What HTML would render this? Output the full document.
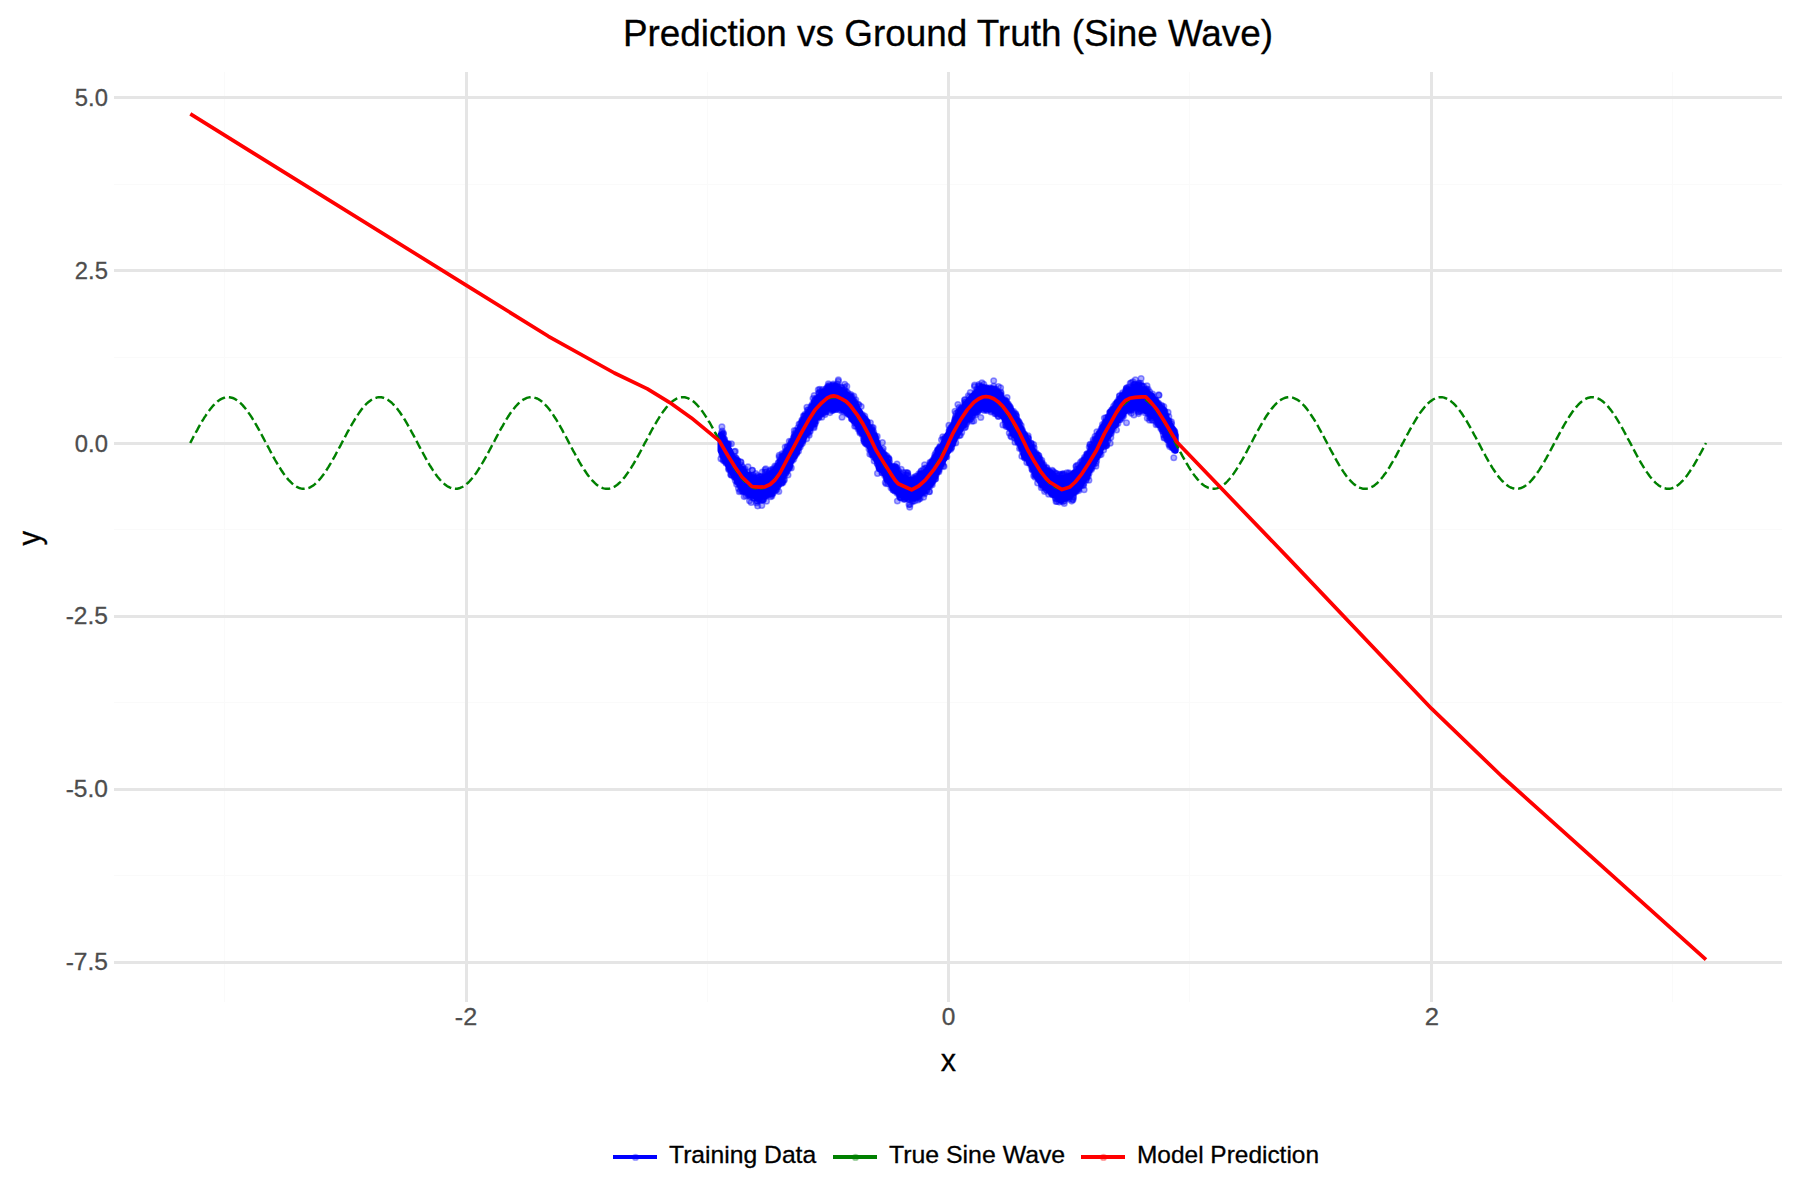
<!DOCTYPE html>
<html lang="en"><head><meta charset="utf-8"><title>Prediction vs Ground Truth (Sine Wave)</title>
<style>html,body{margin:0;padding:0;background:#fff}body{width:1800px;height:1200px;overflow:hidden}svg{display:block}</style>
</head><body>
<svg width="1800" height="1200" viewBox="0 0 1800 1200">
<rect width="1800" height="1200" fill="#fff"/>
<g stroke="#fafafa" stroke-width="1" fill="none">
<path d="M224.5 72V1002"/>
<path d="M707.5 72V1002"/>
<path d="M1189.5 72V1002"/>
<path d="M1672.5 72V1002"/>
<path d="M114 184.5H1782"/>
<path d="M114 357.5H1782"/>
<path d="M114 529.5H1782"/>
<path d="M114 702.5H1782"/>
<path d="M114 875.5H1782"/>
</g>
<g stroke="#e5e5e5" stroke-width="3" fill="none">
<path d="M466.5 72V1002"/>
<path d="M948.5 72V1002"/>
<path d="M1431.5 72V1002"/>
<path d="M114 97.5H1782"/>
<path d="M114 270.5H1782"/>
<path d="M114 443.5H1782"/>
<path d="M114 616.5H1782"/>
<path d="M114 789.5H1782"/>
<path d="M114 962.5H1782"/>
</g>
<polygon points="720.7,435.4 721.9,437.6 723,439.7 724.1,441.9 725.3,444 726.4,446.1 727.6,448.2 728.7,450.3 729.8,452.3 731,454.3 732.1,456.2 733.3,458.1 734.4,460 735.5,461.8 736.7,463.5 737.8,465.2 739,466.8 740.1,468.4 741.2,469.8 742.4,471.2 743.5,472.5 744.7,473.7 745.8,474.9 746.9,475.9 748.1,476.9 749.2,477.8 750.4,478.5 751.5,479.2 752.6,479.8 753.8,480.3 754.9,480.7 756.1,480.9 757.2,481.1 758.3,481.2 759.5,481.2 760.6,481 761.8,480.8 762.9,480.5 764,480.1 765.2,479.5 766.3,478.9 767.5,478.2 768.6,477.3 769.7,476.4 770.9,475.4 772,474.3 773.2,473.1 774.3,471.9 775.4,470.5 776.6,469.1 777.7,467.6 778.9,466 780,464.4 781.1,462.7 782.3,460.9 783.4,459.1 784.6,457.2 785.7,455.3 786.8,453.3 788,451.3 789.1,449.2 790.2,447.2 791.4,445.1 792.5,442.9 793.7,440.8 794.8,438.6 795.9,436.5 797.1,434.3 798.2,432.2 799.4,430 800.5,427.9 801.6,425.7 802.8,423.6 803.9,421.6 805.1,419.5 806.2,417.5 807.3,415.5 808.5,413.6 809.6,411.7 810.8,409.9 811.9,408.1 813,406.4 814.2,404.8 815.3,403.2 816.5,401.7 817.6,400.3 818.7,398.9 819.9,397.7 821,396.5 822.2,395.4 823.3,394.4 824.4,393.5 825.6,392.6 826.7,391.9 827.9,391.3 829,390.7 830.1,390.3 831.3,390 832.4,389.8 833.6,389.6 834.7,389.6 835.8,389.7 837,389.9 838.1,390.1 839.3,390.5 840.4,391 841.5,391.6 842.7,392.3 843.8,393 845,393.9 846.1,394.9 847.2,395.9 848.4,397.1 849.5,398.3 850.7,399.6 851.8,401 852.9,402.4 854.1,404 855.2,405.6 856.4,407.3 857.5,409 858.6,410.8 859.8,412.7 860.9,414.6 862.1,416.5 863.2,418.5 864.3,420.5 865.5,422.6 866.6,424.7 867.8,426.8 868.9,428.9 870,431.1 871.2,433.2 872.3,435.4 873.4,437.6 874.6,439.7 875.7,441.9 876.9,444 878,446.1 879.1,448.2 880.3,450.3 881.4,452.3 882.6,454.3 883.7,456.2 884.8,458.1 886,460 887.1,461.8 888.3,463.5 889.4,465.2 890.5,466.8 891.7,468.4 892.8,469.8 894,471.2 895.1,472.5 896.2,473.7 897.4,474.9 898.5,475.9 899.7,476.9 900.8,477.8 901.9,478.5 903.1,479.2 904.2,479.8 905.4,480.3 906.5,480.7 907.6,480.9 908.8,481.1 909.9,481.2 911.1,481.2 912.2,481 913.3,480.8 914.5,480.5 915.6,480.1 916.8,479.5 917.9,478.9 919,478.2 920.2,477.3 921.3,476.4 922.5,475.4 923.6,474.3 924.7,473.1 925.9,471.9 927,470.5 928.2,469.1 929.3,467.6 930.4,466 931.6,464.4 932.7,462.7 933.9,460.9 935,459.1 936.1,457.2 937.3,455.3 938.4,453.3 939.6,451.3 940.7,449.2 941.8,447.2 943,445.1 944.1,442.9 945.3,440.8 946.4,438.6 947.5,436.5 948.7,434.3 949.8,432.2 950.9,430 952.1,427.9 953.2,425.7 954.4,423.6 955.5,421.6 956.6,419.5 957.8,417.5 958.9,415.5 960.1,413.6 961.2,411.7 962.3,409.9 963.5,408.1 964.6,406.4 965.8,404.8 966.9,403.2 968,401.7 969.2,400.3 970.3,398.9 971.5,397.7 972.6,396.5 973.7,395.4 974.9,394.4 976,393.5 977.2,392.6 978.3,391.9 979.4,391.3 980.6,390.7 981.7,390.3 982.9,390 984,389.8 985.1,389.6 986.3,389.6 987.4,389.7 988.6,389.9 989.7,390.1 990.8,390.5 992,391 993.1,391.6 994.3,392.3 995.4,393 996.5,393.9 997.7,394.9 998.8,395.9 1000,397.1 1001.1,398.3 1002.2,399.6 1003.4,401 1004.5,402.4 1005.7,404 1006.8,405.6 1007.9,407.3 1009.1,409 1010.2,410.8 1011.4,412.7 1012.5,414.6 1013.6,416.5 1014.8,418.5 1015.9,420.5 1017.1,422.6 1018.2,424.7 1019.3,426.8 1020.5,428.9 1021.6,431.1 1022.8,433.2 1023.9,435.4 1025,437.6 1026.2,439.7 1027.3,441.9 1028.4,444 1029.6,446.1 1030.7,448.2 1031.9,450.3 1033,452.3 1034.1,454.3 1035.3,456.2 1036.4,458.1 1037.6,460 1038.7,461.8 1039.8,463.5 1041,465.2 1042.1,466.8 1043.3,468.4 1044.4,469.8 1045.5,471.2 1046.7,472.5 1047.8,473.7 1049,474.9 1050.1,475.9 1051.2,476.9 1052.4,477.8 1053.5,478.5 1054.7,479.2 1055.8,479.8 1056.9,480.3 1058.1,480.7 1059.2,480.9 1060.4,481.1 1061.5,481.2 1062.6,481.2 1063.8,481 1064.9,480.8 1066.1,480.5 1067.2,480.1 1068.3,479.5 1069.5,478.9 1070.6,478.2 1071.8,477.3 1072.9,476.4 1074,475.4 1075.2,474.3 1076.3,473.1 1077.5,471.9 1078.6,470.5 1079.7,469.1 1080.9,467.6 1082,466 1083.2,464.4 1084.3,462.7 1085.4,460.9 1086.6,459.1 1087.7,457.2 1088.9,455.3 1090,453.3 1091.1,451.3 1092.3,449.2 1093.4,447.2 1094.6,445.1 1095.7,442.9 1096.8,440.8 1098,438.6 1099.1,436.5 1100.3,434.3 1101.4,432.2 1102.5,430 1103.7,427.9 1104.8,425.7 1106,423.6 1107.1,421.6 1108.2,419.5 1109.4,417.5 1110.5,415.5 1111.6,413.6 1112.8,411.7 1113.9,409.9 1115.1,408.1 1116.2,406.4 1117.3,404.8 1118.5,403.2 1119.6,401.7 1120.8,400.3 1121.9,398.9 1123,397.7 1124.2,396.5 1125.3,395.4 1126.5,394.4 1127.6,393.5 1128.7,392.6 1129.9,391.9 1131,391.3 1132.2,390.7 1133.3,390.3 1134.4,390 1135.6,389.8 1136.7,389.6 1137.9,389.6 1139,389.7 1140.1,389.9 1141.3,390.1 1142.4,390.5 1143.6,391 1144.7,391.6 1145.8,392.3 1147,393 1148.1,393.9 1149.3,394.9 1150.4,395.9 1151.5,397.1 1152.7,398.3 1153.8,399.6 1155,401 1156.1,402.4 1157.2,404 1158.4,405.6 1159.5,407.3 1160.7,409 1161.8,410.8 1162.9,412.7 1164.1,414.6 1165.2,416.5 1166.4,418.5 1167.5,420.5 1168.6,422.6 1169.8,424.7 1170.9,426.8 1172.1,428.9 1173.2,431.1 1174.3,433.2 1175.5,435.4 1175.5,450.6 1174.3,448.4 1173.2,446.3 1172.1,444.1 1170.9,442 1169.8,439.9 1168.6,437.8 1167.5,435.7 1166.4,433.7 1165.2,431.7 1164.1,429.8 1162.9,427.9 1161.8,426 1160.7,424.2 1159.5,422.5 1158.4,420.8 1157.2,419.2 1156.1,417.6 1155,416.2 1153.8,414.8 1152.7,413.5 1151.5,412.3 1150.4,411.1 1149.3,410.1 1148.1,409.1 1147,408.2 1145.8,407.5 1144.7,406.8 1143.6,406.2 1142.4,405.7 1141.3,405.3 1140.1,405.1 1139,404.9 1137.9,404.8 1136.7,404.8 1135.6,405 1134.4,405.2 1133.3,405.5 1132.2,405.9 1131,406.5 1129.9,407.1 1128.7,407.8 1127.6,408.7 1126.5,409.6 1125.3,410.6 1124.2,411.7 1123,412.9 1121.9,414.1 1120.8,415.5 1119.6,416.9 1118.5,418.4 1117.3,420 1116.2,421.6 1115.1,423.3 1113.9,425.1 1112.8,426.9 1111.6,428.8 1110.5,430.7 1109.4,432.7 1108.2,434.7 1107.1,436.8 1106,438.8 1104.8,440.9 1103.7,443.1 1102.5,445.2 1101.4,447.4 1100.3,449.5 1099.1,451.7 1098,453.8 1096.8,456 1095.7,458.1 1094.6,460.3 1093.4,462.4 1092.3,464.4 1091.1,466.5 1090,468.5 1088.9,470.5 1087.7,472.4 1086.6,474.3 1085.4,476.1 1084.3,477.9 1083.2,479.6 1082,481.2 1080.9,482.8 1079.7,484.3 1078.6,485.7 1077.5,487.1 1076.3,488.3 1075.2,489.5 1074,490.6 1072.9,491.6 1071.8,492.5 1070.6,493.4 1069.5,494.1 1068.3,494.7 1067.2,495.3 1066.1,495.7 1064.9,496 1063.8,496.2 1062.6,496.4 1061.5,496.4 1060.4,496.3 1059.2,496.1 1058.1,495.9 1056.9,495.5 1055.8,495 1054.7,494.4 1053.5,493.7 1052.4,493 1051.2,492.1 1050.1,491.1 1049,490.1 1047.8,488.9 1046.7,487.7 1045.5,486.4 1044.4,485 1043.3,483.6 1042.1,482 1041,480.4 1039.8,478.7 1038.7,477 1037.6,475.2 1036.4,473.3 1035.3,471.4 1034.1,469.5 1033,467.5 1031.9,465.5 1030.7,463.4 1029.6,461.3 1028.4,459.2 1027.3,457.1 1026.2,454.9 1025,452.8 1023.9,450.6 1022.8,448.4 1021.6,446.3 1020.5,444.1 1019.3,442 1018.2,439.9 1017.1,437.8 1015.9,435.7 1014.8,433.7 1013.6,431.7 1012.5,429.8 1011.4,427.9 1010.2,426 1009.1,424.2 1007.9,422.5 1006.8,420.8 1005.7,419.2 1004.5,417.6 1003.4,416.2 1002.2,414.8 1001.1,413.5 1000,412.3 998.8,411.1 997.7,410.1 996.5,409.1 995.4,408.2 994.3,407.5 993.1,406.8 992,406.2 990.8,405.7 989.7,405.3 988.6,405.1 987.4,404.9 986.3,404.8 985.1,404.8 984,405 982.9,405.2 981.7,405.5 980.6,405.9 979.4,406.5 978.3,407.1 977.2,407.8 976,408.7 974.9,409.6 973.7,410.6 972.6,411.7 971.5,412.9 970.3,414.1 969.2,415.5 968,416.9 966.9,418.4 965.8,420 964.6,421.6 963.5,423.3 962.3,425.1 961.2,426.9 960.1,428.8 958.9,430.7 957.8,432.7 956.6,434.7 955.5,436.8 954.4,438.8 953.2,440.9 952.1,443.1 950.9,445.2 949.8,447.4 948.7,449.5 947.5,451.7 946.4,453.8 945.3,456 944.1,458.1 943,460.3 941.8,462.4 940.7,464.4 939.6,466.5 938.4,468.5 937.3,470.5 936.1,472.4 935,474.3 933.9,476.1 932.7,477.9 931.6,479.6 930.4,481.2 929.3,482.8 928.2,484.3 927,485.7 925.9,487.1 924.7,488.3 923.6,489.5 922.5,490.6 921.3,491.6 920.2,492.5 919,493.4 917.9,494.1 916.8,494.7 915.6,495.3 914.5,495.7 913.3,496 912.2,496.2 911.1,496.4 909.9,496.4 908.8,496.3 907.6,496.1 906.5,495.9 905.4,495.5 904.2,495 903.1,494.4 901.9,493.7 900.8,493 899.7,492.1 898.5,491.1 897.4,490.1 896.2,488.9 895.1,487.7 894,486.4 892.8,485 891.7,483.6 890.5,482 889.4,480.4 888.3,478.7 887.1,477 886,475.2 884.8,473.3 883.7,471.4 882.6,469.5 881.4,467.5 880.3,465.5 879.1,463.4 878,461.3 876.9,459.2 875.7,457.1 874.6,454.9 873.4,452.8 872.3,450.6 871.2,448.4 870,446.3 868.9,444.1 867.8,442 866.6,439.9 865.5,437.8 864.3,435.7 863.2,433.7 862.1,431.7 860.9,429.8 859.8,427.9 858.6,426 857.5,424.2 856.4,422.5 855.2,420.8 854.1,419.2 852.9,417.6 851.8,416.2 850.7,414.8 849.5,413.5 848.4,412.3 847.2,411.1 846.1,410.1 845,409.1 843.8,408.2 842.7,407.5 841.5,406.8 840.4,406.2 839.3,405.7 838.1,405.3 837,405.1 835.8,404.9 834.7,404.8 833.6,404.8 832.4,405 831.3,405.2 830.1,405.5 829,405.9 827.9,406.5 826.7,407.1 825.6,407.8 824.4,408.7 823.3,409.6 822.2,410.6 821,411.7 819.9,412.9 818.7,414.1 817.6,415.5 816.5,416.9 815.3,418.4 814.2,420 813,421.6 811.9,423.3 810.8,425.1 809.6,426.9 808.5,428.8 807.3,430.7 806.2,432.7 805.1,434.7 803.9,436.8 802.8,438.8 801.6,440.9 800.5,443.1 799.4,445.2 798.2,447.4 797.1,449.5 795.9,451.7 794.8,453.8 793.7,456 792.5,458.1 791.4,460.3 790.2,462.4 789.1,464.4 788,466.5 786.8,468.5 785.7,470.5 784.6,472.4 783.4,474.3 782.3,476.1 781.1,477.9 780,479.6 778.9,481.2 777.7,482.8 776.6,484.3 775.4,485.7 774.3,487.1 773.2,488.3 772,489.5 770.9,490.6 769.7,491.6 768.6,492.5 767.5,493.4 766.3,494.1 765.2,494.7 764,495.3 762.9,495.7 761.8,496 760.6,496.2 759.5,496.4 758.3,496.4 757.2,496.3 756.1,496.1 754.9,495.9 753.8,495.5 752.6,495 751.5,494.4 750.4,493.7 749.2,493 748.1,492.1 746.9,491.1 745.8,490.1 744.7,488.9 743.5,487.7 742.4,486.4 741.2,485 740.1,483.6 739,482 737.8,480.4 736.7,478.7 735.5,477 734.4,475.2 733.3,473.3 732.1,471.4 731,469.5 729.8,467.5 728.7,465.5 727.6,463.4 726.4,461.3 725.3,459.2 724.1,457.1 723,454.9 721.9,452.8 720.7,450.6" fill="#0000ff" stroke="#0000ff" stroke-width="6.4" stroke-linejoin="round"/>
<g fill="#0000ff" fill-opacity=".33" stroke="#0000ff" stroke-opacity=".4" stroke-width="1.5">
<circle cx="1073.5" cy="497.4" r="2.8"/><circle cx="836.6" cy="404.1" r="2.8"/><circle cx="972.4" cy="396.2" r="2.8"/><circle cx="1170.5" cy="440.7" r="2.8"/><circle cx="737" cy="482" r="2.8"/><circle cx="954.9" cy="419.3" r="2.8"/><circle cx="946.7" cy="438.7" r="2.8"/><circle cx="833.3" cy="384.1" r="2.8"/><circle cx="1035.4" cy="474.7" r="2.8"/><circle cx="888.8" cy="464.9" r="2.8"/><circle cx="722.4" cy="434.5" r="2.8"/><circle cx="1121.1" cy="398.9" r="2.8"/><circle cx="1106" cy="417.8" r="2.8"/><circle cx="1058" cy="478.9" r="2.8"/><circle cx="762.3" cy="472.1" r="2.8"/><circle cx="867.6" cy="445" r="2.8"/><circle cx="1092" cy="446.5" r="2.8"/><circle cx="1165.8" cy="436.3" r="2.8"/><circle cx="789.3" cy="441.3" r="2.8"/><circle cx="921" cy="491.3" r="2.8"/><circle cx="764.7" cy="480.5" r="2.8"/><circle cx="1118.2" cy="403.6" r="2.8"/><circle cx="1131.8" cy="391.2" r="2.8"/><circle cx="979.8" cy="406.6" r="2.8"/><circle cx="1142.7" cy="407.8" r="2.8"/><circle cx="802.8" cy="421.9" r="2.8"/><circle cx="979.8" cy="408.9" r="2.8"/><circle cx="738" cy="480.5" r="2.8"/><circle cx="933.4" cy="477.3" r="2.8"/><circle cx="1062.4" cy="474.8" r="2.8"/><circle cx="890" cy="481.6" r="2.8"/><circle cx="776.6" cy="489.9" r="2.8"/><circle cx="989.2" cy="405" r="2.8"/><circle cx="956.8" cy="419.4" r="2.8"/><circle cx="1006.5" cy="403.4" r="2.8"/><circle cx="1050.8" cy="473.4" r="2.8"/><circle cx="823.7" cy="411.2" r="2.8"/><circle cx="811" cy="406.2" r="2.8"/><circle cx="1151.9" cy="420" r="2.8"/><circle cx="844.2" cy="411.1" r="2.8"/><circle cx="922.9" cy="474.1" r="2.8"/><circle cx="1058.5" cy="479.3" r="2.8"/><circle cx="914.7" cy="501" r="2.8"/><circle cx="752" cy="494" r="2.8"/><circle cx="1028.3" cy="438.6" r="2.8"/><circle cx="1046.8" cy="467.6" r="2.8"/><circle cx="1007" cy="406.1" r="2.8"/><circle cx="1162.5" cy="410.7" r="2.8"/><circle cx="813" cy="425.5" r="2.8"/><circle cx="1137" cy="404" r="2.8"/><circle cx="771.8" cy="473.7" r="2.8"/><circle cx="991.2" cy="388.6" r="2.8"/><circle cx="1052.7" cy="473.9" r="2.8"/><circle cx="772.2" cy="470.6" r="2.8"/><circle cx="1137.1" cy="389.2" r="2.8"/><circle cx="833.8" cy="390.1" r="2.8"/><circle cx="978.6" cy="386.1" r="2.8"/><circle cx="738.5" cy="488.4" r="2.8"/><circle cx="989.2" cy="389.5" r="2.8"/><circle cx="965.6" cy="402.1" r="2.8"/><circle cx="1020" cy="442.2" r="2.8"/><circle cx="807.7" cy="412.4" r="2.8"/><circle cx="874.7" cy="435.6" r="2.8"/><circle cx="865.3" cy="443" r="2.8"/><circle cx="1083.2" cy="481.1" r="2.8"/><circle cx="779.5" cy="481.6" r="2.8"/><circle cx="1122.1" cy="417.9" r="2.8"/><circle cx="997.8" cy="410.1" r="2.8"/><circle cx="1008.1" cy="425.2" r="2.8"/><circle cx="1095.4" cy="438.8" r="2.8"/><circle cx="1086.1" cy="480.2" r="2.8"/><circle cx="1115.1" cy="404.2" r="2.8"/><circle cx="794.2" cy="433.7" r="2.8"/><circle cx="818.4" cy="417.7" r="2.8"/><circle cx="893.2" cy="484.7" r="2.8"/><circle cx="835.7" cy="409.4" r="2.8"/><circle cx="766.7" cy="477.2" r="2.8"/><circle cx="893.8" cy="472" r="2.8"/><circle cx="1098.4" cy="438.1" r="2.8"/><circle cx="870.7" cy="448.1" r="2.8"/><circle cx="928.7" cy="486.5" r="2.8"/><circle cx="984" cy="407.2" r="2.8"/><circle cx="1067.8" cy="479.3" r="2.8"/><circle cx="781.3" cy="483" r="2.8"/><circle cx="757.7" cy="505.9" r="2.8"/><circle cx="860.1" cy="428.6" r="2.8"/><circle cx="918.5" cy="478.7" r="2.8"/><circle cx="764.8" cy="475.6" r="2.8"/><circle cx="889.3" cy="459.3" r="2.8"/><circle cx="749.9" cy="495.3" r="2.8"/><circle cx="807.5" cy="431.1" r="2.8"/><circle cx="841.8" cy="406" r="2.8"/><circle cx="1104.1" cy="442.8" r="2.8"/><circle cx="923" cy="490" r="2.8"/><circle cx="1104.7" cy="441.3" r="2.8"/><circle cx="1048.9" cy="474.5" r="2.8"/><circle cx="896.9" cy="475.1" r="2.8"/><circle cx="1066.5" cy="497.9" r="2.8"/><circle cx="1172.3" cy="429" r="2.8"/><circle cx="1096" cy="463.3" r="2.8"/><circle cx="1170" cy="444.6" r="2.8"/><circle cx="982.2" cy="408.3" r="2.8"/><circle cx="923.7" cy="469.1" r="2.8"/><circle cx="1062" cy="475.9" r="2.8"/><circle cx="819.5" cy="397.4" r="2.8"/><circle cx="746.5" cy="493.2" r="2.8"/><circle cx="1124.9" cy="394.1" r="2.8"/><circle cx="832.9" cy="405.8" r="2.8"/><circle cx="800.9" cy="426.5" r="2.8"/><circle cx="1112" cy="428.3" r="2.8"/><circle cx="940.9" cy="447.4" r="2.8"/><circle cx="804.3" cy="416" r="2.8"/><circle cx="1117.9" cy="423.4" r="2.8"/><circle cx="1148.9" cy="395" r="2.8"/><circle cx="828.3" cy="407.4" r="2.8"/><circle cx="932.2" cy="461.4" r="2.8"/><circle cx="1066.8" cy="497.4" r="2.8"/><circle cx="1097.7" cy="454.9" r="2.8"/><circle cx="796.1" cy="437" r="2.8"/><circle cx="1138.8" cy="390" r="2.8"/><circle cx="992" cy="390.6" r="2.8"/><circle cx="791.3" cy="467.9" r="2.8"/><circle cx="1159.8" cy="423.7" r="2.8"/><circle cx="1153" cy="398.8" r="2.8"/><circle cx="1025.3" cy="436" r="2.8"/><circle cx="1070.5" cy="476.6" r="2.8"/><circle cx="750.4" cy="478" r="2.8"/><circle cx="727.7" cy="462.8" r="2.8"/><circle cx="933.9" cy="461.5" r="2.8"/><circle cx="958.7" cy="414.2" r="2.8"/><circle cx="759.3" cy="476.7" r="2.8"/><circle cx="974.5" cy="386.5" r="2.8"/><circle cx="971.2" cy="412.4" r="2.8"/><circle cx="1093.1" cy="465.9" r="2.8"/><circle cx="974.6" cy="385.1" r="2.8"/><circle cx="900.8" cy="493.6" r="2.8"/><circle cx="932.9" cy="460" r="2.8"/><circle cx="1064.3" cy="503.5" r="2.8"/><circle cx="1096.7" cy="455.3" r="2.8"/><circle cx="898" cy="489.7" r="2.8"/><circle cx="1112" cy="413.5" r="2.8"/><circle cx="984.3" cy="404.7" r="2.8"/><circle cx="1023" cy="453" r="2.8"/><circle cx="986.1" cy="408.2" r="2.8"/><circle cx="881" cy="452.4" r="2.8"/><circle cx="889.7" cy="481.9" r="2.8"/><circle cx="945.3" cy="455.6" r="2.8"/><circle cx="1114.8" cy="407.9" r="2.8"/><circle cx="1069.9" cy="493" r="2.8"/><circle cx="812.3" cy="408.5" r="2.8"/><circle cx="864.7" cy="416.1" r="2.8"/><circle cx="1042" cy="462.8" r="2.8"/><circle cx="1054" cy="478.5" r="2.8"/><circle cx="832.7" cy="410.4" r="2.8"/><circle cx="859.9" cy="431.8" r="2.8"/><circle cx="837.3" cy="390.6" r="2.8"/><circle cx="913" cy="501.3" r="2.8"/><circle cx="1043.4" cy="484" r="2.8"/><circle cx="809.7" cy="427.7" r="2.8"/><circle cx="866.9" cy="421.8" r="2.8"/><circle cx="1070.1" cy="494.5" r="2.8"/><circle cx="1019.2" cy="441.7" r="2.8"/><circle cx="783.5" cy="474.1" r="2.8"/><circle cx="849.6" cy="394.9" r="2.8"/><circle cx="794.8" cy="437.7" r="2.8"/><circle cx="843.3" cy="408" r="2.8"/><circle cx="793.9" cy="440.1" r="2.8"/><circle cx="1024.6" cy="456.4" r="2.8"/><circle cx="735.5" cy="462.3" r="2.8"/><circle cx="1098.6" cy="438.2" r="2.8"/><circle cx="873.4" cy="434" r="2.8"/><circle cx="1036.3" cy="473.5" r="2.8"/><circle cx="912.2" cy="497.1" r="2.8"/><circle cx="873.8" cy="437.5" r="2.8"/><circle cx="1142.7" cy="409.9" r="2.8"/><circle cx="1078.6" cy="468.4" r="2.8"/><circle cx="832.4" cy="406.2" r="2.8"/><circle cx="1084.3" cy="460.4" r="2.8"/><circle cx="817.3" cy="398.7" r="2.8"/><circle cx="842.4" cy="411.5" r="2.8"/><circle cx="842.8" cy="408.3" r="2.8"/><circle cx="1040.1" cy="480.2" r="2.8"/><circle cx="759.1" cy="496.3" r="2.8"/><circle cx="997.3" cy="392.2" r="2.8"/><circle cx="1112.9" cy="411.7" r="2.8"/><circle cx="1009.8" cy="406.4" r="2.8"/><circle cx="892.7" cy="466.6" r="2.8"/><circle cx="1038.3" cy="479.1" r="2.8"/><circle cx="813.8" cy="426.8" r="2.8"/><circle cx="1053.1" cy="493.7" r="2.8"/><circle cx="924.5" cy="494" r="2.8"/><circle cx="820.5" cy="397" r="2.8"/><circle cx="844" cy="408.6" r="2.8"/><circle cx="1140.2" cy="388.4" r="2.8"/><circle cx="844.9" cy="408.5" r="2.8"/><circle cx="936.3" cy="471.4" r="2.8"/><circle cx="1114.2" cy="409.9" r="2.8"/><circle cx="888.5" cy="464.2" r="2.8"/><circle cx="1066.4" cy="497.8" r="2.8"/><circle cx="841.2" cy="387.1" r="2.8"/><circle cx="934.3" cy="460" r="2.8"/><circle cx="790.5" cy="461.1" r="2.8"/><circle cx="758" cy="496.8" r="2.8"/><circle cx="867.9" cy="427.8" r="2.8"/><circle cx="944" cy="457.5" r="2.8"/><circle cx="1002.3" cy="415.5" r="2.8"/><circle cx="1092.2" cy="450.1" r="2.8"/><circle cx="782.2" cy="460.7" r="2.8"/><circle cx="769.4" cy="474.6" r="2.8"/><circle cx="766.8" cy="494.5" r="2.8"/><circle cx="834.2" cy="389.7" r="2.8"/><circle cx="740.9" cy="462.1" r="2.8"/><circle cx="808.3" cy="433.7" r="2.8"/><circle cx="1139.8" cy="389.6" r="2.8"/><circle cx="773.6" cy="488.7" r="2.8"/><circle cx="1021.7" cy="446.4" r="2.8"/><circle cx="951.7" cy="447.1" r="2.8"/><circle cx="795.9" cy="452.5" r="2.8"/><circle cx="850.1" cy="415.1" r="2.8"/><circle cx="819.2" cy="416.5" r="2.8"/><circle cx="779.9" cy="464.8" r="2.8"/><circle cx="932.1" cy="479.9" r="2.8"/><circle cx="987.6" cy="404.1" r="2.8"/><circle cx="1064.1" cy="477.6" r="2.8"/><circle cx="905.7" cy="474.9" r="2.8"/><circle cx="1124.1" cy="397.1" r="2.8"/><circle cx="784.2" cy="456.6" r="2.8"/><circle cx="1147.3" cy="418.3" r="2.8"/><circle cx="751.2" cy="493.3" r="2.8"/><circle cx="1056" cy="501.5" r="2.8"/><circle cx="1029.3" cy="461.3" r="2.8"/><circle cx="1174.2" cy="430.7" r="2.8"/><circle cx="907.7" cy="475.7" r="2.8"/><circle cx="926.7" cy="468.1" r="2.8"/><circle cx="1064.8" cy="495.1" r="2.8"/><circle cx="924.5" cy="492.6" r="2.8"/><circle cx="917.5" cy="495.2" r="2.8"/><circle cx="825.4" cy="409.1" r="2.8"/><circle cx="855.5" cy="420.8" r="2.8"/><circle cx="836" cy="407.4" r="2.8"/><circle cx="757.1" cy="480.8" r="2.8"/><circle cx="836" cy="388.3" r="2.8"/><circle cx="811.8" cy="422.5" r="2.8"/><circle cx="1171.6" cy="424" r="2.8"/><circle cx="996" cy="392.5" r="2.8"/><circle cx="1040.1" cy="459.8" r="2.8"/><circle cx="869.8" cy="427.6" r="2.8"/><circle cx="872.3" cy="453.1" r="2.8"/><circle cx="734.8" cy="475.1" r="2.8"/><circle cx="1042.9" cy="486.9" r="2.8"/><circle cx="1008.7" cy="405.5" r="2.8"/><circle cx="1131.3" cy="413.3" r="2.8"/><circle cx="1082.7" cy="485" r="2.8"/><circle cx="1153.8" cy="415.5" r="2.8"/><circle cx="1090" cy="451.4" r="2.8"/><circle cx="926.5" cy="486.8" r="2.8"/><circle cx="724.4" cy="460.9" r="2.8"/><circle cx="848.2" cy="414.5" r="2.8"/><circle cx="949.9" cy="448.2" r="2.8"/><circle cx="918.7" cy="495.9" r="2.8"/><circle cx="1153.3" cy="413.3" r="2.8"/><circle cx="1152.2" cy="396.4" r="2.8"/><circle cx="1004.4" cy="402" r="2.8"/><circle cx="816.2" cy="416.7" r="2.8"/><circle cx="746.6" cy="476.1" r="2.8"/><circle cx="799.4" cy="430.7" r="2.8"/><circle cx="1085.9" cy="479.4" r="2.8"/><circle cx="872.6" cy="429.9" r="2.8"/><circle cx="1087.8" cy="454.9" r="2.8"/><circle cx="967.1" cy="417.4" r="2.8"/><circle cx="893.1" cy="486.4" r="2.8"/><circle cx="880" cy="468.5" r="2.8"/><circle cx="752.3" cy="470.3" r="2.8"/><circle cx="765.1" cy="469.8" r="2.8"/><circle cx="1166.7" cy="435.2" r="2.8"/><circle cx="1003.5" cy="401.1" r="2.8"/><circle cx="957.8" cy="431.8" r="2.8"/><circle cx="852.9" cy="416.7" r="2.8"/><circle cx="814.2" cy="404.7" r="2.8"/><circle cx="950.4" cy="449.4" r="2.8"/><circle cx="1026.7" cy="458.5" r="2.8"/><circle cx="783" cy="482.5" r="2.8"/><circle cx="857.5" cy="424.6" r="2.8"/><circle cx="760" cy="481" r="2.8"/><circle cx="1086.6" cy="473.4" r="2.8"/><circle cx="1113.6" cy="425.9" r="2.8"/><circle cx="772.6" cy="493.4" r="2.8"/><circle cx="1069.3" cy="496.9" r="2.8"/><circle cx="1171.8" cy="428.5" r="2.8"/><circle cx="1075.1" cy="472.6" r="2.8"/><circle cx="800.6" cy="442.7" r="2.8"/><circle cx="1138.8" cy="383" r="2.8"/><circle cx="1146.1" cy="409.8" r="2.8"/><circle cx="1151.8" cy="397.5" r="2.8"/><circle cx="734.4" cy="451.5" r="2.8"/><circle cx="1173" cy="447.5" r="2.8"/><circle cx="754.3" cy="479.2" r="2.8"/><circle cx="888" cy="483.6" r="2.8"/><circle cx="859.3" cy="428.1" r="2.8"/><circle cx="890" cy="466.5" r="2.8"/><circle cx="1157.6" cy="423.8" r="2.8"/><circle cx="854.4" cy="421.2" r="2.8"/><circle cx="1074.6" cy="492.4" r="2.8"/><circle cx="855.8" cy="407.1" r="2.8"/><circle cx="990.1" cy="409.4" r="2.8"/><circle cx="1070.7" cy="478.5" r="2.8"/><circle cx="985.4" cy="388.1" r="2.8"/><circle cx="1078.7" cy="489" r="2.8"/><circle cx="810.3" cy="409.6" r="2.8"/><circle cx="868.4" cy="428.6" r="2.8"/><circle cx="885.3" cy="482.6" r="2.8"/><circle cx="1121" cy="415.2" r="2.8"/><circle cx="745" cy="469" r="2.8"/><circle cx="874.5" cy="454.2" r="2.8"/><circle cx="1041.8" cy="460.2" r="2.8"/><circle cx="934.9" cy="454.9" r="2.8"/><circle cx="778.7" cy="465.1" r="2.8"/><circle cx="1098.3" cy="436.5" r="2.8"/><circle cx="855.9" cy="404.7" r="2.8"/><circle cx="997.9" cy="391.6" r="2.8"/><circle cx="1119.5" cy="416.5" r="2.8"/><circle cx="1084.9" cy="458.8" r="2.8"/><circle cx="1136.5" cy="386.2" r="2.8"/><circle cx="902.1" cy="478.5" r="2.8"/><circle cx="866.3" cy="439.3" r="2.8"/><circle cx="1142.3" cy="406" r="2.8"/><circle cx="1127.1" cy="394" r="2.8"/><circle cx="897" cy="469.8" r="2.8"/><circle cx="1158.4" cy="403" r="2.8"/><circle cx="1160.8" cy="428.4" r="2.8"/><circle cx="1173.5" cy="448.1" r="2.8"/><circle cx="958" cy="412.2" r="2.8"/><circle cx="886.2" cy="483.8" r="2.8"/><circle cx="778.3" cy="467.3" r="2.8"/><circle cx="743.6" cy="473.4" r="2.8"/><circle cx="1001.1" cy="395.4" r="2.8"/><circle cx="828.3" cy="391.3" r="2.8"/><circle cx="1128.9" cy="408.7" r="2.8"/><circle cx="743.5" cy="469.9" r="2.8"/><circle cx="1147.8" cy="394" r="2.8"/><circle cx="907.2" cy="480.5" r="2.8"/><circle cx="728.5" cy="464.2" r="2.8"/><circle cx="1033.3" cy="450.7" r="2.8"/><circle cx="887" cy="478.1" r="2.8"/><circle cx="945.1" cy="441.6" r="2.8"/><circle cx="1101.3" cy="428.5" r="2.8"/><circle cx="877.1" cy="459.7" r="2.8"/><circle cx="1131" cy="390.7" r="2.8"/><circle cx="783.8" cy="456.3" r="2.8"/><circle cx="748.5" cy="476.8" r="2.8"/><circle cx="886.3" cy="478.4" r="2.8"/><circle cx="1071.7" cy="501.1" r="2.8"/><circle cx="1028.7" cy="443.2" r="2.8"/><circle cx="885.3" cy="474.2" r="2.8"/><circle cx="865.7" cy="437.4" r="2.8"/><circle cx="984.4" cy="389.1" r="2.8"/><circle cx="781.7" cy="482.3" r="2.8"/><circle cx="1057.5" cy="496.2" r="2.8"/><circle cx="730.8" cy="474.2" r="2.8"/><circle cx="931.9" cy="463.5" r="2.8"/><circle cx="1092.4" cy="444.3" r="2.8"/><circle cx="1051.8" cy="476.5" r="2.8"/><circle cx="1060.4" cy="474.5" r="2.8"/><circle cx="874.4" cy="454.2" r="2.8"/><circle cx="869.4" cy="430.6" r="2.8"/><circle cx="1030.1" cy="446.8" r="2.8"/><circle cx="762.8" cy="499.7" r="2.8"/><circle cx="873.1" cy="437.9" r="2.8"/><circle cx="1148.1" cy="389.3" r="2.8"/><circle cx="1108.8" cy="434.6" r="2.8"/><circle cx="879.5" cy="468.5" r="2.8"/><circle cx="905.9" cy="472.6" r="2.8"/><circle cx="964.6" cy="400.4" r="2.8"/><circle cx="787.3" cy="468.8" r="2.8"/><circle cx="806.9" cy="407.2" r="2.8"/><circle cx="1017.3" cy="421.8" r="2.8"/><circle cx="964.3" cy="425.1" r="2.8"/><circle cx="1170.9" cy="426.2" r="2.8"/><circle cx="1157.2" cy="402.7" r="2.8"/><circle cx="1071.4" cy="491.9" r="2.8"/><circle cx="755.2" cy="480" r="2.8"/><circle cx="768.6" cy="476.8" r="2.8"/><circle cx="802.9" cy="439.4" r="2.8"/><circle cx="856.1" cy="421.3" r="2.8"/><circle cx="991.3" cy="406.6" r="2.8"/><circle cx="882.2" cy="453.4" r="2.8"/><circle cx="1113.7" cy="425.5" r="2.8"/><circle cx="875.7" cy="456.1" r="2.8"/><circle cx="1004.8" cy="399.8" r="2.8"/><circle cx="903.3" cy="472.6" r="2.8"/><circle cx="1010.7" cy="436" r="2.8"/><circle cx="932.9" cy="481.3" r="2.8"/><circle cx="1046.9" cy="490.3" r="2.8"/><circle cx="757.4" cy="481.8" r="2.8"/><circle cx="811.8" cy="408.8" r="2.8"/><circle cx="767.7" cy="478.6" r="2.8"/><circle cx="873.2" cy="455.5" r="2.8"/><circle cx="721.9" cy="426.9" r="2.8"/><circle cx="756.8" cy="495.6" r="2.8"/><circle cx="974.9" cy="394.4" r="2.8"/><circle cx="1118.7" cy="402.2" r="2.8"/><circle cx="871.3" cy="428.5" r="2.8"/><circle cx="871.9" cy="449.8" r="2.8"/><circle cx="892.1" cy="486" r="2.8"/><circle cx="1062.8" cy="501.6" r="2.8"/><circle cx="1089.6" cy="470.1" r="2.8"/><circle cx="1025" cy="455.5" r="2.8"/><circle cx="1048.7" cy="475.1" r="2.8"/><circle cx="1038.7" cy="477.7" r="2.8"/><circle cx="1019.5" cy="448.5" r="2.8"/><circle cx="1073.4" cy="473.5" r="2.8"/><circle cx="1012.3" cy="429.7" r="2.8"/><circle cx="965.8" cy="404.1" r="2.8"/><circle cx="1018.6" cy="443.4" r="2.8"/><circle cx="832.7" cy="409.6" r="2.8"/><circle cx="751.9" cy="480" r="2.8"/><circle cx="956.1" cy="437.4" r="2.8"/><circle cx="919.7" cy="494.1" r="2.8"/><circle cx="1165" cy="416" r="2.8"/><circle cx="883.6" cy="470.7" r="2.8"/><circle cx="745" cy="475.1" r="2.8"/><circle cx="796.8" cy="435.2" r="2.8"/><circle cx="1076.3" cy="465.8" r="2.8"/><circle cx="1027.8" cy="457.8" r="2.8"/><circle cx="731.4" cy="443.8" r="2.8"/><circle cx="1016.1" cy="415.9" r="2.8"/><circle cx="790.5" cy="444.4" r="2.8"/><circle cx="1121.7" cy="415" r="2.8"/><circle cx="812.3" cy="404.4" r="2.8"/><circle cx="1053.3" cy="478.3" r="2.8"/><circle cx="836.7" cy="389.7" r="2.8"/><circle cx="947.7" cy="436.2" r="2.8"/><circle cx="1076" cy="488.3" r="2.8"/><circle cx="946.8" cy="456.7" r="2.8"/><circle cx="905.2" cy="497.7" r="2.8"/><circle cx="855" cy="423.3" r="2.8"/><circle cx="833.6" cy="385.4" r="2.8"/><circle cx="1076.7" cy="473.7" r="2.8"/><circle cx="1108.5" cy="434.5" r="2.8"/><circle cx="829.4" cy="388.6" r="2.8"/><circle cx="813.9" cy="403" r="2.8"/><circle cx="1021.8" cy="447.6" r="2.8"/><circle cx="988.8" cy="408.6" r="2.8"/><circle cx="906.9" cy="496.7" r="2.8"/><circle cx="767.6" cy="477.1" r="2.8"/><circle cx="735.2" cy="461.7" r="2.8"/><circle cx="926.2" cy="490.6" r="2.8"/><circle cx="749.5" cy="500.8" r="2.8"/><circle cx="868.7" cy="442.9" r="2.8"/><circle cx="947.7" cy="435.8" r="2.8"/><circle cx="1103.4" cy="427.5" r="2.8"/><circle cx="869.2" cy="443.9" r="2.8"/><circle cx="1143.4" cy="405.6" r="2.8"/><circle cx="760" cy="477.3" r="2.8"/><circle cx="854.9" cy="402.3" r="2.8"/><circle cx="853.5" cy="420.5" r="2.8"/><circle cx="884.4" cy="471.7" r="2.8"/><circle cx="1036" cy="457.1" r="2.8"/><circle cx="943.7" cy="458.6" r="2.8"/><circle cx="879.7" cy="467.9" r="2.8"/><circle cx="983.9" cy="404.4" r="2.8"/><circle cx="1150.5" cy="410.7" r="2.8"/><circle cx="1087.6" cy="457.3" r="2.8"/><circle cx="1164.1" cy="410.5" r="2.8"/><circle cx="1165.1" cy="411.6" r="2.8"/><circle cx="1074.7" cy="472.7" r="2.8"/><circle cx="1099.3" cy="450.6" r="2.8"/><circle cx="883.2" cy="448.5" r="2.8"/><circle cx="933.9" cy="479.5" r="2.8"/><circle cx="1128.4" cy="389.5" r="2.8"/><circle cx="1160.3" cy="423.1" r="2.8"/><circle cx="962.4" cy="424.3" r="2.8"/><circle cx="1096.9" cy="431.7" r="2.8"/><circle cx="1036.3" cy="475.6" r="2.8"/><circle cx="1134.6" cy="390.3" r="2.8"/><circle cx="723.3" cy="455.9" r="2.8"/><circle cx="826" cy="411.8" r="2.8"/><circle cx="1068.9" cy="499.1" r="2.8"/><circle cx="912.9" cy="498.9" r="2.8"/><circle cx="974" cy="411.6" r="2.8"/><circle cx="1132.3" cy="408.9" r="2.8"/><circle cx="931.6" cy="462.8" r="2.8"/><circle cx="855.4" cy="406.1" r="2.8"/><circle cx="1095.7" cy="459" r="2.8"/><circle cx="843.5" cy="390.1" r="2.8"/><circle cx="1120.7" cy="417.8" r="2.8"/><circle cx="1009.5" cy="427.6" r="2.8"/><circle cx="896.3" cy="488.8" r="2.8"/><circle cx="1137.3" cy="389.4" r="2.8"/><circle cx="778.8" cy="484.3" r="2.8"/><circle cx="796.3" cy="451.8" r="2.8"/><circle cx="1068.2" cy="480.3" r="2.8"/><circle cx="986.9" cy="388.3" r="2.8"/><circle cx="1057.9" cy="495.3" r="2.8"/><circle cx="825.7" cy="410.7" r="2.8"/><circle cx="893.8" cy="488.5" r="2.8"/><circle cx="1008.9" cy="407.8" r="2.8"/><circle cx="850.1" cy="396.2" r="2.8"/><circle cx="993" cy="410" r="2.8"/><circle cx="1078.8" cy="490.6" r="2.8"/><circle cx="837.8" cy="386.9" r="2.8"/><circle cx="981.9" cy="382.7" r="2.8"/><circle cx="750.3" cy="493" r="2.8"/><circle cx="1005.6" cy="425.2" r="2.8"/><circle cx="762.9" cy="497.8" r="2.8"/><circle cx="1076.7" cy="469.1" r="2.8"/><circle cx="1141.9" cy="391.3" r="2.8"/><circle cx="1005.1" cy="420" r="2.8"/><circle cx="995.6" cy="394.1" r="2.8"/><circle cx="781.3" cy="480" r="2.8"/><circle cx="938.9" cy="452.6" r="2.8"/><circle cx="840.1" cy="389.7" r="2.8"/><circle cx="776.4" cy="483.7" r="2.8"/><circle cx="727" cy="445.7" r="2.8"/><circle cx="863" cy="418.3" r="2.8"/><circle cx="952.6" cy="442.8" r="2.8"/><circle cx="867.8" cy="422.7" r="2.8"/><circle cx="1078.1" cy="485.6" r="2.8"/><circle cx="729.4" cy="450.7" r="2.8"/><circle cx="773" cy="472.2" r="2.8"/><circle cx="802.3" cy="440.3" r="2.8"/><circle cx="1021.7" cy="446.6" r="2.8"/><circle cx="773.4" cy="489.3" r="2.8"/><circle cx="957.9" cy="404.6" r="2.8"/><circle cx="1050.8" cy="476.8" r="2.8"/><circle cx="1004" cy="401" r="2.8"/><circle cx="769.4" cy="477.1" r="2.8"/><circle cx="731" cy="469.4" r="2.8"/><circle cx="1034.2" cy="447.9" r="2.8"/><circle cx="1009.8" cy="424.6" r="2.8"/><circle cx="949" cy="433.7" r="2.8"/><circle cx="750.7" cy="478.9" r="2.8"/><circle cx="1055" cy="495.5" r="2.8"/><circle cx="952.3" cy="426.8" r="2.8"/><circle cx="1037.2" cy="474.3" r="2.8"/><circle cx="968.1" cy="418.6" r="2.8"/><circle cx="777.5" cy="467.3" r="2.8"/><circle cx="1067.6" cy="496.7" r="2.8"/><circle cx="1063" cy="495.5" r="2.8"/><circle cx="760.7" cy="476.6" r="2.8"/><circle cx="1007" cy="405.3" r="2.8"/><circle cx="886.7" cy="479" r="2.8"/><circle cx="1147.1" cy="410.9" r="2.8"/><circle cx="855.7" cy="407" r="2.8"/><circle cx="1138.6" cy="413.6" r="2.8"/><circle cx="848" cy="410.9" r="2.8"/><circle cx="830.9" cy="387.5" r="2.8"/><circle cx="994.9" cy="393.1" r="2.8"/><circle cx="1068.2" cy="476.1" r="2.8"/><circle cx="939.4" cy="449.6" r="2.8"/><circle cx="1119.7" cy="396" r="2.8"/><circle cx="749.5" cy="494.1" r="2.8"/><circle cx="1130.2" cy="383.4" r="2.8"/><circle cx="833.4" cy="390" r="2.8"/><circle cx="836.7" cy="390.7" r="2.8"/><circle cx="1051.5" cy="473.6" r="2.8"/><circle cx="991.4" cy="411" r="2.8"/><circle cx="821.2" cy="413.8" r="2.8"/><circle cx="944.3" cy="442.5" r="2.8"/><circle cx="1167.5" cy="439.9" r="2.8"/><circle cx="768.7" cy="473.2" r="2.8"/><circle cx="1068.2" cy="494.3" r="2.8"/><circle cx="750.8" cy="493.9" r="2.8"/><circle cx="894.8" cy="491.1" r="2.8"/><circle cx="998.9" cy="392.7" r="2.8"/><circle cx="1061.1" cy="495.9" r="2.8"/><circle cx="875.7" cy="458.2" r="2.8"/><circle cx="1109.7" cy="431.4" r="2.8"/><circle cx="749.1" cy="477.7" r="2.8"/><circle cx="1054.8" cy="495" r="2.8"/><circle cx="853.2" cy="402.5" r="2.8"/><circle cx="870.1" cy="431.2" r="2.8"/><circle cx="828.1" cy="388.8" r="2.8"/><circle cx="1146" cy="410.7" r="2.8"/><circle cx="1016.5" cy="420.4" r="2.8"/><circle cx="1094.1" cy="445" r="2.8"/><circle cx="730" cy="452.4" r="2.8"/><circle cx="1138.9" cy="390.5" r="2.8"/><circle cx="800" cy="424.4" r="2.8"/><circle cx="1096.6" cy="460.7" r="2.8"/><circle cx="1075.4" cy="490.9" r="2.8"/><circle cx="1100.6" cy="431.1" r="2.8"/><circle cx="1105.8" cy="444.2" r="2.8"/><circle cx="1128.6" cy="410.6" r="2.8"/><circle cx="740.4" cy="490.8" r="2.8"/><circle cx="1160.7" cy="409.9" r="2.8"/><circle cx="898.1" cy="492.1" r="2.8"/><circle cx="1069.3" cy="476" r="2.8"/><circle cx="828.5" cy="386.9" r="2.8"/><circle cx="812.1" cy="406.2" r="2.8"/><circle cx="1156.1" cy="424.8" r="2.8"/><circle cx="907.4" cy="472.9" r="2.8"/><circle cx="1116.6" cy="403.3" r="2.8"/><circle cx="1138.8" cy="411.6" r="2.8"/><circle cx="894.2" cy="487.7" r="2.8"/><circle cx="922.6" cy="475.8" r="2.8"/><circle cx="906.8" cy="495" r="2.8"/><circle cx="1126.6" cy="393.7" r="2.8"/><circle cx="1099.6" cy="454.6" r="2.8"/><circle cx="970.7" cy="419.1" r="2.8"/><circle cx="1029.1" cy="461.9" r="2.8"/><circle cx="935.4" cy="458.2" r="2.8"/><circle cx="1087.2" cy="473.8" r="2.8"/><circle cx="1024.8" cy="451.9" r="2.8"/><circle cx="1138.9" cy="389.8" r="2.8"/><circle cx="799.5" cy="444.3" r="2.8"/><circle cx="793.9" cy="440.6" r="2.8"/><circle cx="996.8" cy="392.5" r="2.8"/><circle cx="1087.5" cy="454.5" r="2.8"/><circle cx="1013.4" cy="434.8" r="2.8"/><circle cx="734.9" cy="460.4" r="2.8"/><circle cx="899.7" cy="494.2" r="2.8"/><circle cx="1089.9" cy="452.8" r="2.8"/><circle cx="837.3" cy="389" r="2.8"/><circle cx="803.1" cy="419.4" r="2.8"/><circle cx="1025.7" cy="456.6" r="2.8"/><circle cx="818.8" cy="417.1" r="2.8"/><circle cx="1086.4" cy="475.2" r="2.8"/><circle cx="1171" cy="444.8" r="2.8"/><circle cx="1006.7" cy="424.7" r="2.8"/><circle cx="916" cy="479.1" r="2.8"/><circle cx="1041.3" cy="487.8" r="2.8"/><circle cx="1036.4" cy="475" r="2.8"/><circle cx="839" cy="390" r="2.8"/><circle cx="832.9" cy="405.7" r="2.8"/><circle cx="1119.6" cy="399.4" r="2.8"/><circle cx="1122.8" cy="395.3" r="2.8"/><circle cx="824.8" cy="391.7" r="2.8"/><circle cx="1003.6" cy="401.9" r="2.8"/><circle cx="1002.4" cy="414.8" r="2.8"/><circle cx="863.7" cy="420.3" r="2.8"/><circle cx="801.9" cy="420.1" r="2.8"/><circle cx="997.9" cy="393.7" r="2.8"/><circle cx="851.4" cy="401" r="2.8"/><circle cx="929.6" cy="481.8" r="2.8"/><circle cx="1072.7" cy="476.6" r="2.8"/><circle cx="944.4" cy="443.3" r="2.8"/><circle cx="844.5" cy="393.8" r="2.8"/><circle cx="1019.7" cy="443" r="2.8"/><circle cx="893.1" cy="490" r="2.8"/><circle cx="903.6" cy="496.2" r="2.8"/><circle cx="808.1" cy="414.2" r="2.8"/><circle cx="763.3" cy="496.1" r="2.8"/><circle cx="743" cy="491" r="2.8"/><circle cx="1026.5" cy="457.4" r="2.8"/><circle cx="833.2" cy="386.4" r="2.8"/><circle cx="1123.7" cy="415.7" r="2.8"/><circle cx="743.8" cy="473.7" r="2.8"/><circle cx="729.5" cy="452.3" r="2.8"/><circle cx="1174.5" cy="450.2" r="2.8"/><circle cx="721.8" cy="455" r="2.8"/><circle cx="936.3" cy="471.8" r="2.8"/><circle cx="937.4" cy="472" r="2.8"/><circle cx="870.1" cy="445.9" r="2.8"/><circle cx="759.8" cy="498.6" r="2.8"/><circle cx="905.2" cy="496.9" r="2.8"/><circle cx="929.6" cy="482.3" r="2.8"/><circle cx="1168.7" cy="421.3" r="2.8"/><circle cx="1091.8" cy="448" r="2.8"/><circle cx="836.1" cy="386.3" r="2.8"/><circle cx="807.4" cy="410.1" r="2.8"/><circle cx="987" cy="388.7" r="2.8"/><circle cx="777.1" cy="484.5" r="2.8"/><circle cx="956.7" cy="435" r="2.8"/><circle cx="771.3" cy="493.9" r="2.8"/><circle cx="1041.3" cy="462.6" r="2.8"/><circle cx="771.3" cy="473.4" r="2.8"/><circle cx="1043.8" cy="468.6" r="2.8"/><circle cx="1022.2" cy="429.9" r="2.8"/><circle cx="839.1" cy="406.7" r="2.8"/><circle cx="916.8" cy="496.9" r="2.8"/><circle cx="1100.1" cy="451.5" r="2.8"/><circle cx="1019.5" cy="422.8" r="2.8"/><circle cx="1116" cy="424.7" r="2.8"/><circle cx="1035.6" cy="457.2" r="2.8"/><circle cx="1103.8" cy="426.4" r="2.8"/><circle cx="1046.1" cy="470.9" r="2.8"/><circle cx="1146.5" cy="391.3" r="2.8"/><circle cx="1135.4" cy="379.7" r="2.8"/><circle cx="846.8" cy="386.4" r="2.8"/><circle cx="916.9" cy="495.1" r="2.8"/><circle cx="794.2" cy="456.5" r="2.8"/><circle cx="745.7" cy="475.3" r="2.8"/><circle cx="1144.6" cy="389.4" r="2.8"/><circle cx="858.9" cy="428.3" r="2.8"/><circle cx="728.9" cy="450.7" r="2.8"/><circle cx="1018.5" cy="421.2" r="2.8"/><circle cx="872.6" cy="436.6" r="2.8"/><circle cx="931.5" cy="483.2" r="2.8"/><circle cx="965.5" cy="427" r="2.8"/><circle cx="1050.9" cy="472.8" r="2.8"/><circle cx="1104.1" cy="426.8" r="2.8"/><circle cx="746.6" cy="476.3" r="2.8"/><circle cx="1091.4" cy="469.5" r="2.8"/><circle cx="765.8" cy="468.9" r="2.8"/><circle cx="921.6" cy="491.6" r="2.8"/><circle cx="1075" cy="491.1" r="2.8"/><circle cx="722.2" cy="431" r="2.8"/><circle cx="842.9" cy="393.2" r="2.8"/><circle cx="875.2" cy="440.3" r="2.8"/><circle cx="901.2" cy="469.3" r="2.8"/><circle cx="771.1" cy="469.6" r="2.8"/><circle cx="921.4" cy="470.7" r="2.8"/><circle cx="976.2" cy="408.5" r="2.8"/><circle cx="1111.7" cy="409.7" r="2.8"/><circle cx="996.6" cy="411.7" r="2.8"/><circle cx="813.3" cy="421.8" r="2.8"/><circle cx="752.6" cy="494.3" r="2.8"/><circle cx="913.7" cy="478.6" r="2.8"/><circle cx="1112.6" cy="410" r="2.8"/><circle cx="865.7" cy="443.5" r="2.8"/><circle cx="819.7" cy="389.2" r="2.8"/><circle cx="998.5" cy="416.2" r="2.8"/><circle cx="1004" cy="401.2" r="2.8"/><circle cx="1037.2" cy="457.6" r="2.8"/><circle cx="904.9" cy="498.9" r="2.8"/><circle cx="1025.8" cy="439.3" r="2.8"/><circle cx="910.3" cy="480.1" r="2.8"/><circle cx="1165.9" cy="434.5" r="2.8"/><circle cx="1097" cy="435.7" r="2.8"/><circle cx="932.2" cy="479.1" r="2.8"/><circle cx="884.7" cy="472.3" r="2.8"/><circle cx="972.1" cy="397.8" r="2.8"/><circle cx="795.3" cy="435" r="2.8"/><circle cx="1017.1" cy="419.5" r="2.8"/><circle cx="964.7" cy="402.6" r="2.8"/><circle cx="1167.8" cy="437.4" r="2.8"/><circle cx="1171.5" cy="443" r="2.8"/><circle cx="774.6" cy="487.5" r="2.8"/><circle cx="812.1" cy="407.4" r="2.8"/><circle cx="751.1" cy="493.8" r="2.8"/><circle cx="1114.1" cy="410.3" r="2.8"/><circle cx="1024.6" cy="455.3" r="2.8"/><circle cx="866.6" cy="443.9" r="2.8"/><circle cx="818.3" cy="389.9" r="2.8"/><circle cx="836.3" cy="408.9" r="2.8"/><circle cx="943.4" cy="465.8" r="2.8"/><circle cx="725.4" cy="460.8" r="2.8"/><circle cx="1090.9" cy="446.8" r="2.8"/><circle cx="985.8" cy="404.9" r="2.8"/><circle cx="1010.8" cy="410.5" r="2.8"/><circle cx="1050.4" cy="476.4" r="2.8"/><circle cx="898.1" cy="491.2" r="2.8"/><circle cx="760.9" cy="478.8" r="2.8"/><circle cx="960.2" cy="428.9" r="2.8"/><circle cx="969" cy="418" r="2.8"/><circle cx="916.4" cy="479.7" r="2.8"/><circle cx="991.2" cy="391.1" r="2.8"/><circle cx="996.8" cy="393.4" r="2.8"/><circle cx="1172.4" cy="446.5" r="2.8"/><circle cx="1044.9" cy="471.1" r="2.8"/><circle cx="1035.2" cy="456.8" r="2.8"/><circle cx="1162.8" cy="431.6" r="2.8"/><circle cx="1134.8" cy="404.4" r="2.8"/><circle cx="835.8" cy="404.8" r="2.8"/><circle cx="863.9" cy="439" r="2.8"/><circle cx="913.7" cy="497.4" r="2.8"/><circle cx="1164.9" cy="413.6" r="2.8"/><circle cx="881" cy="452" r="2.8"/><circle cx="821.8" cy="417.2" r="2.8"/><circle cx="1134.6" cy="390.9" r="2.8"/><circle cx="723.5" cy="440.7" r="2.8"/><circle cx="1035.2" cy="471.5" r="2.8"/><circle cx="918.1" cy="497" r="2.8"/><circle cx="841.5" cy="387.8" r="2.8"/><circle cx="885.3" cy="455.2" r="2.8"/><circle cx="965.6" cy="419.9" r="2.8"/><circle cx="998.7" cy="413.5" r="2.8"/><circle cx="847.9" cy="411.7" r="2.8"/><circle cx="1052.8" cy="477.1" r="2.8"/><circle cx="995.1" cy="410.4" r="2.8"/><circle cx="741.6" cy="484.9" r="2.8"/><circle cx="737.4" cy="481" r="2.8"/><circle cx="920.1" cy="474.5" r="2.8"/><circle cx="997.8" cy="412.4" r="2.8"/><circle cx="1026.3" cy="455.6" r="2.8"/><circle cx="845.9" cy="394.8" r="2.8"/><circle cx="1121.8" cy="397.1" r="2.8"/><circle cx="814.4" cy="421.1" r="2.8"/><circle cx="912.3" cy="496.3" r="2.8"/><circle cx="949.4" cy="429.9" r="2.8"/><circle cx="843.5" cy="393.6" r="2.8"/><circle cx="805.2" cy="414.1" r="2.8"/><circle cx="1146.5" cy="411.2" r="2.8"/><circle cx="892.7" cy="486.3" r="2.8"/><circle cx="858.1" cy="424.8" r="2.8"/><circle cx="1032.5" cy="470.2" r="2.8"/><circle cx="824.3" cy="412.6" r="2.8"/><circle cx="1120.7" cy="397.8" r="2.8"/><circle cx="1070.3" cy="496.1" r="2.8"/><circle cx="816.7" cy="400.8" r="2.8"/><circle cx="725.9" cy="462.5" r="2.8"/><circle cx="1028.2" cy="435.7" r="2.8"/><circle cx="929" cy="482.2" r="2.8"/><circle cx="1026.8" cy="462.6" r="2.8"/><circle cx="721.3" cy="436.9" r="2.8"/><circle cx="802.8" cy="440.4" r="2.8"/><circle cx="1006.4" cy="401.1" r="2.8"/><circle cx="937.6" cy="449.6" r="2.8"/><circle cx="726.2" cy="463.3" r="2.8"/><circle cx="869" cy="449.1" r="2.8"/><circle cx="1090" cy="444.4" r="2.8"/><circle cx="735.3" cy="451.4" r="2.8"/><circle cx="723.2" cy="434" r="2.8"/><circle cx="1133.6" cy="387.2" r="2.8"/><circle cx="833.4" cy="390.6" r="2.8"/><circle cx="860.2" cy="427.7" r="2.8"/><circle cx="1150.3" cy="416.2" r="2.8"/><circle cx="866.5" cy="439.9" r="2.8"/><circle cx="764.8" cy="480.6" r="2.8"/><circle cx="899.8" cy="492.9" r="2.8"/><circle cx="941.4" cy="463.3" r="2.8"/><circle cx="1052.1" cy="478.1" r="2.8"/><circle cx="796.3" cy="452.8" r="2.8"/><circle cx="886.7" cy="455.7" r="2.8"/><circle cx="1064.4" cy="481.7" r="2.8"/><circle cx="1133.1" cy="405.2" r="2.8"/><circle cx="1107.6" cy="438.3" r="2.8"/><circle cx="738.3" cy="483.3" r="2.8"/><circle cx="891.3" cy="467.5" r="2.8"/><circle cx="955.9" cy="417.5" r="2.8"/><circle cx="1108.4" cy="417.7" r="2.8"/><circle cx="1151.1" cy="411.9" r="2.8"/><circle cx="721.7" cy="432.9" r="2.8"/><circle cx="1120.9" cy="415.4" r="2.8"/><circle cx="812.3" cy="422.4" r="2.8"/><circle cx="1088.8" cy="470.8" r="2.8"/><circle cx="1145" cy="412.8" r="2.8"/><circle cx="1120.8" cy="400.3" r="2.8"/><circle cx="833.6" cy="408.7" r="2.8"/><circle cx="1135.7" cy="404.5" r="2.8"/><circle cx="952" cy="444.4" r="2.8"/><circle cx="1149.5" cy="417.3" r="2.8"/><circle cx="729.1" cy="444.4" r="2.8"/><circle cx="899.7" cy="491.8" r="2.8"/><circle cx="1135.8" cy="389.1" r="2.8"/><circle cx="783.1" cy="456.5" r="2.8"/><circle cx="1033.7" cy="475.8" r="2.8"/><circle cx="891.7" cy="485.2" r="2.8"/><circle cx="879.5" cy="467.3" r="2.8"/><circle cx="939.8" cy="447.8" r="2.8"/><circle cx="998.2" cy="410.5" r="2.8"/><circle cx="990.2" cy="387.7" r="2.8"/><circle cx="834.2" cy="408.8" r="2.8"/><circle cx="818.1" cy="399.7" r="2.8"/><circle cx="858.1" cy="404.2" r="2.8"/><circle cx="788.7" cy="464.9" r="2.8"/><circle cx="995" cy="410.3" r="2.8"/><circle cx="777.9" cy="483.5" r="2.8"/><circle cx="964.1" cy="422.1" r="2.8"/><circle cx="769.3" cy="493.8" r="2.8"/><circle cx="961.9" cy="410.3" r="2.8"/><circle cx="1168.9" cy="444.4" r="2.8"/><circle cx="876.9" cy="444.6" r="2.8"/><circle cx="908.1" cy="498.6" r="2.8"/><circle cx="1106.6" cy="422.7" r="2.8"/><circle cx="1161.6" cy="410.8" r="2.8"/><circle cx="818.5" cy="415.4" r="2.8"/><circle cx="783.1" cy="476.6" r="2.8"/><circle cx="779.1" cy="482.5" r="2.8"/><circle cx="796.1" cy="452" r="2.8"/><circle cx="763" cy="480.3" r="2.8"/><circle cx="952.6" cy="427.8" r="2.8"/><circle cx="905.9" cy="481.2" r="2.8"/><circle cx="732.7" cy="458" r="2.8"/><circle cx="726.8" cy="444" r="2.8"/><circle cx="895" cy="466.6" r="2.8"/><circle cx="871.7" cy="431.5" r="2.8"/><circle cx="944" cy="466.6" r="2.8"/><circle cx="845.2" cy="392.7" r="2.8"/><circle cx="912.1" cy="496.6" r="2.8"/><circle cx="838.1" cy="386.9" r="2.8"/><circle cx="820.2" cy="395.4" r="2.8"/><circle cx="1097.6" cy="439.3" r="2.8"/><circle cx="1079.4" cy="486.4" r="2.8"/><circle cx="999.8" cy="394.5" r="2.8"/><circle cx="920.2" cy="498.5" r="2.8"/><circle cx="1164.7" cy="416.1" r="2.8"/><circle cx="777.9" cy="486.5" r="2.8"/><circle cx="835.6" cy="385.6" r="2.8"/><circle cx="1144.8" cy="407.8" r="2.8"/><circle cx="923.6" cy="497.2" r="2.8"/><circle cx="1081" cy="483.7" r="2.8"/><circle cx="861.5" cy="430.4" r="2.8"/><circle cx="967.3" cy="422.1" r="2.8"/><circle cx="1103.6" cy="450" r="2.8"/><circle cx="869.3" cy="445.3" r="2.8"/><circle cx="1027.6" cy="441.8" r="2.8"/><circle cx="1089.1" cy="455.3" r="2.8"/><circle cx="972.2" cy="397.3" r="2.8"/><circle cx="783.6" cy="459.3" r="2.8"/><circle cx="1106.6" cy="444.9" r="2.8"/><circle cx="979.8" cy="406.1" r="2.8"/><circle cx="1020.7" cy="447.4" r="2.8"/><circle cx="1166.4" cy="434.5" r="2.8"/><circle cx="1078.7" cy="486.6" r="2.8"/><circle cx="1037.5" cy="460.2" r="2.8"/><circle cx="1010.1" cy="428.7" r="2.8"/><circle cx="755.5" cy="496.5" r="2.8"/><circle cx="856.7" cy="422.1" r="2.8"/><circle cx="982.8" cy="409.4" r="2.8"/><circle cx="733.8" cy="475.3" r="2.8"/><circle cx="921" cy="491.7" r="2.8"/><circle cx="1005.8" cy="401.1" r="2.8"/><circle cx="993.9" cy="392" r="2.8"/><circle cx="1043.3" cy="467.2" r="2.8"/><circle cx="1015.8" cy="414.2" r="2.8"/><circle cx="773.6" cy="488.9" r="2.8"/><circle cx="956" cy="413.2" r="2.8"/><circle cx="750.2" cy="493.1" r="2.8"/><circle cx="878.6" cy="461.4" r="2.8"/><circle cx="1151.5" cy="414.7" r="2.8"/><circle cx="921.6" cy="492.1" r="2.8"/><circle cx="809.8" cy="411.2" r="2.8"/><circle cx="862.3" cy="417.1" r="2.8"/><circle cx="1031.2" cy="443.3" r="2.8"/><circle cx="739.8" cy="484.9" r="2.8"/><circle cx="1140.5" cy="407.3" r="2.8"/><circle cx="724" cy="438.9" r="2.8"/><circle cx="1105.6" cy="439.8" r="2.8"/><circle cx="909.9" cy="497.2" r="2.8"/><circle cx="938.2" cy="450.3" r="2.8"/><circle cx="806.7" cy="438.7" r="2.8"/><circle cx="982.8" cy="387.5" r="2.8"/><circle cx="999.9" cy="411.3" r="2.8"/><circle cx="945.7" cy="438.1" r="2.8"/><circle cx="995.5" cy="408.7" r="2.8"/><circle cx="1152.9" cy="413.6" r="2.8"/><circle cx="828.8" cy="386.8" r="2.8"/><circle cx="997.9" cy="393.1" r="2.8"/><circle cx="864.1" cy="420.5" r="2.8"/><circle cx="1037.6" cy="482.9" r="2.8"/><circle cx="1133.9" cy="415" r="2.8"/><circle cx="1043.6" cy="467.8" r="2.8"/><circle cx="1133.7" cy="407.6" r="2.8"/><circle cx="812.6" cy="407.6" r="2.8"/><circle cx="882.2" cy="452.3" r="2.8"/><circle cx="885" cy="472.9" r="2.8"/><circle cx="771.6" cy="491" r="2.8"/><circle cx="764" cy="495.1" r="2.8"/><circle cx="791.7" cy="442" r="2.8"/><circle cx="1026.3" cy="454.4" r="2.8"/><circle cx="939.4" cy="469.3" r="2.8"/><circle cx="1096.4" cy="457.1" r="2.8"/><circle cx="877.3" cy="463.7" r="2.8"/><circle cx="786.6" cy="452.2" r="2.8"/><circle cx="888.1" cy="463.5" r="2.8"/><circle cx="754.2" cy="476.5" r="2.8"/><circle cx="1149.6" cy="420.3" r="2.8"/><circle cx="774.9" cy="487.2" r="2.8"/><circle cx="884.9" cy="472.8" r="2.8"/><circle cx="754.8" cy="480.9" r="2.8"/><circle cx="966.1" cy="405.2" r="2.8"/><circle cx="929.6" cy="482.4" r="2.8"/><circle cx="763.6" cy="499.2" r="2.8"/><circle cx="990.3" cy="407.6" r="2.8"/><circle cx="870.8" cy="448.4" r="2.8"/><circle cx="1086.5" cy="477" r="2.8"/><circle cx="933.3" cy="477.7" r="2.8"/><circle cx="986" cy="409.6" r="2.8"/><circle cx="1088.3" cy="476.3" r="2.8"/><circle cx="863.1" cy="416.9" r="2.8"/><circle cx="1169.7" cy="446.4" r="2.8"/><circle cx="979.9" cy="389.7" r="2.8"/><circle cx="937.7" cy="453.2" r="2.8"/><circle cx="749.5" cy="475.1" r="2.8"/><circle cx="743.9" cy="471.8" r="2.8"/><circle cx="725.2" cy="443.8" r="2.8"/><circle cx="983.1" cy="404.3" r="2.8"/><circle cx="1022.6" cy="431.3" r="2.8"/><circle cx="794.8" cy="455.4" r="2.8"/><circle cx="1168.1" cy="412.3" r="2.8"/><circle cx="766.7" cy="494.2" r="2.8"/><circle cx="727.4" cy="444.7" r="2.8"/><circle cx="1122.7" cy="413.6" r="2.8"/><circle cx="948.2" cy="434.8" r="2.8"/><circle cx="1009.6" cy="425.4" r="2.8"/><circle cx="991.2" cy="408.6" r="2.8"/><circle cx="1051.4" cy="492.6" r="2.8"/><circle cx="843.8" cy="393.1" r="2.8"/><circle cx="1068.9" cy="472.8" r="2.8"/><circle cx="981.4" cy="405.2" r="2.8"/><circle cx="1150.6" cy="394.7" r="2.8"/><circle cx="766.5" cy="501.2" r="2.8"/><circle cx="982.8" cy="388.5" r="2.8"/><circle cx="1135.4" cy="406.8" r="2.8"/><circle cx="790.1" cy="463.7" r="2.8"/><circle cx="811.7" cy="409.3" r="2.8"/><circle cx="966.3" cy="424" r="2.8"/><circle cx="790.2" cy="448.2" r="2.8"/><circle cx="897.4" cy="501" r="2.8"/><circle cx="1110.5" cy="413" r="2.8"/><circle cx="830" cy="412.6" r="2.8"/><circle cx="820.9" cy="395.9" r="2.8"/><circle cx="1100.3" cy="433.2" r="2.8"/><circle cx="1063" cy="474.7" r="2.8"/><circle cx="856.8" cy="423" r="2.8"/><circle cx="869.8" cy="454.1" r="2.8"/><circle cx="971.1" cy="412.8" r="2.8"/><circle cx="1099" cy="435.2" r="2.8"/><circle cx="837.2" cy="407.1" r="2.8"/><circle cx="948" cy="450" r="2.8"/><circle cx="817.7" cy="399.2" r="2.8"/><circle cx="793.7" cy="456.2" r="2.8"/><circle cx="924.5" cy="474.4" r="2.8"/><circle cx="783.1" cy="480.7" r="2.8"/><circle cx="842.3" cy="392.5" r="2.8"/><circle cx="987.4" cy="404.1" r="2.8"/><circle cx="1054.9" cy="477.9" r="2.8"/><circle cx="728.4" cy="465.4" r="2.8"/><circle cx="891" cy="487.7" r="2.8"/><circle cx="1014.7" cy="433.9" r="2.8"/><circle cx="1054.3" cy="472.4" r="2.8"/><circle cx="948.4" cy="449.4" r="2.8"/><circle cx="835.5" cy="404.1" r="2.8"/><circle cx="953.6" cy="439.5" r="2.8"/><circle cx="1084.1" cy="489.8" r="2.8"/><circle cx="777" cy="467" r="2.8"/><circle cx="960.7" cy="411.6" r="2.8"/><circle cx="948.3" cy="435.9" r="2.8"/><circle cx="741.7" cy="485.1" r="2.8"/><circle cx="743.8" cy="487.2" r="2.8"/><circle cx="965.3" cy="404.9" r="2.8"/><circle cx="753" cy="477.7" r="2.8"/><circle cx="842.7" cy="409.2" r="2.8"/><circle cx="1034.3" cy="453.8" r="2.8"/><circle cx="838.7" cy="407.4" r="2.8"/><circle cx="1138.5" cy="385.4" r="2.8"/><circle cx="866.5" cy="421" r="2.8"/><circle cx="981.2" cy="388.9" r="2.8"/><circle cx="802.9" cy="423.5" r="2.8"/><circle cx="848.6" cy="396.1" r="2.8"/><circle cx="858.9" cy="404.7" r="2.8"/><circle cx="1035.3" cy="470.7" r="2.8"/><circle cx="838.4" cy="389.6" r="2.8"/><circle cx="814.3" cy="402.1" r="2.8"/><circle cx="829.4" cy="388.6" r="2.8"/><circle cx="835.1" cy="387.3" r="2.8"/><circle cx="800.8" cy="441.7" r="2.8"/><circle cx="940" cy="446.4" r="2.8"/><circle cx="1103.8" cy="444.4" r="2.8"/><circle cx="1032.7" cy="447.8" r="2.8"/><circle cx="970.1" cy="419.4" r="2.8"/><circle cx="734.1" cy="456.2" r="2.8"/><circle cx="856.2" cy="426.1" r="2.8"/><circle cx="897" cy="464.1" r="2.8"/><circle cx="756.2" cy="479.7" r="2.8"/><circle cx="898" cy="492" r="2.8"/><circle cx="727.9" cy="443.6" r="2.8"/><circle cx="1005.3" cy="419.7" r="2.8"/><circle cx="1161.4" cy="408.5" r="2.8"/><circle cx="936.1" cy="456.7" r="2.8"/><circle cx="849.5" cy="413.8" r="2.8"/><circle cx="945.7" cy="440.8" r="2.8"/><circle cx="846.4" cy="409.9" r="2.8"/><circle cx="856.6" cy="406.8" r="2.8"/><circle cx="844.7" cy="409.3" r="2.8"/><circle cx="776.6" cy="468.7" r="2.8"/><circle cx="833.4" cy="409.2" r="2.8"/><circle cx="1126.7" cy="387.9" r="2.8"/><circle cx="1037.7" cy="476.9" r="2.8"/><circle cx="795" cy="437.5" r="2.8"/><circle cx="943.6" cy="439.3" r="2.8"/><circle cx="1110.8" cy="437.6" r="2.8"/><circle cx="873.7" cy="432.1" r="2.8"/><circle cx="1102.1" cy="430.1" r="2.8"/><circle cx="1115.6" cy="406.8" r="2.8"/><circle cx="1123" cy="394.4" r="2.8"/><circle cx="1136.3" cy="389.3" r="2.8"/><circle cx="824.9" cy="408.2" r="2.8"/><circle cx="901" cy="494.4" r="2.8"/><circle cx="934.3" cy="460.3" r="2.8"/><circle cx="829.1" cy="385.2" r="2.8"/><circle cx="1054.8" cy="479.7" r="2.8"/><circle cx="823.8" cy="391.9" r="2.8"/><circle cx="759.9" cy="496" r="2.8"/><circle cx="916.7" cy="493.8" r="2.8"/><circle cx="773.5" cy="470.3" r="2.8"/><circle cx="748.2" cy="495.3" r="2.8"/><circle cx="782.4" cy="456.1" r="2.8"/><circle cx="906.7" cy="495.7" r="2.8"/><circle cx="1014.7" cy="419" r="2.8"/><circle cx="846.2" cy="410.8" r="2.8"/><circle cx="775" cy="485.7" r="2.8"/><circle cx="1163.4" cy="434.8" r="2.8"/><circle cx="741.2" cy="469.6" r="2.8"/><circle cx="736.6" cy="484.2" r="2.8"/><circle cx="1031.8" cy="468.9" r="2.8"/><circle cx="992.3" cy="407" r="2.8"/><circle cx="907" cy="495.7" r="2.8"/><circle cx="1142.3" cy="408.7" r="2.8"/><circle cx="1123.6" cy="396.3" r="2.8"/><circle cx="1085.7" cy="457.5" r="2.8"/><circle cx="975.4" cy="413.2" r="2.8"/><circle cx="1015" cy="434.1" r="2.8"/><circle cx="913" cy="495.6" r="2.8"/><circle cx="1142.8" cy="391.5" r="2.8"/><circle cx="879.1" cy="466.4" r="2.8"/><circle cx="864.5" cy="441.4" r="2.8"/><circle cx="1012.3" cy="414.2" r="2.8"/><circle cx="757.6" cy="475.5" r="2.8"/><circle cx="848.7" cy="398.2" r="2.8"/><circle cx="1110.9" cy="412" r="2.8"/><circle cx="806.4" cy="433.1" r="2.8"/><circle cx="752.3" cy="480" r="2.8"/><circle cx="997.5" cy="394.7" r="2.8"/><circle cx="927.5" cy="470.2" r="2.8"/><circle cx="826.7" cy="392.4" r="2.8"/><circle cx="735.9" cy="460.2" r="2.8"/><circle cx="870" cy="445.6" r="2.8"/><circle cx="1151.8" cy="396.6" r="2.8"/><circle cx="1007.7" cy="421.3" r="2.8"/><circle cx="979.4" cy="386.3" r="2.8"/><circle cx="864.1" cy="419.2" r="2.8"/><circle cx="1014.5" cy="438.2" r="2.8"/><circle cx="1055.6" cy="494.5" r="2.8"/><circle cx="873.9" cy="454.4" r="2.8"/><circle cx="1122.6" cy="415" r="2.8"/><circle cx="851.7" cy="419" r="2.8"/><circle cx="824.1" cy="391.5" r="2.8"/><circle cx="873.6" cy="434.4" r="2.8"/><circle cx="928.1" cy="486.7" r="2.8"/><circle cx="1001" cy="393.4" r="2.8"/><circle cx="1151" cy="397.3" r="2.8"/><circle cx="853.6" cy="402.6" r="2.8"/><circle cx="894.1" cy="488.6" r="2.8"/><circle cx="1099.8" cy="451.5" r="2.8"/><circle cx="892.1" cy="485.1" r="2.8"/><circle cx="943.9" cy="458.2" r="2.8"/><circle cx="880" cy="466.6" r="2.8"/><circle cx="1045.1" cy="486.4" r="2.8"/><circle cx="984.6" cy="388.9" r="2.8"/><circle cx="1058.3" cy="498.4" r="2.8"/><circle cx="978.8" cy="384.5" r="2.8"/><circle cx="1009.3" cy="433.1" r="2.8"/><circle cx="1059" cy="478.1" r="2.8"/><circle cx="1130.3" cy="391.3" r="2.8"/><circle cx="964.2" cy="422.3" r="2.8"/><circle cx="863.8" cy="441.1" r="2.8"/><circle cx="1031.7" cy="446.2" r="2.8"/><circle cx="1152" cy="415" r="2.8"/><circle cx="1140.4" cy="389" r="2.8"/><circle cx="1166.8" cy="439.3" r="2.8"/><circle cx="994.6" cy="389.5" r="2.8"/><circle cx="1110.4" cy="430.6" r="2.8"/><circle cx="921.8" cy="473.4" r="2.8"/><circle cx="1101.7" cy="446.8" r="2.8"/><circle cx="1024.5" cy="457.4" r="2.8"/><circle cx="1078.2" cy="485.9" r="2.8"/><circle cx="882.4" cy="472.4" r="2.8"/><circle cx="985.8" cy="406.6" r="2.8"/><circle cx="775.7" cy="486.7" r="2.8"/><circle cx="1057.8" cy="499.2" r="2.8"/><circle cx="879.9" cy="468.4" r="2.8"/><circle cx="814.7" cy="421.7" r="2.8"/><circle cx="1117.1" cy="403" r="2.8"/><circle cx="843.1" cy="408.7" r="2.8"/><circle cx="980.1" cy="391.9" r="2.8"/><circle cx="759.7" cy="482.1" r="2.8"/><circle cx="931.7" cy="479.4" r="2.8"/><circle cx="809.2" cy="427.9" r="2.8"/><circle cx="1071.2" cy="476" r="2.8"/><circle cx="849.9" cy="413.9" r="2.8"/><circle cx="1135.8" cy="389.1" r="2.8"/><circle cx="751.5" cy="480.1" r="2.8"/><circle cx="898.3" cy="470.6" r="2.8"/><circle cx="996.3" cy="410.4" r="2.8"/><circle cx="873.5" cy="456.9" r="2.8"/><circle cx="959.9" cy="429.2" r="2.8"/><circle cx="829.7" cy="405.5" r="2.8"/><circle cx="879.7" cy="449.2" r="2.8"/><circle cx="733.1" cy="473.5" r="2.8"/><circle cx="782.2" cy="482" r="2.8"/><circle cx="1098.9" cy="453" r="2.8"/><circle cx="875" cy="436.3" r="2.8"/><circle cx="1050.2" cy="475.5" r="2.8"/><circle cx="1072.9" cy="491.4" r="2.8"/><circle cx="801.3" cy="422.9" r="2.8"/><circle cx="1080.3" cy="485" r="2.8"/><circle cx="789.9" cy="448.8" r="2.8"/><circle cx="1013.7" cy="416.5" r="2.8"/><circle cx="995.2" cy="409" r="2.8"/><circle cx="827.6" cy="386.6" r="2.8"/><circle cx="1015.3" cy="419.5" r="2.8"/><circle cx="1041.7" cy="466.8" r="2.8"/><circle cx="728.2" cy="450.1" r="2.8"/><circle cx="888.8" cy="479" r="2.8"/><circle cx="1010.3" cy="408.3" r="2.8"/><circle cx="928.8" cy="482.7" r="2.8"/><circle cx="1160.3" cy="407.9" r="2.8"/><circle cx="998.3" cy="410.6" r="2.8"/><circle cx="1142.9" cy="407.3" r="2.8"/><circle cx="1095.6" cy="440.4" r="2.8"/><circle cx="1073" cy="496.6" r="2.8"/><circle cx="1111.2" cy="431.5" r="2.8"/><circle cx="762.7" cy="480.4" r="2.8"/><circle cx="845.7" cy="395" r="2.8"/><circle cx="938.8" cy="450" r="2.8"/><circle cx="842.5" cy="391.1" r="2.8"/><circle cx="724.7" cy="441.3" r="2.8"/><circle cx="993.7" cy="392.2" r="2.8"/><circle cx="1135.5" cy="404.3" r="2.8"/><circle cx="1070.9" cy="478.6" r="2.8"/><circle cx="916.8" cy="476.5" r="2.8"/><circle cx="721.8" cy="436.9" r="2.8"/><circle cx="816.2" cy="420.9" r="2.8"/><circle cx="1049.2" cy="474.1" r="2.8"/><circle cx="875.7" cy="458.6" r="2.8"/><circle cx="1130.7" cy="405.9" r="2.8"/><circle cx="1053.2" cy="475.2" r="2.8"/><circle cx="797.6" cy="447.9" r="2.8"/><circle cx="1154.8" cy="415.4" r="2.8"/><circle cx="751.9" cy="495.4" r="2.8"/><circle cx="1070" cy="495" r="2.8"/><circle cx="1175" cy="434.9" r="2.8"/><circle cx="906.2" cy="478.9" r="2.8"/><circle cx="1063.3" cy="498.3" r="2.8"/><circle cx="1165.8" cy="415.8" r="2.8"/><circle cx="980.8" cy="417.5" r="2.8"/><circle cx="1136.4" cy="388.1" r="2.8"/><circle cx="831.1" cy="407.3" r="2.8"/><circle cx="748.1" cy="475.7" r="2.8"/><circle cx="753.8" cy="498.3" r="2.8"/><circle cx="1174.1" cy="430.9" r="2.8"/><circle cx="766" cy="478.9" r="2.8"/><circle cx="1164.8" cy="415.6" r="2.8"/><circle cx="1162.8" cy="431.2" r="2.8"/><circle cx="804.7" cy="419.4" r="2.8"/><circle cx="1048.3" cy="474.5" r="2.8"/><circle cx="943.6" cy="458.9" r="2.8"/><circle cx="1043.4" cy="465.9" r="2.8"/><circle cx="967.6" cy="418" r="2.8"/><circle cx="740.2" cy="483.2" r="2.8"/><circle cx="735.7" cy="476.7" r="2.8"/><circle cx="918.3" cy="496.9" r="2.8"/><circle cx="969.2" cy="417.9" r="2.8"/><circle cx="1134.3" cy="384.5" r="2.8"/><circle cx="993.6" cy="389.1" r="2.8"/><circle cx="870.4" cy="422.7" r="2.8"/><circle cx="977.2" cy="407.1" r="2.8"/><circle cx="938.4" cy="450.3" r="2.8"/><circle cx="1062.5" cy="480.5" r="2.8"/><circle cx="1004.4" cy="417.7" r="2.8"/><circle cx="902.4" cy="493.7" r="2.8"/><circle cx="1123.1" cy="413.9" r="2.8"/><circle cx="1084.8" cy="476.8" r="2.8"/><circle cx="1005.7" cy="403.7" r="2.8"/><circle cx="1165.8" cy="435.9" r="2.8"/><circle cx="750.2" cy="494.6" r="2.8"/><circle cx="1111.9" cy="412.6" r="2.8"/><circle cx="1041.2" cy="480.5" r="2.8"/><circle cx="836.4" cy="405.4" r="2.8"/><circle cx="871.8" cy="454.8" r="2.8"/><circle cx="913.8" cy="496.6" r="2.8"/><circle cx="1161.8" cy="406.2" r="2.8"/><circle cx="799.1" cy="445" r="2.8"/><circle cx="991.6" cy="390.8" r="2.8"/><circle cx="782.7" cy="458.9" r="2.8"/><circle cx="1107.3" cy="436.1" r="2.8"/><circle cx="1113.9" cy="409.6" r="2.8"/><circle cx="1096.2" cy="457.8" r="2.8"/><circle cx="1111.6" cy="413" r="2.8"/><circle cx="1095" cy="459.5" r="2.8"/><circle cx="913.4" cy="477.6" r="2.8"/><circle cx="881.6" cy="469.8" r="2.8"/><circle cx="994.9" cy="413.7" r="2.8"/><circle cx="852.1" cy="396.8" r="2.8"/><circle cx="871.2" cy="450.4" r="2.8"/><circle cx="730.5" cy="470.6" r="2.8"/><circle cx="855.1" cy="405.4" r="2.8"/><circle cx="992.3" cy="405.7" r="2.8"/><circle cx="1078" cy="487.8" r="2.8"/><circle cx="1009.4" cy="426.8" r="2.8"/><circle cx="892.9" cy="489.6" r="2.8"/><circle cx="1060.8" cy="481.4" r="2.8"/><circle cx="750.7" cy="479.6" r="2.8"/><circle cx="1012" cy="432.7" r="2.8"/><circle cx="740.3" cy="486.3" r="2.8"/><circle cx="1160.2" cy="425.2" r="2.8"/><circle cx="1099.6" cy="433.6" r="2.8"/><circle cx="1144.1" cy="405.6" r="2.8"/><circle cx="914.3" cy="497.6" r="2.8"/><circle cx="1041.7" cy="484.3" r="2.8"/><circle cx="1123.1" cy="396.6" r="2.8"/><circle cx="1003.2" cy="415.3" r="2.8"/><circle cx="1140.3" cy="407.1" r="2.8"/><circle cx="741.6" cy="465.3" r="2.8"/><circle cx="1083.8" cy="483.3" r="2.8"/><circle cx="731.9" cy="475.3" r="2.8"/><circle cx="748.7" cy="478" r="2.8"/><circle cx="1033.5" cy="467.5" r="2.8"/><circle cx="1104.4" cy="442" r="2.8"/><circle cx="1063.8" cy="497" r="2.8"/><circle cx="1008.4" cy="406.2" r="2.8"/><circle cx="812.5" cy="406.3" r="2.8"/><circle cx="1165.7" cy="433.5" r="2.8"/><circle cx="1061.2" cy="501.1" r="2.8"/><circle cx="1158.5" cy="406.4" r="2.8"/><circle cx="883.2" cy="455.4" r="2.8"/><circle cx="750.5" cy="493.4" r="2.8"/><circle cx="752.5" cy="480.6" r="2.8"/><circle cx="1169.9" cy="425.8" r="2.8"/><circle cx="1099.9" cy="450.1" r="2.8"/><circle cx="1069.1" cy="478.1" r="2.8"/><circle cx="753.9" cy="477.2" r="2.8"/><circle cx="760.6" cy="480.8" r="2.8"/><circle cx="1119.8" cy="401" r="2.8"/><circle cx="743.1" cy="472.7" r="2.8"/><circle cx="828.2" cy="406.9" r="2.8"/><circle cx="1064.6" cy="478.8" r="2.8"/><circle cx="798" cy="448.5" r="2.8"/><circle cx="767.2" cy="492.6" r="2.8"/><circle cx="826.3" cy="388.5" r="2.8"/><circle cx="1089.3" cy="447" r="2.8"/><circle cx="1045" cy="485.3" r="2.8"/><circle cx="749.3" cy="478.3" r="2.8"/><circle cx="1052.8" cy="494.8" r="2.8"/><circle cx="852.7" cy="418.1" r="2.8"/><circle cx="1153.6" cy="415.1" r="2.8"/><circle cx="1036.2" cy="453.1" r="2.8"/><circle cx="1073.1" cy="475.6" r="2.8"/><circle cx="875.3" cy="441.4" r="2.8"/><circle cx="1008.2" cy="403.8" r="2.8"/><circle cx="1124.1" cy="395.1" r="2.8"/><circle cx="1099.3" cy="432.8" r="2.8"/><circle cx="721.3" cy="434.6" r="2.8"/><circle cx="911.3" cy="496.7" r="2.8"/><circle cx="1158" cy="422.9" r="2.8"/><circle cx="984" cy="404.8" r="2.8"/><circle cx="1162.3" cy="409.1" r="2.8"/><circle cx="1040.9" cy="464.5" r="2.8"/><circle cx="818" cy="415.1" r="2.8"/><circle cx="831.4" cy="389.3" r="2.8"/><circle cx="782.2" cy="475.9" r="2.8"/><circle cx="765.2" cy="493.7" r="2.8"/><circle cx="1106.7" cy="445.6" r="2.8"/><circle cx="1131.3" cy="382.8" r="2.8"/><circle cx="1086.6" cy="459" r="2.8"/><circle cx="773" cy="473.5" r="2.8"/><circle cx="760.7" cy="495.3" r="2.8"/><circle cx="999.3" cy="397.3" r="2.8"/><circle cx="807.4" cy="430" r="2.8"/><circle cx="1078.3" cy="485.2" r="2.8"/><circle cx="1117.5" cy="405.6" r="2.8"/><circle cx="1168.1" cy="439.9" r="2.8"/><circle cx="1016" cy="435.3" r="2.8"/><circle cx="1024.4" cy="433.7" r="2.8"/><circle cx="1161.5" cy="405.4" r="2.8"/><circle cx="803.5" cy="415.8" r="2.8"/><circle cx="981.4" cy="406" r="2.8"/><circle cx="887.7" cy="480.8" r="2.8"/><circle cx="1129.3" cy="411.5" r="2.8"/><circle cx="986.9" cy="405.2" r="2.8"/><circle cx="870.5" cy="432.7" r="2.8"/><circle cx="1050.5" cy="492.7" r="2.8"/><circle cx="1092.9" cy="462.6" r="2.8"/><circle cx="779.2" cy="455.3" r="2.8"/><circle cx="1014.6" cy="433" r="2.8"/><circle cx="734.7" cy="477" r="2.8"/><circle cx="765.1" cy="495.8" r="2.8"/><circle cx="727.2" cy="445.1" r="2.8"/><circle cx="787.9" cy="467.8" r="2.8"/><circle cx="1021.5" cy="448.6" r="2.8"/><circle cx="933.5" cy="476.1" r="2.8"/><circle cx="999.6" cy="397.7" r="2.8"/><circle cx="1085.6" cy="459.5" r="2.8"/><circle cx="851.5" cy="399" r="2.8"/><circle cx="864.1" cy="439.6" r="2.8"/><circle cx="927.7" cy="484.6" r="2.8"/><circle cx="851.4" cy="418.5" r="2.8"/><circle cx="1157.3" cy="403.8" r="2.8"/><circle cx="907.3" cy="495.2" r="2.8"/><circle cx="986.2" cy="387.5" r="2.8"/><circle cx="964.6" cy="427.7" r="2.8"/><circle cx="888.4" cy="459.5" r="2.8"/><circle cx="841.3" cy="390.2" r="2.8"/><circle cx="758.9" cy="480.3" r="2.8"/><circle cx="866.5" cy="442.6" r="2.8"/><circle cx="1133.1" cy="391" r="2.8"/><circle cx="1013.4" cy="433" r="2.8"/><circle cx="854.2" cy="420.2" r="2.8"/><circle cx="928.5" cy="485.2" r="2.8"/><circle cx="1001.3" cy="413.8" r="2.8"/><circle cx="1133.1" cy="385.4" r="2.8"/><circle cx="829.8" cy="389.1" r="2.8"/><circle cx="904" cy="499.5" r="2.8"/><circle cx="833" cy="403.9" r="2.8"/><circle cx="837" cy="404.8" r="2.8"/><circle cx="1133.4" cy="405.3" r="2.8"/><circle cx="909.3" cy="496.8" r="2.8"/><circle cx="771.7" cy="493.2" r="2.8"/><circle cx="1137.6" cy="389.2" r="2.8"/><circle cx="1147.9" cy="413.5" r="2.8"/><circle cx="1139.1" cy="407.6" r="2.8"/><circle cx="908.4" cy="496.9" r="2.8"/><circle cx="779.2" cy="457.1" r="2.8"/><circle cx="809.6" cy="428.3" r="2.8"/><circle cx="1087.2" cy="457.2" r="2.8"/><circle cx="1165.1" cy="416.5" r="2.8"/><circle cx="1098.3" cy="452.8" r="2.8"/><circle cx="1084.1" cy="478.3" r="2.8"/><circle cx="1025.6" cy="453.2" r="2.8"/><circle cx="1097.2" cy="437.8" r="2.8"/><circle cx="1032.8" cy="469.6" r="2.8"/><circle cx="793.5" cy="438.1" r="2.8"/><circle cx="1064.1" cy="498.5" r="2.8"/><circle cx="1055.9" cy="499.1" r="2.8"/><circle cx="788.5" cy="467" r="2.8"/><circle cx="848.4" cy="397.5" r="2.8"/><circle cx="1138.7" cy="384.1" r="2.8"/><circle cx="1144.9" cy="391.1" r="2.8"/><circle cx="1020.8" cy="445.3" r="2.8"/><circle cx="760.5" cy="495.7" r="2.8"/><circle cx="791.1" cy="445.4" r="2.8"/><circle cx="1001.1" cy="415.3" r="2.8"/><circle cx="1137.7" cy="410.2" r="2.8"/><circle cx="1007.5" cy="422.7" r="2.8"/><circle cx="806.2" cy="415.6" r="2.8"/><circle cx="1139.4" cy="404.9" r="2.8"/><circle cx="813" cy="398.6" r="2.8"/><circle cx="1073.8" cy="490.6" r="2.8"/><circle cx="778.8" cy="491.5" r="2.8"/><circle cx="1062.5" cy="473.8" r="2.8"/><circle cx="723.3" cy="438.9" r="2.8"/><circle cx="959.6" cy="410.4" r="2.8"/><circle cx="795.7" cy="451.5" r="2.8"/><circle cx="844" cy="392.6" r="2.8"/><circle cx="810.2" cy="428.5" r="2.8"/><circle cx="993.2" cy="406.6" r="2.8"/><circle cx="861.1" cy="431.8" r="2.8"/><circle cx="999.6" cy="411.8" r="2.8"/><circle cx="1015.8" cy="419.2" r="2.8"/><circle cx="760" cy="495.5" r="2.8"/><circle cx="955" cy="411.3" r="2.8"/><circle cx="1005.9" cy="404.8" r="2.8"/><circle cx="1082" cy="481.7" r="2.8"/><circle cx="836" cy="388.4" r="2.8"/><circle cx="1052.7" cy="471.2" r="2.8"/><circle cx="988.6" cy="408.9" r="2.8"/><circle cx="1165.9" cy="433.4" r="2.8"/><circle cx="903.8" cy="479.6" r="2.8"/><circle cx="1008.6" cy="423.3" r="2.8"/><circle cx="922.4" cy="493" r="2.8"/><circle cx="1054.3" cy="479.6" r="2.8"/><circle cx="826.7" cy="390.7" r="2.8"/><circle cx="1063" cy="481.5" r="2.8"/><circle cx="1104.2" cy="425.8" r="2.8"/><circle cx="935.6" cy="456.9" r="2.8"/><circle cx="864.5" cy="435.8" r="2.8"/><circle cx="1024.9" cy="435.9" r="2.8"/><circle cx="1172.9" cy="445.9" r="2.8"/><circle cx="767.8" cy="494.2" r="2.8"/><circle cx="1070.2" cy="492.7" r="2.8"/><circle cx="930" cy="462.3" r="2.8"/><circle cx="777.4" cy="466.5" r="2.8"/><circle cx="770.2" cy="493.7" r="2.8"/><circle cx="968.3" cy="395.8" r="2.8"/><circle cx="1079.4" cy="469.1" r="2.8"/><circle cx="1016.9" cy="422.8" r="2.8"/><circle cx="1125.5" cy="392.4" r="2.8"/><circle cx="937" cy="470.2" r="2.8"/><circle cx="805.1" cy="420.5" r="2.8"/><circle cx="762.1" cy="495.9" r="2.8"/><circle cx="795.3" cy="436.1" r="2.8"/><circle cx="920.4" cy="473.9" r="2.8"/><circle cx="1068.2" cy="495.5" r="2.8"/><circle cx="1038.7" cy="479.1" r="2.8"/><circle cx="913.4" cy="495.3" r="2.8"/><circle cx="1043.9" cy="486.1" r="2.8"/><circle cx="1055.8" cy="473.6" r="2.8"/><circle cx="977.1" cy="406.9" r="2.8"/><circle cx="897.9" cy="475.9" r="2.8"/><circle cx="940.8" cy="466.6" r="2.8"/><circle cx="897" cy="467.6" r="2.8"/><circle cx="1126.2" cy="395.2" r="2.8"/><circle cx="905.1" cy="496.6" r="2.8"/><circle cx="805.4" cy="418.4" r="2.8"/><circle cx="724.6" cy="439.4" r="2.8"/><circle cx="902.3" cy="493.6" r="2.8"/><circle cx="1135.5" cy="405.9" r="2.8"/><circle cx="993.4" cy="406.9" r="2.8"/><circle cx="1037.6" cy="458.3" r="2.8"/><circle cx="950.6" cy="430.5" r="2.8"/><circle cx="1140.1" cy="390.3" r="2.8"/><circle cx="744" cy="490.4" r="2.8"/><circle cx="973.8" cy="411.2" r="2.8"/><circle cx="797.9" cy="430.5" r="2.8"/><circle cx="1030.1" cy="462.5" r="2.8"/><circle cx="1066.8" cy="472.7" r="2.8"/><circle cx="990.5" cy="405.6" r="2.8"/><circle cx="1104.2" cy="446.6" r="2.8"/><circle cx="951.8" cy="443.9" r="2.8"/><circle cx="997.2" cy="409.2" r="2.8"/><circle cx="964.1" cy="421.7" r="2.8"/><circle cx="872.5" cy="451.8" r="2.8"/><circle cx="787" cy="450.6" r="2.8"/><circle cx="823" cy="395.4" r="2.8"/><circle cx="1171.4" cy="443.5" r="2.8"/><circle cx="818.8" cy="393" r="2.8"/><circle cx="1112.7" cy="412.7" r="2.8"/><circle cx="987.9" cy="404.2" r="2.8"/><circle cx="922.6" cy="492.8" r="2.8"/><circle cx="1063" cy="498.5" r="2.8"/><circle cx="939.5" cy="449.7" r="2.8"/><circle cx="980.3" cy="390.8" r="2.8"/><circle cx="980.7" cy="387" r="2.8"/><circle cx="1061.2" cy="500.1" r="2.8"/><circle cx="840.2" cy="406.2" r="2.8"/><circle cx="830.9" cy="387.5" r="2.8"/><circle cx="977.7" cy="392.7" r="2.8"/><circle cx="1143.6" cy="386.3" r="2.8"/><circle cx="900.5" cy="497.5" r="2.8"/><circle cx="1065.3" cy="478.7" r="2.8"/><circle cx="1066.9" cy="495.3" r="2.8"/><circle cx="1053.2" cy="475.8" r="2.8"/><circle cx="1047.4" cy="471.3" r="2.8"/><circle cx="837.7" cy="404.2" r="2.8"/><circle cx="771.9" cy="496" r="2.8"/><circle cx="823.3" cy="394.2" r="2.8"/><circle cx="792.4" cy="457.9" r="2.8"/><circle cx="1027.7" cy="443.3" r="2.8"/><circle cx="1072.5" cy="499.4" r="2.8"/><circle cx="1104.8" cy="425.7" r="2.8"/><circle cx="1127.6" cy="408.6" r="2.8"/><circle cx="1112.7" cy="412.6" r="2.8"/><circle cx="756.5" cy="502.9" r="2.8"/><circle cx="960.3" cy="435.3" r="2.8"/><circle cx="765.8" cy="475.7" r="2.8"/><circle cx="1155.6" cy="418.5" r="2.8"/><circle cx="954.8" cy="421.1" r="2.8"/><circle cx="728.5" cy="449.5" r="2.8"/><circle cx="1027.7" cy="437.4" r="2.8"/><circle cx="1138" cy="385" r="2.8"/><circle cx="952.5" cy="425.6" r="2.8"/><circle cx="900.2" cy="477.1" r="2.8"/><circle cx="920.9" cy="474.5" r="2.8"/><circle cx="825.9" cy="408.8" r="2.8"/><circle cx="911.3" cy="481.1" r="2.8"/><circle cx="932.9" cy="461.9" r="2.8"/><circle cx="1033.7" cy="468.7" r="2.8"/><circle cx="887.5" cy="480" r="2.8"/><circle cx="1038.9" cy="458.2" r="2.8"/><circle cx="1091.5" cy="468.2" r="2.8"/><circle cx="981.1" cy="387.8" r="2.8"/><circle cx="877" cy="460" r="2.8"/><circle cx="814.7" cy="423.9" r="2.8"/><circle cx="1108.7" cy="433.2" r="2.8"/><circle cx="821.2" cy="396.3" r="2.8"/><circle cx="892.6" cy="470" r="2.8"/><circle cx="895.2" cy="471.1" r="2.8"/><circle cx="900.6" cy="476.4" r="2.8"/><circle cx="775.2" cy="470.7" r="2.8"/><circle cx="976.8" cy="410.1" r="2.8"/><circle cx="1154.6" cy="415.2" r="2.8"/><circle cx="1018.1" cy="423.6" r="2.8"/><circle cx="869" cy="428.1" r="2.8"/><circle cx="1048.3" cy="470.4" r="2.8"/><circle cx="831.6" cy="410.4" r="2.8"/><circle cx="1093.6" cy="461.6" r="2.8"/><circle cx="809.2" cy="435.3" r="2.8"/><circle cx="1000.3" cy="397.2" r="2.8"/><circle cx="794.1" cy="454.4" r="2.8"/><circle cx="793.7" cy="441.3" r="2.8"/><circle cx="934.9" cy="476" r="2.8"/><circle cx="1039" cy="460.8" r="2.8"/><circle cx="832.6" cy="386.3" r="2.8"/><circle cx="780.2" cy="461" r="2.8"/><circle cx="859.5" cy="412.4" r="2.8"/><circle cx="739.8" cy="483.2" r="2.8"/><circle cx="775.2" cy="485.4" r="2.8"/><circle cx="1072.4" cy="477.8" r="2.8"/><circle cx="1011.6" cy="436.9" r="2.8"/><circle cx="1158.1" cy="421.2" r="2.8"/><circle cx="1012.3" cy="429.5" r="2.8"/><circle cx="1039.7" cy="480.7" r="2.8"/><circle cx="1072.9" cy="492.5" r="2.8"/><circle cx="1063.5" cy="497.6" r="2.8"/><circle cx="984.3" cy="410.4" r="2.8"/><circle cx="989.6" cy="388.7" r="2.8"/><circle cx="800.9" cy="427.7" r="2.8"/><circle cx="906.3" cy="480.9" r="2.8"/><circle cx="996.9" cy="414.2" r="2.8"/><circle cx="1095.1" cy="436.2" r="2.8"/><circle cx="815.4" cy="403.5" r="2.8"/><circle cx="1071.6" cy="493.4" r="2.8"/><circle cx="955.7" cy="442.9" r="2.8"/><circle cx="1042.9" cy="484.1" r="2.8"/><circle cx="1162.4" cy="408.3" r="2.8"/><circle cx="929.9" cy="465.1" r="2.8"/><circle cx="1128.7" cy="387.1" r="2.8"/><circle cx="833.2" cy="408.8" r="2.8"/><circle cx="1009.9" cy="409.4" r="2.8"/><circle cx="829.4" cy="391.3" r="2.8"/><circle cx="844.4" cy="394.2" r="2.8"/><circle cx="1036.5" cy="475.4" r="2.8"/><circle cx="979" cy="409.9" r="2.8"/><circle cx="851.5" cy="400.9" r="2.8"/><circle cx="872" cy="427.5" r="2.8"/><circle cx="829.3" cy="408.2" r="2.8"/><circle cx="976.7" cy="392.3" r="2.8"/><circle cx="1047.1" cy="487.2" r="2.8"/><circle cx="833.2" cy="407.8" r="2.8"/><circle cx="803.2" cy="423.7" r="2.8"/><circle cx="976.9" cy="393.7" r="2.8"/><circle cx="1170.4" cy="441.7" r="2.8"/><circle cx="1038.4" cy="455.2" r="2.8"/><circle cx="925.5" cy="468.1" r="2.8"/><circle cx="906" cy="479" r="2.8"/><circle cx="1083.6" cy="485.5" r="2.8"/><circle cx="1016.1" cy="421.6" r="2.8"/><circle cx="1022.3" cy="451.1" r="2.8"/><circle cx="929.9" cy="481.6" r="2.8"/><circle cx="998.4" cy="386.5" r="2.8"/><circle cx="930.2" cy="465.2" r="2.8"/><circle cx="1135.4" cy="389.6" r="2.8"/><circle cx="1113.6" cy="406.2" r="2.8"/><circle cx="951.3" cy="427.7" r="2.8"/><circle cx="752.9" cy="475.1" r="2.8"/><circle cx="1170.3" cy="441" r="2.8"/><circle cx="1134.9" cy="405.6" r="2.8"/><circle cx="895.5" cy="467.5" r="2.8"/><circle cx="1035.1" cy="454" r="2.8"/><circle cx="768.6" cy="491.7" r="2.8"/><circle cx="1043.2" cy="483.3" r="2.8"/><circle cx="841.7" cy="407.3" r="2.8"/><circle cx="1030.8" cy="465.6" r="2.8"/><circle cx="1108.4" cy="436" r="2.8"/><circle cx="896.9" cy="473.5" r="2.8"/><circle cx="879.4" cy="465.6" r="2.8"/><circle cx="1002" cy="398.4" r="2.8"/><circle cx="786" cy="452.2" r="2.8"/><circle cx="1161.5" cy="425.1" r="2.8"/><circle cx="818.6" cy="413.9" r="2.8"/><circle cx="736.7" cy="460.9" r="2.8"/><circle cx="949.4" cy="447.5" r="2.8"/><circle cx="1070.2" cy="479.2" r="2.8"/><circle cx="974.9" cy="392.7" r="2.8"/><circle cx="1031" cy="463.6" r="2.8"/><circle cx="1135.3" cy="390.6" r="2.8"/><circle cx="1162.2" cy="412.4" r="2.8"/><circle cx="977.8" cy="389.7" r="2.8"/><circle cx="1025" cy="452.4" r="2.8"/><circle cx="842.7" cy="391.6" r="2.8"/><circle cx="1018.2" cy="441.8" r="2.8"/><circle cx="978.8" cy="406.1" r="2.8"/><circle cx="961.2" cy="410.1" r="2.8"/><circle cx="1107.4" cy="421.7" r="2.8"/><circle cx="840.8" cy="391.2" r="2.8"/><circle cx="842.4" cy="407.5" r="2.8"/><circle cx="1039.6" cy="478.4" r="2.8"/><circle cx="874.5" cy="436.4" r="2.8"/><circle cx="1138.8" cy="405.7" r="2.8"/><circle cx="958.3" cy="417.4" r="2.8"/><circle cx="855" cy="421.3" r="2.8"/><circle cx="757.3" cy="496" r="2.8"/><circle cx="793.8" cy="458.9" r="2.8"/><circle cx="1174.1" cy="433.8" r="2.8"/><circle cx="790.1" cy="465.6" r="2.8"/><circle cx="966.3" cy="418.7" r="2.8"/><circle cx="1118.8" cy="399.3" r="2.8"/><circle cx="749.9" cy="477.1" r="2.8"/><circle cx="816.1" cy="398.3" r="2.8"/><circle cx="870.7" cy="447" r="2.8"/><circle cx="945.3" cy="455.4" r="2.8"/><circle cx="1102.5" cy="427.3" r="2.8"/><circle cx="1163" cy="430.6" r="2.8"/><circle cx="935.9" cy="452.8" r="2.8"/><circle cx="1077" cy="473" r="2.8"/><circle cx="1110.7" cy="432.7" r="2.8"/><circle cx="921" cy="471.6" r="2.8"/><circle cx="812.5" cy="424.1" r="2.8"/><circle cx="1073.8" cy="491.2" r="2.8"/><circle cx="1021.2" cy="425.6" r="2.8"/><circle cx="1132.1" cy="390.5" r="2.8"/><circle cx="1162.4" cy="426.5" r="2.8"/><circle cx="988" cy="390.5" r="2.8"/><circle cx="1076.4" cy="473.6" r="2.8"/><circle cx="745.9" cy="495.7" r="2.8"/><circle cx="1149.9" cy="412" r="2.8"/><circle cx="1046.2" cy="487.2" r="2.8"/><circle cx="1004.4" cy="402.1" r="2.8"/><circle cx="1046" cy="489.7" r="2.8"/><circle cx="934.7" cy="477.6" r="2.8"/><circle cx="1119.4" cy="402.3" r="2.8"/><circle cx="898.4" cy="474" r="2.8"/><circle cx="962.3" cy="410" r="2.8"/><circle cx="985.3" cy="389.8" r="2.8"/><circle cx="1043.6" cy="469.3" r="2.8"/><circle cx="1021.3" cy="428.5" r="2.8"/><circle cx="919.4" cy="476.6" r="2.8"/><circle cx="805.2" cy="433.5" r="2.8"/><circle cx="984.6" cy="388.4" r="2.8"/><circle cx="981.8" cy="390.1" r="2.8"/><circle cx="1161.4" cy="426" r="2.8"/><circle cx="897" cy="491.3" r="2.8"/><circle cx="1141.8" cy="385.7" r="2.8"/><circle cx="1060.5" cy="496.5" r="2.8"/><circle cx="1164" cy="438" r="2.8"/><circle cx="815.2" cy="404.3" r="2.8"/><circle cx="1115.9" cy="423.8" r="2.8"/><circle cx="1017.1" cy="438.7" r="2.8"/><circle cx="1060.1" cy="479" r="2.8"/><circle cx="814.1" cy="427.8" r="2.8"/><circle cx="909" cy="504.6" r="2.8"/><circle cx="989.9" cy="389.7" r="2.8"/><circle cx="1159" cy="395.3" r="2.8"/><circle cx="788.5" cy="448.3" r="2.8"/><circle cx="919.2" cy="494.3" r="2.8"/><circle cx="880.5" cy="469.3" r="2.8"/><circle cx="735.7" cy="457.9" r="2.8"/><circle cx="962" cy="407.5" r="2.8"/><circle cx="741.4" cy="469" r="2.8"/><circle cx="1011.1" cy="410.5" r="2.8"/><circle cx="742.7" cy="486.2" r="2.8"/><circle cx="764.9" cy="472.3" r="2.8"/><circle cx="951.4" cy="443.7" r="2.8"/><circle cx="938.2" cy="449.9" r="2.8"/><circle cx="798.5" cy="432" r="2.8"/><circle cx="888.5" cy="457.7" r="2.8"/><circle cx="821" cy="414" r="2.8"/><circle cx="847.1" cy="412.8" r="2.8"/><circle cx="728.2" cy="463.7" r="2.8"/><circle cx="1113.4" cy="428.8" r="2.8"/><circle cx="1170.3" cy="425.5" r="2.8"/><circle cx="1007.5" cy="404" r="2.8"/><circle cx="1000.7" cy="414.5" r="2.8"/><circle cx="954.8" cy="421.8" r="2.8"/><circle cx="765.6" cy="496" r="2.8"/><circle cx="917.8" cy="477.6" r="2.8"/><circle cx="1093.9" cy="463.6" r="2.8"/><circle cx="1097.1" cy="441.4" r="2.8"/><circle cx="973.6" cy="396.2" r="2.8"/><circle cx="1127.4" cy="392.8" r="2.8"/><circle cx="852.2" cy="417.4" r="2.8"/><circle cx="852.2" cy="417.4" r="2.8"/><circle cx="1026" cy="455.8" r="2.8"/><circle cx="744.8" cy="490.6" r="2.8"/><circle cx="806.9" cy="433.8" r="2.8"/><circle cx="1024.4" cy="450.9" r="2.8"/><circle cx="935.1" cy="475.2" r="2.8"/><circle cx="748.4" cy="477.4" r="2.8"/><circle cx="1013.2" cy="413.5" r="2.8"/><circle cx="777.3" cy="484.2" r="2.8"/><circle cx="978.6" cy="389.7" r="2.8"/><circle cx="731.8" cy="470.9" r="2.8"/><circle cx="984.9" cy="406.8" r="2.8"/><circle cx="1054.6" cy="494" r="2.8"/><circle cx="1077.9" cy="465" r="2.8"/><circle cx="735.3" cy="480.6" r="2.8"/><circle cx="961.7" cy="410.2" r="2.8"/><circle cx="1081.9" cy="463.1" r="2.8"/><circle cx="823.5" cy="408.9" r="2.8"/><circle cx="1145.2" cy="408.1" r="2.8"/><circle cx="790.8" cy="445.7" r="2.8"/><circle cx="1060.6" cy="496.5" r="2.8"/><circle cx="1036.7" cy="457.7" r="2.8"/><circle cx="1090.4" cy="444.8" r="2.8"/><circle cx="907.7" cy="473" r="2.8"/><circle cx="809.5" cy="431.1" r="2.8"/><circle cx="1067.8" cy="478.3" r="2.8"/><circle cx="995.6" cy="413.3" r="2.8"/><circle cx="819.9" cy="412.5" r="2.8"/><circle cx="1047.9" cy="472.2" r="2.8"/><circle cx="966.2" cy="418.8" r="2.8"/><circle cx="1150.7" cy="415.1" r="2.8"/><circle cx="986.6" cy="390.1" r="2.8"/><circle cx="1061.4" cy="499" r="2.8"/><circle cx="901" cy="494.6" r="2.8"/><circle cx="766.2" cy="477.2" r="2.8"/><circle cx="793.8" cy="441.3" r="2.8"/><circle cx="945.9" cy="438.6" r="2.8"/><circle cx="923.6" cy="490.7" r="2.8"/><circle cx="986" cy="405.6" r="2.8"/><circle cx="1138.4" cy="409.2" r="2.8"/><circle cx="1073.3" cy="494.3" r="2.8"/><circle cx="772.6" cy="490.4" r="2.8"/><circle cx="1007.6" cy="421.6" r="2.8"/><circle cx="983.9" cy="405.5" r="2.8"/><circle cx="858.1" cy="429" r="2.8"/><circle cx="1088.1" cy="472" r="2.8"/><circle cx="1159.5" cy="424.6" r="2.8"/><circle cx="897.3" cy="489.3" r="2.8"/><circle cx="1171.7" cy="443.7" r="2.8"/><circle cx="805.4" cy="419.3" r="2.8"/><circle cx="764.8" cy="477.6" r="2.8"/><circle cx="816.5" cy="402" r="2.8"/><circle cx="973.8" cy="421" r="2.8"/><circle cx="735.5" cy="460.3" r="2.8"/><circle cx="1062.6" cy="481.7" r="2.8"/><circle cx="1100.2" cy="434.2" r="2.8"/><circle cx="789.4" cy="467.1" r="2.8"/><circle cx="975.4" cy="410.1" r="2.8"/><circle cx="853.2" cy="400.8" r="2.8"/><circle cx="923.8" cy="491" r="2.8"/><circle cx="1124.3" cy="395.2" r="2.8"/><circle cx="1041.8" cy="483.2" r="2.8"/><circle cx="842" cy="406.6" r="2.8"/><circle cx="941.4" cy="447.6" r="2.8"/><circle cx="834.3" cy="388.8" r="2.8"/><circle cx="929.1" cy="484.5" r="2.8"/><circle cx="749.8" cy="476.7" r="2.8"/><circle cx="795.4" cy="437.4" r="2.8"/><circle cx="959.2" cy="407.6" r="2.8"/><circle cx="1146.5" cy="389.1" r="2.8"/><circle cx="1159.7" cy="406.7" r="2.8"/><circle cx="786.6" cy="452.8" r="2.8"/><circle cx="744" cy="473.5" r="2.8"/><circle cx="1000.6" cy="387.7" r="2.8"/><circle cx="785.1" cy="455" r="2.8"/><circle cx="858.9" cy="411.2" r="2.8"/><circle cx="840.8" cy="405.6" r="2.8"/><circle cx="1140.4" cy="407.3" r="2.8"/><circle cx="1041.1" cy="482.2" r="2.8"/><circle cx="867.5" cy="424.9" r="2.8"/><circle cx="1122.6" cy="392.8" r="2.8"/><circle cx="783.7" cy="474.2" r="2.8"/><circle cx="1129.6" cy="406.4" r="2.8"/><circle cx="1008.5" cy="425.4" r="2.8"/><circle cx="931.3" cy="481.8" r="2.8"/><circle cx="1082" cy="460.8" r="2.8"/><circle cx="1030.3" cy="463.3" r="2.8"/><circle cx="827.9" cy="392" r="2.8"/><circle cx="1152.1" cy="396.3" r="2.8"/><circle cx="1030.6" cy="447.5" r="2.8"/><circle cx="1104.4" cy="418.1" r="2.8"/><circle cx="973.7" cy="412.6" r="2.8"/><circle cx="975.7" cy="393.9" r="2.8"/><circle cx="1149.6" cy="410" r="2.8"/><circle cx="742.8" cy="469.4" r="2.8"/><circle cx="998.3" cy="416.4" r="2.8"/><circle cx="804.2" cy="420.9" r="2.8"/><circle cx="916.2" cy="495.3" r="2.8"/><circle cx="761.6" cy="476.9" r="2.8"/><circle cx="909.2" cy="481.1" r="2.8"/><circle cx="789.6" cy="445.8" r="2.8"/><circle cx="1149.6" cy="412.6" r="2.8"/><circle cx="843.8" cy="409.6" r="2.8"/><circle cx="743.2" cy="488" r="2.8"/><circle cx="747.4" cy="472.5" r="2.8"/><circle cx="866.7" cy="423.2" r="2.8"/><circle cx="942.7" cy="463.8" r="2.8"/><circle cx="800.2" cy="447" r="2.8"/><circle cx="799.1" cy="424.1" r="2.8"/><circle cx="778.7" cy="481.4" r="2.8"/><circle cx="990" cy="408.7" r="2.8"/><circle cx="1164.3" cy="429.5" r="2.8"/><circle cx="761.8" cy="505.5" r="2.8"/><circle cx="1039.4" cy="458.1" r="2.8"/><circle cx="1135.9" cy="387" r="2.8"/><circle cx="927.1" cy="490.3" r="2.8"/><circle cx="801.2" cy="444.2" r="2.8"/><circle cx="1131.6" cy="391" r="2.8"/><circle cx="846.5" cy="395.1" r="2.8"/><circle cx="1130.8" cy="406.8" r="2.8"/><circle cx="727.2" cy="444.1" r="2.8"/><circle cx="927.5" cy="469.7" r="2.8"/><circle cx="964.8" cy="399.6" r="2.8"/><circle cx="1081.8" cy="466.8" r="2.8"/><circle cx="1110.1" cy="412" r="2.8"/><circle cx="1124.7" cy="411.1" r="2.8"/><circle cx="877.8" cy="442.9" r="2.8"/><circle cx="896.5" cy="474.4" r="2.8"/><circle cx="846.6" cy="395.6" r="2.8"/><circle cx="1052" cy="475" r="2.8"/><circle cx="865.2" cy="420.4" r="2.8"/><circle cx="841.1" cy="392" r="2.8"/><circle cx="1012.5" cy="431.5" r="2.8"/><circle cx="842" cy="417.3" r="2.8"/><circle cx="899.2" cy="491.6" r="2.8"/><circle cx="864.7" cy="419.3" r="2.8"/><circle cx="1120.5" cy="415.8" r="2.8"/><circle cx="1117.8" cy="402" r="2.8"/><circle cx="794.8" cy="437.9" r="2.8"/><circle cx="750.9" cy="493.3" r="2.8"/><circle cx="788.4" cy="450.9" r="2.8"/><circle cx="962.2" cy="410.1" r="2.8"/><circle cx="996.7" cy="411.1" r="2.8"/><circle cx="966.1" cy="419.4" r="2.8"/><circle cx="895.1" cy="469.2" r="2.8"/><circle cx="870" cy="431.9" r="2.8"/><circle cx="1083.4" cy="460.5" r="2.8"/><circle cx="1041.7" cy="464.2" r="2.8"/><circle cx="950.4" cy="431.9" r="2.8"/><circle cx="723.5" cy="433.4" r="2.8"/><circle cx="1035.3" cy="457.2" r="2.8"/><circle cx="901.8" cy="477.8" r="2.8"/><circle cx="938.2" cy="467.8" r="2.8"/><circle cx="788" cy="475" r="2.8"/><circle cx="748.3" cy="477.7" r="2.8"/><circle cx="888.3" cy="458.5" r="2.8"/><circle cx="815.8" cy="403.4" r="2.8"/><circle cx="1155.3" cy="401.3" r="2.8"/><circle cx="785.8" cy="472.5" r="2.8"/><circle cx="845.3" cy="394.8" r="2.8"/><circle cx="1151.1" cy="418.1" r="2.8"/><circle cx="780.7" cy="460.2" r="2.8"/><circle cx="1138" cy="407.1" r="2.8"/><circle cx="867.4" cy="426.3" r="2.8"/><circle cx="991" cy="411.9" r="2.8"/><circle cx="851.2" cy="415.9" r="2.8"/><circle cx="742.2" cy="490.9" r="2.8"/><circle cx="1041.5" cy="485" r="2.8"/><circle cx="1108.4" cy="434.6" r="2.8"/><circle cx="1097.7" cy="456.4" r="2.8"/><circle cx="993.7" cy="409" r="2.8"/><circle cx="987" cy="410.6" r="2.8"/><circle cx="991.1" cy="407.5" r="2.8"/><circle cx="1103.5" cy="425.8" r="2.8"/><circle cx="964.7" cy="422.3" r="2.8"/><circle cx="738" cy="482" r="2.8"/><circle cx="943.5" cy="444.5" r="2.8"/><circle cx="938.9" cy="471.8" r="2.8"/><circle cx="839.9" cy="407.3" r="2.8"/><circle cx="748.3" cy="475" r="2.8"/><circle cx="770.2" cy="490.9" r="2.8"/><circle cx="1073.7" cy="474.4" r="2.8"/><circle cx="961.1" cy="408.6" r="2.8"/><circle cx="757.4" cy="477.9" r="2.8"/><circle cx="728.2" cy="450.3" r="2.8"/><circle cx="799.3" cy="429.2" r="2.8"/><circle cx="850" cy="414.6" r="2.8"/><circle cx="806" cy="416.9" r="2.8"/><circle cx="759" cy="496.3" r="2.8"/><circle cx="852.6" cy="418.9" r="2.8"/><circle cx="1127.3" cy="389.4" r="2.8"/><circle cx="973.6" cy="412.3" r="2.8"/><circle cx="1150.2" cy="410.3" r="2.8"/><circle cx="1087.6" cy="473.6" r="2.8"/><circle cx="1158" cy="424.5" r="2.8"/><circle cx="762.1" cy="499.7" r="2.8"/><circle cx="1087" cy="474.9" r="2.8"/><circle cx="1117" cy="403.7" r="2.8"/><circle cx="728.8" cy="450.9" r="2.8"/><circle cx="863" cy="417.8" r="2.8"/><circle cx="797.2" cy="451.7" r="2.8"/><circle cx="896.9" cy="488.8" r="2.8"/><circle cx="934.1" cy="458.5" r="2.8"/><circle cx="930.9" cy="481.3" r="2.8"/><circle cx="1122.1" cy="397.2" r="2.8"/><circle cx="1007.8" cy="426.8" r="2.8"/><circle cx="952.8" cy="441.1" r="2.8"/><circle cx="883.5" cy="470.5" r="2.8"/><circle cx="1131" cy="389.8" r="2.8"/><circle cx="762.6" cy="480.5" r="2.8"/><circle cx="860.1" cy="413.1" r="2.8"/><circle cx="939.8" cy="447.4" r="2.8"/><circle cx="982.3" cy="386.6" r="2.8"/><circle cx="803.2" cy="440.7" r="2.8"/><circle cx="741" cy="470" r="2.8"/><circle cx="936.5" cy="473.9" r="2.8"/><circle cx="773.2" cy="492.8" r="2.8"/><circle cx="731.8" cy="472.8" r="2.8"/><circle cx="1064.2" cy="497.3" r="2.8"/><circle cx="1159" cy="404.5" r="2.8"/><circle cx="892.6" cy="487.1" r="2.8"/><circle cx="936.7" cy="455.8" r="2.8"/><circle cx="1143.2" cy="391.5" r="2.8"/><circle cx="1056.6" cy="473.5" r="2.8"/><circle cx="1120.3" cy="415.7" r="2.8"/><circle cx="1076" cy="491.4" r="2.8"/><circle cx="932.6" cy="481.2" r="2.8"/><circle cx="737.8" cy="461.3" r="2.8"/><circle cx="1031.1" cy="443.2" r="2.8"/><circle cx="785.8" cy="455.4" r="2.8"/><circle cx="723.1" cy="455.5" r="2.8"/><circle cx="1021.8" cy="456.3" r="2.8"/><circle cx="1123.6" cy="397.4" r="2.8"/><circle cx="1048.6" cy="494.3" r="2.8"/><circle cx="1089.6" cy="454.4" r="2.8"/><circle cx="992.4" cy="391.5" r="2.8"/><circle cx="1063.7" cy="473.7" r="2.8"/><circle cx="1023.8" cy="434.7" r="2.8"/><circle cx="1106.6" cy="421.6" r="2.8"/><circle cx="999.5" cy="395.1" r="2.8"/><circle cx="953.3" cy="440.5" r="2.8"/><circle cx="766.1" cy="478.5" r="2.8"/><circle cx="1082.6" cy="463.9" r="2.8"/><circle cx="1079.6" cy="468.8" r="2.8"/><circle cx="875.6" cy="442.6" r="2.8"/><circle cx="834.9" cy="390.4" r="2.8"/><circle cx="737.4" cy="480.3" r="2.8"/><circle cx="749.4" cy="493.8" r="2.8"/><circle cx="1166.4" cy="416.1" r="2.8"/><circle cx="862.9" cy="418" r="2.8"/><circle cx="1060.6" cy="495.5" r="2.8"/><circle cx="925" cy="487.1" r="2.8"/><circle cx="725.7" cy="459.5" r="2.8"/><circle cx="847.5" cy="392.3" r="2.8"/><circle cx="913.2" cy="497.5" r="2.8"/><circle cx="798.3" cy="431.7" r="2.8"/><circle cx="848.1" cy="411" r="2.8"/><circle cx="766.1" cy="471.7" r="2.8"/><circle cx="781.4" cy="478.7" r="2.8"/><circle cx="808.4" cy="413.8" r="2.8"/><circle cx="798.6" cy="450.9" r="2.8"/><circle cx="1113" cy="425.9" r="2.8"/><circle cx="1049.7" cy="471.8" r="2.8"/><circle cx="945.3" cy="455" r="2.8"/><circle cx="878.4" cy="465.8" r="2.8"/><circle cx="1164.4" cy="437.5" r="2.8"/><circle cx="1046.7" cy="470.8" r="2.8"/><circle cx="877.4" cy="463.3" r="2.8"/><circle cx="1164.8" cy="430.1" r="2.8"/><circle cx="874.3" cy="438.5" r="2.8"/><circle cx="975.7" cy="410.8" r="2.8"/><circle cx="903.1" cy="495.1" r="2.8"/><circle cx="879.1" cy="465.2" r="2.8"/><circle cx="874" cy="455" r="2.8"/><circle cx="1131.5" cy="389.2" r="2.8"/><circle cx="1155.3" cy="400.4" r="2.8"/><circle cx="740.7" cy="462" r="2.8"/><circle cx="1032.4" cy="451.2" r="2.8"/><circle cx="733.8" cy="459" r="2.8"/><circle cx="768.7" cy="475.5" r="2.8"/><circle cx="1035.6" cy="455.2" r="2.8"/><circle cx="1114.1" cy="409" r="2.8"/><circle cx="1044.6" cy="491.5" r="2.8"/><circle cx="1158.2" cy="419.8" r="2.8"/><circle cx="1081.3" cy="483.4" r="2.8"/><circle cx="756.9" cy="481.8" r="2.8"/><circle cx="785.1" cy="451.5" r="2.8"/><circle cx="1028.6" cy="445.1" r="2.8"/><circle cx="862.6" cy="432.9" r="2.8"/><circle cx="823.6" cy="409.2" r="2.8"/><circle cx="871.7" cy="431.5" r="2.8"/><circle cx="840.3" cy="405.2" r="2.8"/><circle cx="748.7" cy="475.3" r="2.8"/><circle cx="1052.1" cy="492.8" r="2.8"/><circle cx="961.7" cy="432.5" r="2.8"/><circle cx="1131.8" cy="391.7" r="2.8"/><circle cx="814.5" cy="422" r="2.8"/><circle cx="744.8" cy="473.1" r="2.8"/><circle cx="778.3" cy="462.7" r="2.8"/><circle cx="794.3" cy="430.6" r="2.8"/><circle cx="836.1" cy="404.3" r="2.8"/><circle cx="941.5" cy="439.8" r="2.8"/><circle cx="819" cy="413.7" r="2.8"/><circle cx="1036.6" cy="458.5" r="2.8"/><circle cx="932.5" cy="477.4" r="2.8"/><circle cx="1091.9" cy="450.1" r="2.8"/><circle cx="1011.4" cy="411.4" r="2.8"/><circle cx="1141.9" cy="405.7" r="2.8"/><circle cx="898.9" cy="494.7" r="2.8"/><circle cx="1163.1" cy="411.3" r="2.8"/><circle cx="724.6" cy="457.3" r="2.8"/><circle cx="900.5" cy="477.8" r="2.8"/><circle cx="1063.1" cy="496.2" r="2.8"/><circle cx="765.1" cy="479.1" r="2.8"/><circle cx="1102.5" cy="424.5" r="2.8"/><circle cx="1004.8" cy="417" r="2.8"/><circle cx="898.2" cy="473.4" r="2.8"/><circle cx="1006.3" cy="426.5" r="2.8"/><circle cx="1060.2" cy="499.6" r="2.8"/><circle cx="1089.5" cy="454.8" r="2.8"/><circle cx="1010.9" cy="426.7" r="2.8"/><circle cx="862" cy="431.1" r="2.8"/><circle cx="1148" cy="409" r="2.8"/><circle cx="867" cy="439.7" r="2.8"/><circle cx="1014.3" cy="414.7" r="2.8"/><circle cx="1132.9" cy="381.9" r="2.8"/><circle cx="1168.7" cy="423.3" r="2.8"/><circle cx="850.8" cy="414.5" r="2.8"/><circle cx="911.8" cy="501.5" r="2.8"/><circle cx="906.8" cy="498.3" r="2.8"/><circle cx="923.7" cy="488.6" r="2.8"/><circle cx="853.8" cy="396" r="2.8"/><circle cx="780" cy="462" r="2.8"/><circle cx="1152.2" cy="414.2" r="2.8"/><circle cx="896.5" cy="490.2" r="2.8"/><circle cx="884.7" cy="475.5" r="2.8"/><circle cx="891.8" cy="467.5" r="2.8"/><circle cx="1038.2" cy="461.2" r="2.8"/><circle cx="787.4" cy="447.2" r="2.8"/><circle cx="862.2" cy="414.5" r="2.8"/><circle cx="1162.1" cy="429.2" r="2.8"/><circle cx="994.9" cy="393.1" r="2.8"/><circle cx="1165.6" cy="417.9" r="2.8"/><circle cx="1023.8" cy="453" r="2.8"/><circle cx="723.1" cy="460.3" r="2.8"/><circle cx="742.3" cy="471.2" r="2.8"/><circle cx="940" cy="450" r="2.8"/><circle cx="814.5" cy="404.3" r="2.8"/><circle cx="1104.6" cy="426.9" r="2.8"/><circle cx="1070.1" cy="476.2" r="2.8"/><circle cx="1122.6" cy="413.7" r="2.8"/><circle cx="906.6" cy="495.2" r="2.8"/><circle cx="1079.2" cy="485.4" r="2.8"/><circle cx="1119.7" cy="419.6" r="2.8"/><circle cx="762.2" cy="479.7" r="2.8"/><circle cx="1122.2" cy="414.2" r="2.8"/><circle cx="896" cy="489.7" r="2.8"/><circle cx="1149.2" cy="413" r="2.8"/><circle cx="1054.5" cy="493.8" r="2.8"/><circle cx="809" cy="413.1" r="2.8"/><circle cx="1168.4" cy="421.1" r="2.8"/><circle cx="1036.5" cy="455.2" r="2.8"/><circle cx="1103.5" cy="428.6" r="2.8"/><circle cx="876.8" cy="442.2" r="2.8"/><circle cx="944.4" cy="457.1" r="2.8"/><circle cx="776.2" cy="469.4" r="2.8"/><circle cx="931.4" cy="483.3" r="2.8"/><circle cx="1133.6" cy="406.5" r="2.8"/><circle cx="882.2" cy="450.3" r="2.8"/><circle cx="1117.1" cy="401.7" r="2.8"/><circle cx="884" cy="453.8" r="2.8"/><circle cx="838.3" cy="389.4" r="2.8"/><circle cx="1036.6" cy="473.8" r="2.8"/><circle cx="854.4" cy="401.1" r="2.8"/><circle cx="798" cy="427.8" r="2.8"/><circle cx="765.4" cy="479.7" r="2.8"/><circle cx="903.3" cy="477.9" r="2.8"/><circle cx="739.3" cy="491.7" r="2.8"/><circle cx="1146.3" cy="390.2" r="2.8"/><circle cx="767.9" cy="475.3" r="2.8"/><circle cx="1000.8" cy="398.2" r="2.8"/><circle cx="1130.1" cy="391.4" r="2.8"/><circle cx="793.3" cy="456.6" r="2.8"/><circle cx="1072" cy="493.3" r="2.8"/><circle cx="953.7" cy="439.5" r="2.8"/><circle cx="980.4" cy="406.1" r="2.8"/><circle cx="977.7" cy="411.8" r="2.8"/><circle cx="887.5" cy="476.9" r="2.8"/><circle cx="787.3" cy="446.5" r="2.8"/><circle cx="1128.8" cy="408.9" r="2.8"/><circle cx="1069.1" cy="478.5" r="2.8"/><circle cx="785.8" cy="473.3" r="2.8"/><circle cx="863" cy="436.1" r="2.8"/><circle cx="900.3" cy="491.6" r="2.8"/><circle cx="898.5" cy="475.8" r="2.8"/><circle cx="938.2" cy="468" r="2.8"/><circle cx="1034.4" cy="452.4" r="2.8"/><circle cx="1011.6" cy="428.2" r="2.8"/><circle cx="837.2" cy="384" r="2.8"/><circle cx="1157" cy="419.1" r="2.8"/><circle cx="865.3" cy="418.7" r="2.8"/><circle cx="1151.1" cy="414.4" r="2.8"/><circle cx="892.6" cy="466.7" r="2.8"/><circle cx="799" cy="447.6" r="2.8"/><circle cx="874.4" cy="455.1" r="2.8"/><circle cx="810.3" cy="431.3" r="2.8"/><circle cx="1109.7" cy="412.6" r="2.8"/><circle cx="781.5" cy="483.5" r="2.8"/><circle cx="990.1" cy="389.6" r="2.8"/><circle cx="944.9" cy="437.5" r="2.8"/><circle cx="762.6" cy="478.7" r="2.8"/><circle cx="876.6" cy="442.3" r="2.8"/><circle cx="726.3" cy="446" r="2.8"/><circle cx="1035.1" cy="477.3" r="2.8"/><circle cx="804.7" cy="416.1" r="2.8"/><circle cx="1012.5" cy="429.6" r="2.8"/><circle cx="948.9" cy="425.4" r="2.8"/><circle cx="1019.8" cy="427.4" r="2.8"/><circle cx="1125.7" cy="390.5" r="2.8"/><circle cx="1131" cy="391.2" r="2.8"/><circle cx="1042.6" cy="485" r="2.8"/><circle cx="794.6" cy="439.1" r="2.8"/><circle cx="1074.1" cy="490.7" r="2.8"/><circle cx="788.9" cy="464.7" r="2.8"/><circle cx="1110.8" cy="412.5" r="2.8"/><circle cx="844.4" cy="387.4" r="2.8"/><circle cx="888.2" cy="463.1" r="2.8"/><circle cx="782.7" cy="474.9" r="2.8"/><circle cx="1081.2" cy="482.7" r="2.8"/><circle cx="935.5" cy="475.9" r="2.8"/><circle cx="1173.8" cy="457.8" r="2.8"/><circle cx="870.5" cy="449.8" r="2.8"/><circle cx="958.6" cy="431.3" r="2.8"/><circle cx="874.2" cy="461" r="2.8"/><circle cx="1053" cy="478.6" r="2.8"/><circle cx="1010.1" cy="410" r="2.8"/><circle cx="937.3" cy="454.3" r="2.8"/><circle cx="985.6" cy="405" r="2.8"/><circle cx="1051.7" cy="492.5" r="2.8"/><circle cx="988.3" cy="389.2" r="2.8"/><circle cx="1073" cy="499.7" r="2.8"/><circle cx="740.2" cy="483.1" r="2.8"/><circle cx="750.7" cy="479.4" r="2.8"/><circle cx="830.3" cy="389" r="2.8"/><circle cx="1024.1" cy="453.6" r="2.8"/><circle cx="1137.5" cy="406.1" r="2.8"/><circle cx="734.2" cy="477.2" r="2.8"/><circle cx="1036.4" cy="474.5" r="2.8"/><circle cx="822.4" cy="389.6" r="2.8"/><circle cx="1045.7" cy="471.4" r="2.8"/><circle cx="913.9" cy="496.4" r="2.8"/><circle cx="848" cy="413.5" r="2.8"/><circle cx="1117.8" cy="419" r="2.8"/><circle cx="1045.3" cy="470.6" r="2.8"/><circle cx="1069.2" cy="477.4" r="2.8"/><circle cx="819.3" cy="396.8" r="2.8"/><circle cx="1052.4" cy="478" r="2.8"/><circle cx="802.3" cy="421.1" r="2.8"/><circle cx="930.3" cy="484" r="2.8"/><circle cx="875.3" cy="437.5" r="2.8"/><circle cx="1009" cy="409" r="2.8"/><circle cx="750.4" cy="493.7" r="2.8"/><circle cx="1064.8" cy="478.7" r="2.8"/><circle cx="996.5" cy="412" r="2.8"/><circle cx="1152.6" cy="394" r="2.8"/><circle cx="886.8" cy="457.8" r="2.8"/><circle cx="989.5" cy="389.6" r="2.8"/><circle cx="1156.4" cy="403.7" r="2.8"/><circle cx="985.3" cy="408.6" r="2.8"/><circle cx="1143.6" cy="391.5" r="2.8"/><circle cx="891.3" cy="483" r="2.8"/><circle cx="984.2" cy="389.4" r="2.8"/><circle cx="729.5" cy="451.5" r="2.8"/><circle cx="930.6" cy="462.9" r="2.8"/><circle cx="875.6" cy="437.9" r="2.8"/><circle cx="851.1" cy="398.4" r="2.8"/><circle cx="735.6" cy="460" r="2.8"/><circle cx="827.6" cy="388.2" r="2.8"/><circle cx="1095.9" cy="466.2" r="2.8"/><circle cx="1104.6" cy="444" r="2.8"/><circle cx="966.5" cy="421" r="2.8"/><circle cx="1153.8" cy="400.6" r="2.8"/><circle cx="1044.5" cy="484.2" r="2.8"/><circle cx="1085.9" cy="475.4" r="2.8"/><circle cx="930.6" cy="484" r="2.8"/><circle cx="835.5" cy="404.2" r="2.8"/><circle cx="1024.8" cy="458.1" r="2.8"/><circle cx="842.8" cy="409.8" r="2.8"/><circle cx="745.7" cy="489.6" r="2.8"/><circle cx="1033.6" cy="444.5" r="2.8"/><circle cx="882" cy="470.3" r="2.8"/><circle cx="757.3" cy="497.7" r="2.8"/><circle cx="923" cy="475.2" r="2.8"/><circle cx="1171.5" cy="445.3" r="2.8"/><circle cx="838.3" cy="381.4" r="2.8"/><circle cx="770.7" cy="496.8" r="2.8"/><circle cx="885.7" cy="458.8" r="2.8"/><circle cx="1118.1" cy="419.8" r="2.8"/><circle cx="807.2" cy="429.9" r="2.8"/><circle cx="831.7" cy="407.9" r="2.8"/><circle cx="744.9" cy="473.9" r="2.8"/><circle cx="1073.3" cy="476.3" r="2.8"/><circle cx="764" cy="496" r="2.8"/><circle cx="775.6" cy="489.7" r="2.8"/><circle cx="795.1" cy="455.6" r="2.8"/><circle cx="982.5" cy="387.6" r="2.8"/><circle cx="1110.9" cy="411.8" r="2.8"/><circle cx="760.2" cy="500.5" r="2.8"/><circle cx="1099.9" cy="434.3" r="2.8"/><circle cx="843.8" cy="408.8" r="2.8"/><circle cx="1061.3" cy="479.2" r="2.8"/><circle cx="929.5" cy="491.7" r="2.8"/><circle cx="748" cy="466.7" r="2.8"/><circle cx="1097.7" cy="453.8" r="2.8"/><circle cx="1045.6" cy="488.1" r="2.8"/><circle cx="1174.4" cy="449.4" r="2.8"/><circle cx="839.7" cy="406.3" r="2.8"/><circle cx="1143.9" cy="409.7" r="2.8"/><circle cx="887.3" cy="477.9" r="2.8"/><circle cx="748.2" cy="475.4" r="2.8"/><circle cx="899" cy="476.8" r="2.8"/><circle cx="1033.4" cy="468.6" r="2.8"/><circle cx="1090.6" cy="449.2" r="2.8"/><circle cx="1150.4" cy="414.4" r="2.8"/><circle cx="1172" cy="447.7" r="2.8"/><circle cx="761.3" cy="481.7" r="2.8"/><circle cx="892.2" cy="483.7" r="2.8"/><circle cx="766.3" cy="496" r="2.8"/><circle cx="1004.6" cy="400.7" r="2.8"/><circle cx="1162.9" cy="410.6" r="2.8"/><circle cx="776.2" cy="488.4" r="2.8"/><circle cx="781" cy="461.4" r="2.8"/><circle cx="1086" cy="474.7" r="2.8"/><circle cx="1094.5" cy="442.1" r="2.8"/><circle cx="1138.3" cy="390.6" r="2.8"/><circle cx="863.3" cy="418.2" r="2.8"/><circle cx="785.2" cy="456.9" r="2.8"/><circle cx="928.1" cy="485.2" r="2.8"/><circle cx="1133.3" cy="406.8" r="2.8"/><circle cx="1127.6" cy="393.3" r="2.8"/><circle cx="781.7" cy="476.3" r="2.8"/><circle cx="803.8" cy="437.1" r="2.8"/><circle cx="977" cy="411.5" r="2.8"/><circle cx="1035.3" cy="456.9" r="2.8"/><circle cx="834.7" cy="388.3" r="2.8"/><circle cx="960.3" cy="428.8" r="2.8"/><circle cx="937.8" cy="469.2" r="2.8"/><circle cx="903.2" cy="475.2" r="2.8"/><circle cx="759" cy="496.2" r="2.8"/><circle cx="979.2" cy="408" r="2.8"/><circle cx="902.6" cy="496.1" r="2.8"/><circle cx="832" cy="405.1" r="2.8"/><circle cx="1118.7" cy="402.5" r="2.8"/><circle cx="777.8" cy="483.5" r="2.8"/><circle cx="747.8" cy="491.9" r="2.8"/><circle cx="774.6" cy="486.6" r="2.8"/><circle cx="1071.1" cy="477.2" r="2.8"/><circle cx="980.3" cy="406.6" r="2.8"/><circle cx="894.6" cy="466.6" r="2.8"/><circle cx="1075.4" cy="471.8" r="2.8"/><circle cx="1073" cy="492.9" r="2.8"/><circle cx="954.1" cy="424.1" r="2.8"/><circle cx="1069.4" cy="475.9" r="2.8"/><circle cx="816.8" cy="416.6" r="2.8"/><circle cx="951.3" cy="448.3" r="2.8"/><circle cx="1164.1" cy="412.1" r="2.8"/><circle cx="1164" cy="410.5" r="2.8"/><circle cx="956.7" cy="418.3" r="2.8"/><circle cx="1024.6" cy="436" r="2.8"/><circle cx="1019.9" cy="442.5" r="2.8"/><circle cx="819.2" cy="393" r="2.8"/><circle cx="723" cy="454.4" r="2.8"/><circle cx="1010.4" cy="407.5" r="2.8"/><circle cx="873.2" cy="427.6" r="2.8"/><circle cx="1107.7" cy="435.4" r="2.8"/><circle cx="890.5" cy="482.5" r="2.8"/><circle cx="992.9" cy="406.5" r="2.8"/><circle cx="862" cy="433.7" r="2.8"/><circle cx="920.6" cy="473.8" r="2.8"/><circle cx="1116.4" cy="421.9" r="2.8"/><circle cx="1140.7" cy="383.2" r="2.8"/><circle cx="1057.1" cy="475.9" r="2.8"/><circle cx="1143.4" cy="390" r="2.8"/><circle cx="894.5" cy="469.7" r="2.8"/><circle cx="1128.8" cy="407.9" r="2.8"/><circle cx="751.2" cy="502.4" r="2.8"/><circle cx="1131.2" cy="405.7" r="2.8"/><circle cx="814.8" cy="400.6" r="2.8"/><circle cx="1134.5" cy="384.4" r="2.8"/><circle cx="1135.8" cy="406.5" r="2.8"/><circle cx="817.6" cy="398.9" r="2.8"/><circle cx="944.9" cy="440.7" r="2.8"/><circle cx="909.7" cy="495.9" r="2.8"/><circle cx="1088.9" cy="480.2" r="2.8"/><circle cx="1064.4" cy="496.3" r="2.8"/><circle cx="904.4" cy="498.7" r="2.8"/><circle cx="784.4" cy="476" r="2.8"/><circle cx="1002.9" cy="424.9" r="2.8"/><circle cx="876.9" cy="444.9" r="2.8"/><circle cx="1089.2" cy="473" r="2.8"/><circle cx="1047.6" cy="488.1" r="2.8"/><circle cx="901.1" cy="498" r="2.8"/><circle cx="925.6" cy="486.9" r="2.8"/><circle cx="777.8" cy="485.9" r="2.8"/><circle cx="1075.4" cy="473.6" r="2.8"/><circle cx="999.1" cy="410.7" r="2.8"/><circle cx="1017.3" cy="422" r="2.8"/><circle cx="995.8" cy="389.3" r="2.8"/><circle cx="782.2" cy="460.8" r="2.8"/><circle cx="1056.9" cy="501.4" r="2.8"/><circle cx="1106.1" cy="424.2" r="2.8"/><circle cx="1144.1" cy="389.7" r="2.8"/><circle cx="1112.7" cy="409.3" r="2.8"/><circle cx="740" cy="466.7" r="2.8"/><circle cx="1046.5" cy="468.4" r="2.8"/><circle cx="1087.3" cy="455.5" r="2.8"/><circle cx="742.4" cy="488.2" r="2.8"/><circle cx="1098.5" cy="437.6" r="2.8"/><circle cx="985.6" cy="407.1" r="2.8"/><circle cx="840.3" cy="410.2" r="2.8"/><circle cx="864.5" cy="420.2" r="2.8"/><circle cx="927.3" cy="486.2" r="2.8"/><circle cx="741.7" cy="488.1" r="2.8"/><circle cx="1013.5" cy="411.4" r="2.8"/><circle cx="799.3" cy="445.1" r="2.8"/><circle cx="1161" cy="427.3" r="2.8"/><circle cx="915.1" cy="479.1" r="2.8"/><circle cx="1136.5" cy="405.3" r="2.8"/><circle cx="854.1" cy="419.9" r="2.8"/><circle cx="996" cy="411.1" r="2.8"/><circle cx="1000.9" cy="398.6" r="2.8"/><circle cx="807" cy="415.9" r="2.8"/><circle cx="993.7" cy="380.8" r="2.8"/><circle cx="1087.6" cy="474.2" r="2.8"/><circle cx="789.5" cy="464.2" r="2.8"/><circle cx="891.8" cy="483.5" r="2.8"/><circle cx="723.5" cy="459.2" r="2.8"/><circle cx="850.1" cy="414" r="2.8"/><circle cx="907.7" cy="474.7" r="2.8"/><circle cx="858.7" cy="410.9" r="2.8"/><circle cx="964.5" cy="405" r="2.8"/><circle cx="959.3" cy="435.6" r="2.8"/><circle cx="810.7" cy="427.2" r="2.8"/><circle cx="817.2" cy="398.1" r="2.8"/><circle cx="1076.7" cy="487.8" r="2.8"/><circle cx="895.1" cy="471.8" r="2.8"/><circle cx="983.8" cy="405" r="2.8"/><circle cx="1166.3" cy="433.2" r="2.8"/><circle cx="1099.5" cy="452.8" r="2.8"/><circle cx="951.2" cy="430.1" r="2.8"/><circle cx="918.4" cy="493.7" r="2.8"/><circle cx="973.3" cy="415" r="2.8"/><circle cx="871.8" cy="434.4" r="2.8"/><circle cx="729.5" cy="452.3" r="2.8"/><circle cx="740.6" cy="485.1" r="2.8"/><circle cx="1070.8" cy="492.4" r="2.8"/><circle cx="894.2" cy="468.5" r="2.8"/><circle cx="821.9" cy="392" r="2.8"/><circle cx="982.9" cy="407.3" r="2.8"/><circle cx="1105.3" cy="424.3" r="2.8"/><circle cx="802.7" cy="421" r="2.8"/><circle cx="894.6" cy="490.5" r="2.8"/><circle cx="937" cy="471.3" r="2.8"/><circle cx="960.3" cy="410.6" r="2.8"/><circle cx="807.4" cy="432.7" r="2.8"/><circle cx="786.4" cy="471.6" r="2.8"/><circle cx="852.9" cy="419.4" r="2.8"/><circle cx="1015.3" cy="413.6" r="2.8"/><circle cx="725.2" cy="458.8" r="2.8"/><circle cx="937.8" cy="450.9" r="2.8"/><circle cx="1130.7" cy="409.4" r="2.8"/><circle cx="828.4" cy="383.8" r="2.8"/><circle cx="1052.3" cy="494.6" r="2.8"/><circle cx="823" cy="394.9" r="2.8"/><circle cx="1047.3" cy="472.4" r="2.8"/><circle cx="902.3" cy="493" r="2.8"/><circle cx="1172.7" cy="430.5" r="2.8"/><circle cx="1140.7" cy="411" r="2.8"/><circle cx="825.3" cy="392.9" r="2.8"/><circle cx="1080.5" cy="462.4" r="2.8"/><circle cx="1159.6" cy="423.5" r="2.8"/><circle cx="785.2" cy="447.1" r="2.8"/><circle cx="1052.9" cy="476.3" r="2.8"/><circle cx="727.3" cy="445.4" r="2.8"/><circle cx="1016.5" cy="416.3" r="2.8"/><circle cx="820.2" cy="391.2" r="2.8"/><circle cx="1063.9" cy="481.5" r="2.8"/><circle cx="757" cy="481.7" r="2.8"/><circle cx="918.1" cy="499.9" r="2.8"/><circle cx="826.9" cy="391.4" r="2.8"/><circle cx="784.5" cy="479.7" r="2.8"/><circle cx="1001.1" cy="412.6" r="2.8"/><circle cx="1173.4" cy="447.8" r="2.8"/><circle cx="820.1" cy="412" r="2.8"/><circle cx="1055.1" cy="479.6" r="2.8"/><circle cx="924.6" cy="464.7" r="2.8"/><circle cx="786.4" cy="451.8" r="2.8"/><circle cx="1159.5" cy="424.2" r="2.8"/><circle cx="1115.4" cy="424.8" r="2.8"/><circle cx="962.8" cy="426.4" r="2.8"/><circle cx="1019.8" cy="424.4" r="2.8"/><circle cx="725.2" cy="442.5" r="2.8"/><circle cx="942.8" cy="436.8" r="2.8"/><circle cx="897.3" cy="490.1" r="2.8"/><circle cx="1007.1" cy="421.4" r="2.8"/><circle cx="1109.9" cy="416" r="2.8"/><circle cx="1090.6" cy="468.3" r="2.8"/><circle cx="1031.4" cy="449.5" r="2.8"/><circle cx="866.6" cy="422.1" r="2.8"/><circle cx="720.9" cy="458.8" r="2.8"/><circle cx="993.2" cy="391.7" r="2.8"/><circle cx="1147.5" cy="392.6" r="2.8"/><circle cx="801.1" cy="441.7" r="2.8"/><circle cx="883.8" cy="454.2" r="2.8"/><circle cx="736.3" cy="458.5" r="2.8"/><circle cx="984.4" cy="404.1" r="2.8"/><circle cx="979.1" cy="392.3" r="2.8"/><circle cx="1020.6" cy="430.1" r="2.8"/><circle cx="973.6" cy="410.3" r="2.8"/><circle cx="932.3" cy="484.8" r="2.8"/><circle cx="1049.3" cy="489.8" r="2.8"/><circle cx="1126.5" cy="422.7" r="2.8"/><circle cx="786.3" cy="453.4" r="2.8"/><circle cx="1131.4" cy="409.9" r="2.8"/><circle cx="976.7" cy="392.4" r="2.8"/><circle cx="782" cy="453.7" r="2.8"/><circle cx="856.1" cy="405.1" r="2.8"/><circle cx="760.7" cy="495.5" r="2.8"/><circle cx="916.6" cy="497.5" r="2.8"/><circle cx="982.6" cy="390.5" r="2.8"/><circle cx="911.9" cy="480.2" r="2.8"/><circle cx="1110" cy="415.3" r="2.8"/><circle cx="1142.2" cy="386.2" r="2.8"/><circle cx="921.1" cy="491.8" r="2.8"/><circle cx="789.1" cy="449.5" r="2.8"/><circle cx="922.9" cy="475.8" r="2.8"/><circle cx="747.8" cy="490.9" r="2.8"/><circle cx="874.5" cy="454.1" r="2.8"/><circle cx="729.8" cy="452.6" r="2.8"/><circle cx="915.4" cy="479" r="2.8"/><circle cx="1146.5" cy="393" r="2.8"/><circle cx="1111.3" cy="433.5" r="2.8"/><circle cx="1093.6" cy="441.4" r="2.8"/><circle cx="1131.5" cy="391.7" r="2.8"/><circle cx="1043.3" cy="483.8" r="2.8"/><circle cx="774.9" cy="490.7" r="2.8"/><circle cx="757.1" cy="497.5" r="2.8"/><circle cx="1135.3" cy="387.4" r="2.8"/><circle cx="987.5" cy="405.8" r="2.8"/><circle cx="1078" cy="488.8" r="2.8"/><circle cx="1167.2" cy="420" r="2.8"/><circle cx="1036" cy="454.9" r="2.8"/><circle cx="879" cy="468.3" r="2.8"/><circle cx="1044.5" cy="485.6" r="2.8"/><circle cx="1147" cy="385.8" r="2.8"/><circle cx="776.1" cy="470" r="2.8"/><circle cx="895.5" cy="470.5" r="2.8"/><circle cx="1077.1" cy="490" r="2.8"/><circle cx="1131.7" cy="406.9" r="2.8"/><circle cx="770.8" cy="490" r="2.8"/><circle cx="953.2" cy="426.5" r="2.8"/><circle cx="982.6" cy="388.9" r="2.8"/><circle cx="771.3" cy="494.8" r="2.8"/><circle cx="1059.5" cy="474.4" r="2.8"/><circle cx="772.4" cy="491" r="2.8"/><circle cx="1153" cy="420.3" r="2.8"/><circle cx="1030.7" cy="444.2" r="2.8"/><circle cx="826" cy="389.1" r="2.8"/><circle cx="1035.1" cy="455.3" r="2.8"/><circle cx="853.1" cy="401.3" r="2.8"/><circle cx="751.3" cy="479" r="2.8"/><circle cx="893.9" cy="486.3" r="2.8"/><circle cx="854.6" cy="420.8" r="2.8"/><circle cx="912.6" cy="499.1" r="2.8"/><circle cx="977.5" cy="411.7" r="2.8"/><circle cx="1106.2" cy="420.3" r="2.8"/><circle cx="1118.3" cy="403.4" r="2.8"/><circle cx="918.8" cy="473.9" r="2.8"/><circle cx="901.1" cy="493.7" r="2.8"/><circle cx="986.9" cy="389.2" r="2.8"/><circle cx="734" cy="474.1" r="2.8"/><circle cx="1061.1" cy="499.9" r="2.8"/><circle cx="1111.8" cy="413.9" r="2.8"/><circle cx="1156" cy="400.5" r="2.8"/><circle cx="953.9" cy="439.6" r="2.8"/><circle cx="1164.6" cy="429.7" r="2.8"/><circle cx="1120.3" cy="419.7" r="2.8"/><circle cx="844.7" cy="390.4" r="2.8"/><circle cx="1060.7" cy="481.8" r="2.8"/><circle cx="911.8" cy="479.8" r="2.8"/><circle cx="967.4" cy="416.9" r="2.8"/><circle cx="887.1" cy="477.5" r="2.8"/><circle cx="1141.5" cy="405.1" r="2.8"/><circle cx="729" cy="469.1" r="2.8"/><circle cx="1151.1" cy="396" r="2.8"/><circle cx="914.9" cy="481.2" r="2.8"/><circle cx="971.9" cy="413.6" r="2.8"/><circle cx="1024.2" cy="434.2" r="2.8"/><circle cx="1035.1" cy="472.1" r="2.8"/><circle cx="769.8" cy="492" r="2.8"/><circle cx="949" cy="431.5" r="2.8"/><circle cx="1021" cy="430.3" r="2.8"/><circle cx="900.2" cy="476.1" r="2.8"/><circle cx="1137.1" cy="407.3" r="2.8"/><circle cx="922.5" cy="474.3" r="2.8"/><circle cx="1174.1" cy="432.2" r="2.8"/><circle cx="1044.6" cy="484.9" r="2.8"/><circle cx="835.8" cy="403.9" r="2.8"/><circle cx="796.9" cy="432.5" r="2.8"/><circle cx="1104.8" cy="443.8" r="2.8"/><circle cx="732.8" cy="458.1" r="2.8"/><circle cx="1076" cy="466.8" r="2.8"/><circle cx="1136.3" cy="408.8" r="2.8"/><circle cx="885.9" cy="460.1" r="2.8"/><circle cx="871.5" cy="430.2" r="2.8"/><circle cx="1169.4" cy="421" r="2.8"/><circle cx="1086.6" cy="476.7" r="2.8"/><circle cx="910.2" cy="481.1" r="2.8"/><circle cx="1017.3" cy="441.2" r="2.8"/><circle cx="988.9" cy="405.8" r="2.8"/><circle cx="884" cy="471.6" r="2.8"/><circle cx="728.7" cy="469.6" r="2.8"/><circle cx="1172.9" cy="429" r="2.8"/><circle cx="1024.5" cy="454.2" r="2.8"/><circle cx="1022.9" cy="433.7" r="2.8"/><circle cx="1122.1" cy="413.6" r="2.8"/><circle cx="1157.5" cy="404.7" r="2.8"/><circle cx="938" cy="454.3" r="2.8"/><circle cx="1128.8" cy="393.4" r="2.8"/><circle cx="1038.9" cy="455.7" r="2.8"/><circle cx="900.2" cy="493.5" r="2.8"/><circle cx="1039.9" cy="479.9" r="2.8"/><circle cx="952.8" cy="442.7" r="2.8"/><circle cx="1113.5" cy="425" r="2.8"/><circle cx="753.3" cy="498" r="2.8"/><circle cx="834" cy="388.9" r="2.8"/><circle cx="1060.2" cy="499.3" r="2.8"/><circle cx="1110.2" cy="430.4" r="2.8"/><circle cx="741.1" cy="486.8" r="2.8"/><circle cx="998.4" cy="412.2" r="2.8"/><circle cx="789.2" cy="467.3" r="2.8"/><circle cx="1153.9" cy="400.3" r="2.8"/><circle cx="992" cy="389.7" r="2.8"/><circle cx="963" cy="424.9" r="2.8"/><circle cx="1096.9" cy="440.2" r="2.8"/><circle cx="769.2" cy="477.6" r="2.8"/><circle cx="893.2" cy="485.4" r="2.8"/><circle cx="1055.3" cy="497.7" r="2.8"/><circle cx="1138.5" cy="411.7" r="2.8"/><circle cx="1043.9" cy="470" r="2.8"/><circle cx="1112.8" cy="411.6" r="2.8"/><circle cx="814.7" cy="420.7" r="2.8"/><circle cx="878.2" cy="461.6" r="2.8"/><circle cx="1168.5" cy="437.6" r="2.8"/><circle cx="950.8" cy="427.7" r="2.8"/><circle cx="1007.2" cy="421.1" r="2.8"/><circle cx="1170.3" cy="439.9" r="2.8"/><circle cx="1000.4" cy="395.2" r="2.8"/><circle cx="909" cy="479.7" r="2.8"/><circle cx="1073.6" cy="490.4" r="2.8"/><circle cx="757.1" cy="501.3" r="2.8"/><circle cx="791.7" cy="442.1" r="2.8"/><circle cx="874.4" cy="439.3" r="2.8"/><circle cx="932.8" cy="479.2" r="2.8"/><circle cx="911.3" cy="480.3" r="2.8"/><circle cx="772.7" cy="488.9" r="2.8"/><circle cx="900.9" cy="492.8" r="2.8"/><circle cx="905.5" cy="478.8" r="2.8"/><circle cx="1046" cy="471.2" r="2.8"/><circle cx="1004.8" cy="418.3" r="2.8"/><circle cx="728.9" cy="467.7" r="2.8"/><circle cx="754.8" cy="496.4" r="2.8"/><circle cx="722.7" cy="439.6" r="2.8"/><circle cx="726.3" cy="460.3" r="2.8"/><circle cx="843.2" cy="408.3" r="2.8"/><circle cx="1084.6" cy="478.4" r="2.8"/><circle cx="876.9" cy="459.7" r="2.8"/><circle cx="1010.1" cy="409.4" r="2.8"/><circle cx="820.9" cy="396.8" r="2.8"/><circle cx="1084.5" cy="457.2" r="2.8"/><circle cx="985.4" cy="405.8" r="2.8"/><circle cx="791.4" cy="460.3" r="2.8"/><circle cx="1060.6" cy="499.8" r="2.8"/><circle cx="948" cy="450.9" r="2.8"/><circle cx="769.7" cy="477.1" r="2.8"/><circle cx="1112.4" cy="411.7" r="2.8"/><circle cx="1152.6" cy="414" r="2.8"/><circle cx="1132.6" cy="407.4" r="2.8"/><circle cx="822.7" cy="413.4" r="2.8"/><circle cx="957.2" cy="434.8" r="2.8"/><circle cx="758.6" cy="499.4" r="2.8"/><circle cx="1118.2" cy="402.5" r="2.8"/><circle cx="1033.3" cy="467.2" r="2.8"/><circle cx="1114.5" cy="409" r="2.8"/><circle cx="1052.2" cy="470.2" r="2.8"/><circle cx="757.3" cy="501.1" r="2.8"/><circle cx="1105.1" cy="422.3" r="2.8"/><circle cx="1133.5" cy="407.1" r="2.8"/><circle cx="1055.3" cy="477.5" r="2.8"/><circle cx="970.3" cy="392.5" r="2.8"/><circle cx="998.5" cy="409.9" r="2.8"/><circle cx="1108.2" cy="416.9" r="2.8"/><circle cx="905.4" cy="479.9" r="2.8"/><circle cx="1117.7" cy="404.6" r="2.8"/><circle cx="776.2" cy="466.2" r="2.8"/><circle cx="786" cy="454.2" r="2.8"/><circle cx="794" cy="440.2" r="2.8"/><circle cx="807.7" cy="414.5" r="2.8"/><circle cx="1011.9" cy="411.2" r="2.8"/><circle cx="1153.6" cy="399.5" r="2.8"/><circle cx="926" cy="472.5" r="2.8"/><circle cx="1158.7" cy="394.9" r="2.8"/><circle cx="1144.2" cy="407.1" r="2.8"/><circle cx="876" cy="456.9" r="2.8"/><circle cx="1175" cy="432.4" r="2.8"/><circle cx="782" cy="458.4" r="2.8"/><circle cx="1007.1" cy="397.6" r="2.8"/><circle cx="1101.1" cy="454.6" r="2.8"/><circle cx="842.9" cy="393.2" r="2.8"/><circle cx="1052.3" cy="476.1" r="2.8"/><circle cx="1110.2" cy="443.3" r="2.8"/><circle cx="865.7" cy="438.8" r="2.8"/><circle cx="814.2" cy="395.6" r="2.8"/><circle cx="851" cy="397.1" r="2.8"/><circle cx="774.9" cy="466" r="2.8"/><circle cx="1115" cy="424" r="2.8"/><circle cx="1122" cy="396" r="2.8"/><circle cx="1103.7" cy="444.1" r="2.8"/><circle cx="815.2" cy="423.6" r="2.8"/><circle cx="897.7" cy="489.6" r="2.8"/><circle cx="997.3" cy="410" r="2.8"/><circle cx="1009.1" cy="408.4" r="2.8"/><circle cx="806.6" cy="432.5" r="2.8"/><circle cx="1037" cy="476.6" r="2.8"/><circle cx="900" cy="497.4" r="2.8"/><circle cx="783.6" cy="479.7" r="2.8"/><circle cx="983.8" cy="384.2" r="2.8"/><circle cx="1077.2" cy="487.9" r="2.8"/><circle cx="993.9" cy="391.7" r="2.8"/><circle cx="799.8" cy="429.7" r="2.8"/><circle cx="953.1" cy="443.2" r="2.8"/><circle cx="1107.9" cy="420.6" r="2.8"/><circle cx="899.9" cy="496.7" r="2.8"/><circle cx="1017.9" cy="438.4" r="2.8"/><circle cx="744.2" cy="496.6" r="2.8"/><circle cx="963.5" cy="409" r="2.8"/><circle cx="807.6" cy="429.7" r="2.8"/><circle cx="767.1" cy="492.7" r="2.8"/><circle cx="850.9" cy="394.5" r="2.8"/><circle cx="899.6" cy="491.9" r="2.8"/><circle cx="947.8" cy="436" r="2.8"/><circle cx="1139" cy="385" r="2.8"/><circle cx="1055" cy="493.8" r="2.8"/><circle cx="929.9" cy="486.3" r="2.8"/><circle cx="1164.3" cy="415.3" r="2.8"/><circle cx="877.2" cy="436.4" r="2.8"/><circle cx="955.3" cy="419.7" r="2.8"/><circle cx="972.2" cy="416.5" r="2.8"/><circle cx="804.5" cy="435" r="2.8"/><circle cx="928.3" cy="484" r="2.8"/><circle cx="929.3" cy="467.4" r="2.8"/><circle cx="972.4" cy="414.5" r="2.8"/><circle cx="1155.4" cy="400.1" r="2.8"/><circle cx="1104.9" cy="422.7" r="2.8"/><circle cx="1126.4" cy="388.3" r="2.8"/><circle cx="942.7" cy="461.8" r="2.8"/><circle cx="935.6" cy="478.8" r="2.8"/><circle cx="780.6" cy="458" r="2.8"/><circle cx="846.3" cy="392" r="2.8"/><circle cx="1101.2" cy="432.9" r="2.8"/><circle cx="1171.4" cy="421.9" r="2.8"/><circle cx="814.6" cy="400.2" r="2.8"/><circle cx="814.5" cy="404.3" r="2.8"/><circle cx="1026.3" cy="440.7" r="2.8"/><circle cx="860" cy="433.1" r="2.8"/><circle cx="773.2" cy="468.7" r="2.8"/><circle cx="742.7" cy="467.4" r="2.8"/><circle cx="960" cy="413.4" r="2.8"/><circle cx="993.8" cy="386.3" r="2.8"/><circle cx="1169.8" cy="441.9" r="2.8"/><circle cx="949.8" cy="430.8" r="2.8"/><circle cx="755.8" cy="473.5" r="2.8"/><circle cx="795.9" cy="430.7" r="2.8"/><circle cx="1073.9" cy="473.5" r="2.8"/><circle cx="904.8" cy="479.2" r="2.8"/><circle cx="995.9" cy="408.7" r="2.8"/><circle cx="994.3" cy="388.8" r="2.8"/><circle cx="909.7" cy="507.2" r="2.8"/><circle cx="1082.3" cy="465.1" r="2.8"/><circle cx="751.4" cy="476" r="2.8"/><circle cx="1144" cy="408.2" r="2.8"/><circle cx="812.1" cy="424.6" r="2.8"/><circle cx="1013.4" cy="434.1" r="2.8"/><circle cx="846.9" cy="413.1" r="2.8"/><circle cx="1157" cy="419.6" r="2.8"/><circle cx="1072.6" cy="474.3" r="2.8"/><circle cx="854.7" cy="426.2" r="2.8"/><circle cx="1122.4" cy="397.3" r="2.8"/><circle cx="1030.1" cy="447.6" r="2.8"/><circle cx="838.4" cy="379.8" r="2.8"/><circle cx="1037.2" cy="454.7" r="2.8"/><circle cx="802.4" cy="443.3" r="2.8"/><circle cx="1003.6" cy="416.6" r="2.8"/><circle cx="976.7" cy="389" r="2.8"/><circle cx="758.2" cy="498.9" r="2.8"/><circle cx="962.9" cy="425.5" r="2.8"/><circle cx="1030.8" cy="448" r="2.8"/><circle cx="754" cy="478.8" r="2.8"/><circle cx="787.8" cy="469.1" r="2.8"/><circle cx="1103" cy="429.4" r="2.8"/><circle cx="1110.8" cy="430.3" r="2.8"/><circle cx="1018.1" cy="421.4" r="2.8"/><circle cx="896.8" cy="474.1" r="2.8"/><circle cx="948" cy="436.3" r="2.8"/><circle cx="910.3" cy="497.1" r="2.8"/><circle cx="816.6" cy="417" r="2.8"/><circle cx="1089.1" cy="453.4" r="2.8"/><circle cx="924.7" cy="473.3" r="2.8"/><circle cx="841.6" cy="406.8" r="2.8"/><circle cx="1074.4" cy="474.1" r="2.8"/><circle cx="792.4" cy="460.4" r="2.8"/><circle cx="926.6" cy="488.4" r="2.8"/><circle cx="789.4" cy="467.9" r="2.8"/><circle cx="849" cy="412" r="2.8"/><circle cx="778.8" cy="462.6" r="2.8"/><circle cx="1099.1" cy="433.6" r="2.8"/><circle cx="955.5" cy="416.8" r="2.8"/><circle cx="1066.8" cy="478.3" r="2.8"/><circle cx="868.1" cy="427.8" r="2.8"/><circle cx="889.6" cy="462.5" r="2.8"/><circle cx="807" cy="431.2" r="2.8"/><circle cx="1015" cy="442.3" r="2.8"/><circle cx="929.1" cy="491.4" r="2.8"/><circle cx="1126.3" cy="389" r="2.8"/><circle cx="760" cy="495.5" r="2.8"/><circle cx="1035.4" cy="472.9" r="2.8"/><circle cx="836.1" cy="387.2" r="2.8"/><circle cx="837.9" cy="405.3" r="2.8"/><circle cx="758.8" cy="495.9" r="2.8"/><circle cx="860.1" cy="430.7" r="2.8"/><circle cx="860.4" cy="428.3" r="2.8"/><circle cx="778.3" cy="485" r="2.8"/><circle cx="744.9" cy="488.9" r="2.8"/><circle cx="1000.1" cy="395.2" r="2.8"/><circle cx="1043.9" cy="464.9" r="2.8"/><circle cx="770.8" cy="476.4" r="2.8"/><circle cx="957.4" cy="417.7" r="2.8"/><circle cx="783.3" cy="455" r="2.8"/><circle cx="794.8" cy="435.4" r="2.8"/><circle cx="994.1" cy="390.5" r="2.8"/><circle cx="804.5" cy="420.2" r="2.8"/><circle cx="1070.9" cy="477.8" r="2.8"/><circle cx="827.8" cy="392" r="2.8"/><circle cx="967" cy="418" r="2.8"/><circle cx="1045.7" cy="469.8" r="2.8"/><circle cx="1056.4" cy="496.1" r="2.8"/><circle cx="993" cy="407.5" r="2.8"/><circle cx="1031.1" cy="449.9" r="2.8"/><circle cx="1028.4" cy="442" r="2.8"/><circle cx="812.5" cy="407.6" r="2.8"/><circle cx="975.4" cy="409.4" r="2.8"/><circle cx="1000.8" cy="392.1" r="2.8"/><circle cx="934.6" cy="457.1" r="2.8"/><circle cx="896.6" cy="474.8" r="2.8"/><circle cx="1099.7" cy="434.2" r="2.8"/><circle cx="1127.8" cy="390.9" r="2.8"/><circle cx="834.3" cy="407.7" r="2.8"/><circle cx="1141.1" cy="378.5" r="2.8"/><circle cx="1028" cy="443.4" r="2.8"/><circle cx="1005.4" cy="419.6" r="2.8"/><circle cx="1119.5" cy="395.8" r="2.8"/><circle cx="981.1" cy="388.7" r="2.8"/><circle cx="959.4" cy="431.4" r="2.8"/><circle cx="907.8" cy="480.4" r="2.8"/><circle cx="833" cy="405.3" r="2.8"/><circle cx="1053" cy="477.6" r="2.8"/><circle cx="1108" cy="440.6" r="2.8"/><circle cx="787.4" cy="470.5" r="2.8"/><circle cx="1145.3" cy="392.2" r="2.8"/><circle cx="919.1" cy="492.4" r="2.8"/><circle cx="935.3" cy="479.1" r="2.8"/><circle cx="768.5" cy="491.8" r="2.8"/><circle cx="1163.8" cy="406.5" r="2.8"/><circle cx="1005.4" cy="421.9" r="2.8"/><circle cx="1096.6" cy="455.9" r="2.8"/><circle cx="752.4" cy="470.3" r="2.8"/><circle cx="1097.4" cy="454.2" r="2.8"/><circle cx="808.4" cy="410.1" r="2.8"/><circle cx="1103.3" cy="428.8" r="2.8"/><circle cx="833" cy="407.9" r="2.8"/><circle cx="867.8" cy="441.7" r="2.8"/><circle cx="737.7" cy="460.6" r="2.8"/><circle cx="975.3" cy="415.2" r="2.8"/><circle cx="972" cy="421.2" r="2.8"/><circle cx="1168.8" cy="416.6" r="2.8"/><circle cx="1168.7" cy="440.1" r="2.8"/><circle cx="1015.3" cy="435.3" r="2.8"/><circle cx="879.9" cy="465.1" r="2.8"/><circle cx="991.8" cy="389" r="2.8"/><circle cx="1080" cy="469.4" r="2.8"/><circle cx="900.6" cy="477.6" r="2.8"/><circle cx="1028.5" cy="438.8" r="2.8"/><circle cx="902.1" cy="493.3" r="2.8"/><circle cx="767" cy="478.3" r="2.8"/><circle cx="906.3" cy="496.4" r="2.8"/><circle cx="807.8" cy="429.5" r="2.8"/><circle cx="1030.6" cy="448.6" r="2.8"/><circle cx="803.7" cy="437.1" r="2.8"/><circle cx="750.2" cy="496.8" r="2.8"/><circle cx="900.2" cy="494.4" r="2.8"/><circle cx="1001" cy="413.2" r="2.8"/><circle cx="969.5" cy="397.1" r="2.8"/><circle cx="1076.2" cy="473.1" r="2.8"/><circle cx="1024.7" cy="454.6" r="2.8"/><circle cx="764.3" cy="495.3" r="2.8"/><circle cx="753.2" cy="478.8" r="2.8"/><circle cx="947.3" cy="435.9" r="2.8"/><circle cx="1065.5" cy="498.5" r="2.8"/><circle cx="1086.5" cy="477.7" r="2.8"/><circle cx="1029" cy="462.7" r="2.8"/><circle cx="771.9" cy="488.7" r="2.8"/><circle cx="1056" cy="479.9" r="2.8"/><circle cx="1155.8" cy="421.4" r="2.8"/><circle cx="899.7" cy="472.6" r="2.8"/><circle cx="745.6" cy="489.7" r="2.8"/><circle cx="1134.3" cy="405.7" r="2.8"/><circle cx="1109.1" cy="433.3" r="2.8"/><circle cx="1010.8" cy="427.5" r="2.8"/><circle cx="793.8" cy="437.1" r="2.8"/><circle cx="794" cy="454.6" r="2.8"/><circle cx="762.8" cy="500.2" r="2.8"/><circle cx="1157.2" cy="404.8" r="2.8"/><circle cx="742.6" cy="472.3" r="2.8"/><circle cx="910.1" cy="504.5" r="2.8"/><circle cx="1018.7" cy="442.3" r="2.8"/><circle cx="760.8" cy="479.2" r="2.8"/><circle cx="958" cy="412.5" r="2.8"/><circle cx="867.5" cy="426.8" r="2.8"/><circle cx="1069.5" cy="473.8" r="2.8"/><circle cx="830.4" cy="404.8" r="2.8"/><circle cx="1062.4" cy="478.6" r="2.8"/><circle cx="776.5" cy="469.5" r="2.8"/><circle cx="1026.6" cy="456.9" r="2.8"/><circle cx="731" cy="474.9" r="2.8"/><circle cx="769.7" cy="471.1" r="2.8"/><circle cx="833.1" cy="405.8" r="2.8"/><circle cx="730.9" cy="453.6" r="2.8"/><circle cx="1092.4" cy="449.8" r="2.8"/><circle cx="871.3" cy="452.4" r="2.8"/><circle cx="801.5" cy="424.4" r="2.8"/><circle cx="745.2" cy="491.6" r="2.8"/><circle cx="909.6" cy="495.5" r="2.8"/><circle cx="1087.2" cy="453.7" r="2.8"/><circle cx="829.4" cy="390.9" r="2.8"/><circle cx="1059.3" cy="502.1" r="2.8"/><circle cx="982.1" cy="405.3" r="2.8"/><circle cx="829.5" cy="408.1" r="2.8"/><circle cx="1142.3" cy="406.7" r="2.8"/><circle cx="1064.4" cy="500.9" r="2.8"/><circle cx="783.8" cy="473.4" r="2.8"/><circle cx="825" cy="414.4" r="2.8"/><circle cx="1023" cy="448.2" r="2.8"/><circle cx="855.8" cy="399.7" r="2.8"/><circle cx="836.5" cy="390.7" r="2.8"/><circle cx="875.8" cy="439" r="2.8"/><circle cx="1086.7" cy="454" r="2.8"/><circle cx="1088" cy="472.1" r="2.8"/><circle cx="730" cy="468.2" r="2.8"/><circle cx="1069.8" cy="478" r="2.8"/><circle cx="1102.2" cy="428.6" r="2.8"/><circle cx="921.8" cy="475.5" r="2.8"/><circle cx="722" cy="437.2" r="2.8"/><circle cx="796.7" cy="453.4" r="2.8"/><circle cx="832.3" cy="385.4" r="2.8"/><circle cx="1117.3" cy="420" r="2.8"/><circle cx="877.5" cy="473.4" r="2.8"/><circle cx="826.3" cy="411.6" r="2.8"/><circle cx="1108.2" cy="416.9" r="2.8"/><circle cx="910.8" cy="480.3" r="2.8"/><circle cx="1080.9" cy="467" r="2.8"/><circle cx="1062.8" cy="482.2" r="2.8"/><circle cx="915.7" cy="476.2" r="2.8"/><circle cx="961" cy="409.6" r="2.8"/><circle cx="1037.2" cy="459.8" r="2.8"/><circle cx="763.6" cy="495.5" r="2.8"/><circle cx="1034.6" cy="474.2" r="2.8"/><circle cx="861.2" cy="406.5" r="2.8"/><circle cx="744.4" cy="471.8" r="2.8"/><circle cx="796.5" cy="436.3" r="2.8"/><circle cx="736.7" cy="478.9" r="2.8"/><circle cx="830.3" cy="387.1" r="2.8"/><circle cx="938.4" cy="471" r="2.8"/><circle cx="1081" cy="485.6" r="2.8"/><circle cx="762.9" cy="495.3" r="2.8"/><circle cx="867.5" cy="442.4" r="2.8"/><circle cx="1145.6" cy="410.6" r="2.8"/><circle cx="1027.3" cy="440.6" r="2.8"/><circle cx="763.8" cy="496.2" r="2.8"/><circle cx="894.5" cy="487" r="2.8"/><circle cx="1087.4" cy="473.8" r="2.8"/><circle cx="1174.9" cy="449.5" r="2.8"/><circle cx="1149.6" cy="391.8" r="2.8"/><circle cx="882.4" cy="442.6" r="2.8"/><circle cx="786.2" cy="470.6" r="2.8"/><circle cx="821.8" cy="393.1" r="2.8"/><circle cx="934.4" cy="475.9" r="2.8"/><circle cx="1049.4" cy="475.9" r="2.8"/><circle cx="737.7" cy="461" r="2.8"/><circle cx="791.2" cy="441.3" r="2.8"/><circle cx="959.2" cy="414.3" r="2.8"/><circle cx="986.1" cy="408.9" r="2.8"/><circle cx="866.3" cy="422.3" r="2.8"/><circle cx="836.9" cy="409.5" r="2.8"/><circle cx="844.7" cy="384.4" r="2.8"/><circle cx="895.9" cy="468.1" r="2.8"/><circle cx="1136" cy="404.4" r="2.8"/><circle cx="1105.7" cy="446.1" r="2.8"/><circle cx="1030.9" cy="448.8" r="2.8"/><circle cx="981.6" cy="407" r="2.8"/><circle cx="1093.2" cy="439.7" r="2.8"/><circle cx="909" cy="499.5" r="2.8"/><circle cx="881.8" cy="472.8" r="2.8"/><circle cx="978.9" cy="392" r="2.8"/><circle cx="893.2" cy="471.3" r="2.8"/><circle cx="897.2" cy="473.4" r="2.8"/><circle cx="954.1" cy="422.8" r="2.8"/><circle cx="893.9" cy="486.1" r="2.8"/><circle cx="823.4" cy="393" r="2.8"/><circle cx="933.7" cy="475.9" r="2.8"/><circle cx="1052.5" cy="493.7" r="2.8"/><circle cx="1116.5" cy="430" r="2.8"/><circle cx="824.2" cy="409.3" r="2.8"/><circle cx="1068.3" cy="494.2" r="2.8"/><circle cx="812.8" cy="407.4" r="2.8"/><circle cx="1134.9" cy="386.7" r="2.8"/><circle cx="819.4" cy="413.6" r="2.8"/><circle cx="1133" cy="406.1" r="2.8"/><circle cx="919.2" cy="493" r="2.8"/><circle cx="743.2" cy="491.7" r="2.8"/><circle cx="899.2" cy="475.5" r="2.8"/><circle cx="1128.6" cy="410" r="2.8"/><circle cx="984.2" cy="406.7" r="2.8"/><circle cx="786.6" cy="452.8" r="2.8"/><circle cx="976.4" cy="408" r="2.8"/><circle cx="862.7" cy="431.8" r="2.8"/><circle cx="1131" cy="405.7" r="2.8"/><circle cx="945.9" cy="456.9" r="2.8"/><circle cx="1138.6" cy="389.1" r="2.8"/><circle cx="1140.9" cy="385.6" r="2.8"/><circle cx="902" cy="479.2" r="2.8"/><circle cx="1118" cy="404.3" r="2.8"/><circle cx="897" cy="493" r="2.8"/><circle cx="1092" cy="450.3" r="2.8"/><circle cx="892.9" cy="487.1" r="2.8"/><circle cx="913.7" cy="496.2" r="2.8"/><circle cx="800.5" cy="442.3" r="2.8"/><circle cx="1040.8" cy="464" r="2.8"/><circle cx="1015.3" cy="419.3" r="2.8"/><circle cx="1126.7" cy="390.9" r="2.8"/><circle cx="1172.3" cy="429.6" r="2.8"/><circle cx="1092" cy="464.1" r="2.8"/><circle cx="919" cy="498.7" r="2.8"/>
</g>
<path d="M190.2 443 L191.2 441.1 L192.2 439.2 L193.2 437.3 L194.2 435.4 L195.2 433.5 L196.3 431.6 L197.3 429.8 L198.3 427.9 L199.3 426.1 L200.3 424.4 L201.3 422.6 L202.3 420.9 L203.3 419.3 L204.3 417.6 L205.4 416.1 L206.4 414.5 L207.4 413.1 L208.4 411.6 L209.4 410.3 L210.4 408.9 L211.4 407.7 L212.4 406.5 L213.4 405.4 L214.5 404.3 L215.5 403.3 L216.5 402.4 L217.5 401.5 L218.5 400.8 L219.5 400.1 L220.5 399.4 L221.5 398.9 L222.5 398.4 L223.6 398 L224.6 397.7 L225.6 397.4 L226.6 397.3 L227.6 397.2 L228.6 397.2 L229.6 397.3 L230.6 397.5 L231.7 397.7 L232.7 398 L233.7 398.4 L234.7 398.9 L235.7 399.5 L236.7 400.1 L237.7 400.8 L238.7 401.6 L239.7 402.4 L240.8 403.4 L241.8 404.4 L242.8 405.4 L243.8 406.6 L244.8 407.8 L245.8 409 L246.8 410.3 L247.8 411.7 L248.8 413.1 L249.9 414.6 L250.9 416.1 L251.9 417.7 L252.9 419.3 L253.9 421 L254.9 422.7 L255.9 424.4 L256.9 426.2 L257.9 428 L259 429.8 L260 431.7 L261 433.6 L262 435.5 L263 437.4 L264 439.3 L265 441.2 L266 443.1 L267 445 L268.1 446.9 L269.1 448.8 L270.1 450.7 L271.1 452.6 L272.1 454.5 L273.1 456.3 L274.1 458.2 L275.1 460 L276.1 461.7 L277.2 463.5 L278.2 465.2 L279.2 466.8 L280.2 468.4 L281.2 470 L282.2 471.5 L283.2 473 L284.2 474.4 L285.2 475.8 L286.3 477.1 L287.3 478.4 L288.3 479.6 L289.3 480.7 L290.3 481.7 L291.3 482.7 L292.3 483.6 L293.3 484.5 L294.3 485.3 L295.4 486 L296.4 486.6 L297.4 487.1 L298.4 487.6 L299.4 488 L300.4 488.3 L301.4 488.6 L302.4 488.7 L303.4 488.8 L304.5 488.8 L305.5 488.7 L306.5 488.5 L307.5 488.3 L308.5 488 L309.5 487.6 L310.5 487.1 L311.5 486.5 L312.5 485.9 L313.6 485.2 L314.6 484.4 L315.6 483.5 L316.6 482.6 L317.6 481.6 L318.6 480.5 L319.6 479.4 L320.6 478.2 L321.6 476.9 L322.7 475.6 L323.7 474.2 L324.7 472.8 L325.7 471.3 L326.7 469.8 L327.7 468.2 L328.7 466.6 L329.7 464.9 L330.8 463.2 L331.8 461.5 L332.8 459.7 L333.8 457.9 L334.8 456.1 L335.8 454.2 L336.8 452.3 L337.8 450.5 L338.8 448.6 L339.9 446.6 L340.9 444.7 L341.9 442.8 L342.9 440.9 L343.9 439 L344.9 437.1 L345.9 435.2 L346.9 433.3 L347.9 431.4 L349 429.6 L350 427.7 L351 426 L352 424.2 L353 422.5 L354 420.8 L355 419.1 L356 417.5 L357 415.9 L358.1 414.4 L359.1 412.9 L360.1 411.5 L361.1 410.1 L362.1 408.8 L363.1 407.6 L364.1 406.4 L365.1 405.3 L366.1 404.2 L367.2 403.2 L368.2 402.3 L369.2 401.5 L370.2 400.7 L371.2 400 L372.2 399.4 L373.2 398.8 L374.2 398.4 L375.2 398 L376.3 397.7 L377.3 397.4 L378.3 397.3 L379.3 397.2 L380.3 397.2 L381.3 397.3 L382.3 397.5 L383.3 397.7 L384.3 398.1 L385.4 398.5 L386.4 399 L387.4 399.5 L388.4 400.2 L389.4 400.9 L390.4 401.7 L391.4 402.5 L392.4 403.5 L393.4 404.5 L394.5 405.5 L395.5 406.7 L396.5 407.9 L397.5 409.1 L398.5 410.5 L399.5 411.8 L400.5 413.3 L401.5 414.8 L402.5 416.3 L403.6 417.9 L404.6 419.5 L405.6 421.2 L406.6 422.9 L407.6 424.6 L408.6 426.4 L409.6 428.2 L410.6 430 L411.6 431.9 L412.7 433.8 L413.7 435.6 L414.7 437.5 L415.7 439.5 L416.7 441.4 L417.7 443.3 L418.7 445.2 L419.7 447.1 L420.7 449 L421.8 450.9 L422.8 452.8 L423.8 454.7 L424.8 456.5 L425.8 458.3 L426.8 460.1 L427.8 461.9 L428.8 463.6 L429.8 465.3 L430.9 467 L431.9 468.6 L432.9 470.2 L433.9 471.7 L434.9 473.2 L435.9 474.6 L436.9 475.9 L437.9 477.2 L439 478.5 L440 479.7 L441 480.8 L442 481.8 L443 482.8 L444 483.7 L445 484.6 L446 485.3 L447 486 L448.1 486.7 L449.1 487.2 L450.1 487.7 L451.1 488 L452.1 488.4 L453.1 488.6 L454.1 488.7 L455.1 488.8 L456.1 488.8 L457.2 488.7 L458.2 488.5 L459.2 488.3 L460.2 487.9 L461.2 487.5 L462.2 487 L463.2 486.5 L464.2 485.8 L465.2 485.1 L466.3 484.3 L467.3 483.4 L468.3 482.5 L469.3 481.5 L470.3 480.4 L471.3 479.3 L472.3 478.1 L473.3 476.8 L474.3 475.5 L475.4 474.1 L476.4 472.7 L477.4 471.2 L478.4 469.6 L479.4 468 L480.4 466.4 L481.4 464.7 L482.4 463 L483.4 461.3 L484.5 459.5 L485.5 457.7 L486.5 455.9 L487.5 454 L488.5 452.2 L489.5 450.3 L490.5 448.4 L491.5 446.5 L492.5 444.5 L493.6 442.6 L494.6 440.7 L495.6 438.8 L496.6 436.9 L497.6 435 L498.6 433.1 L499.6 431.2 L500.6 429.4 L501.6 427.6 L502.7 425.8 L503.7 424 L504.7 422.3 L505.7 420.6 L506.7 418.9 L507.7 417.3 L508.7 415.8 L509.7 414.2 L510.7 412.8 L511.8 411.4 L512.8 410 L513.8 408.7 L514.8 407.5 L515.8 406.3 L516.8 405.2 L517.8 404.1 L518.8 403.1 L519.8 402.2 L520.9 401.4 L521.9 400.6 L522.9 399.9 L523.9 399.3 L524.9 398.8 L525.9 398.3 L526.9 397.9 L527.9 397.6 L528.9 397.4 L530 397.3 L531 397.2 L532 397.2 L533 397.3 L534 397.5 L535 397.8 L536 398.1 L537 398.5 L538.1 399 L539.1 399.6 L540.1 400.2 L541.1 401 L542.1 401.8 L543.1 402.6 L544.1 403.6 L545.1 404.6 L546.1 405.7 L547.2 406.8 L548.2 408 L549.2 409.3 L550.2 410.6 L551.2 412 L552.2 413.4 L553.2 414.9 L554.2 416.5 L555.2 418 L556.3 419.7 L557.3 421.3 L558.3 423.1 L559.3 424.8 L560.3 426.6 L561.3 428.4 L562.3 430.2 L563.3 432.1 L564.3 433.9 L565.4 435.8 L566.4 437.7 L567.4 439.6 L568.4 441.6 L569.4 443.5 L570.4 445.4 L571.4 447.3 L572.4 449.2 L573.4 451.1 L574.5 453 L575.5 454.9 L576.5 456.7 L577.5 458.5 L578.5 460.3 L579.5 462.1 L580.5 463.8 L581.5 465.5 L582.5 467.1 L583.6 468.8 L584.6 470.3 L585.6 471.8 L586.6 473.3 L587.6 474.7 L588.6 476.1 L589.6 477.4 L590.6 478.6 L591.6 479.8 L592.7 480.9 L593.7 481.9 L594.7 482.9 L595.7 483.8 L596.7 484.7 L597.7 485.4 L598.7 486.1 L599.7 486.7 L600.7 487.2 L601.8 487.7 L602.8 488.1 L603.8 488.4 L604.8 488.6 L605.8 488.7 L606.8 488.8 L607.8 488.8 L608.8 488.7 L609.8 488.5 L610.9 488.2 L611.9 487.9 L612.9 487.5 L613.9 487 L614.9 486.4 L615.9 485.7 L616.9 485 L617.9 484.2 L618.9 483.3 L620 482.4 L621 481.4 L622 480.3 L623 479.1 L624 477.9 L625 476.7 L626 475.3 L627 473.9 L628 472.5 L629.1 471 L630.1 469.5 L631.1 467.9 L632.1 466.2 L633.1 464.6 L634.1 462.9 L635.1 461.1 L636.1 459.3 L637.1 457.5 L638.2 455.7 L639.2 453.8 L640.2 452 L641.2 450.1 L642.2 448.2 L643.2 446.3 L644.2 444.3 L645.2 442.4 L646.3 440.5 L647.3 438.6 L648.3 436.7 L649.3 434.8 L650.3 432.9 L651.3 431 L652.3 429.2 L653.3 427.4 L654.3 425.6 L655.4 423.8 L656.4 422.1 L657.4 420.4 L658.4 418.8 L659.4 417.2 L660.4 415.6 L661.4 414.1 L662.4 412.6 L663.4 411.2 L664.5 409.9 L665.5 408.6 L666.5 407.3 L667.5 406.2 L668.5 405 L669.5 404 L670.5 403 L671.5 402.1 L672.5 401.3 L673.6 400.5 L674.6 399.9 L675.6 399.3 L676.6 398.7 L677.6 398.3 L678.6 397.9 L679.6 397.6 L680.6 397.4 L681.6 397.3 L682.7 397.2 L683.7 397.2 L684.7 397.3 L685.7 397.5 L686.7 397.8 L687.7 398.1 L688.7 398.6 L689.7 399.1 L690.7 399.6 L691.8 400.3 L692.8 401 L693.8 401.8 L694.8 402.7 L695.8 403.7 L696.8 404.7 L697.8 405.8 L698.8 406.9 L699.8 408.1 L700.9 409.4 L701.9 410.7 L702.9 412.1 L703.9 413.6 L704.9 415.1 L705.9 416.6 L706.9 418.2 L707.9 419.8 L708.9 421.5 L710 423.2 L711 425 L712 426.8 L713 428.6 L714 430.4 L715 432.3 L716 434.1 L717 436 L718 437.9 L719.1 439.8 L720.1 441.8 L721.1 443.7 L722.1 445.6 L723.1 447.5 L724.1 449.4 L725.1 451.3 L726.1 453.2 L727.1 455 L728.2 456.9 L729.2 458.7 L730.2 460.5 L731.2 462.3 L732.2 464 L733.2 465.7 L734.2 467.3 L735.2 468.9 L736.2 470.5 L737.3 472 L738.3 473.4 L739.3 474.9 L740.3 476.2 L741.3 477.5 L742.3 478.7 L743.3 479.9 L744.3 481 L745.4 482 L746.4 483 L747.4 483.9 L748.4 484.7 L749.4 485.5 L750.4 486.2 L751.4 486.8 L752.4 487.3 L753.4 487.7 L754.5 488.1 L755.5 488.4 L756.5 488.6 L757.5 488.7 L758.5 488.8 L759.5 488.8 L760.5 488.7 L761.5 488.5 L762.5 488.2 L763.6 487.8 L764.6 487.4 L765.6 486.9 L766.6 486.3 L767.6 485.7 L768.6 484.9 L769.6 484.1 L770.6 483.2 L771.6 482.3 L772.7 481.3 L773.7 480.2 L774.7 479 L775.7 477.8 L776.7 476.5 L777.7 475.2 L778.7 473.8 L779.7 472.4 L780.7 470.9 L781.8 469.3 L782.8 467.7 L783.8 466.1 L784.8 464.4 L785.8 462.7 L786.8 460.9 L787.8 459.2 L788.8 457.3 L789.8 455.5 L790.9 453.7 L791.9 451.8 L792.9 449.9 L793.9 448 L794.9 446.1 L795.9 444.2 L796.9 442.2 L797.9 440.3 L798.9 438.4 L800 436.5 L801 434.6 L802 432.7 L803 430.9 L804 429 L805 427.2 L806 425.4 L807 423.7 L808 421.9 L809.1 420.3 L810.1 418.6 L811.1 417 L812.1 415.4 L813.1 413.9 L814.1 412.5 L815.1 411.1 L816.1 409.7 L817.1 408.4 L818.2 407.2 L819.2 406 L820.2 404.9 L821.2 403.9 L822.2 402.9 L823.2 402 L824.2 401.2 L825.2 400.5 L826.2 399.8 L827.3 399.2 L828.3 398.7 L829.3 398.2 L830.3 397.9 L831.3 397.6 L832.3 397.4 L833.3 397.2 L834.3 397.2 L835.3 397.2 L836.4 397.3 L837.4 397.5 L838.4 397.8 L839.4 398.2 L840.4 398.6 L841.4 399.1 L842.4 399.7 L843.4 400.4 L844.4 401.1 L845.5 401.9 L846.5 402.8 L847.5 403.8 L848.5 404.8 L849.5 405.9 L850.5 407 L851.5 408.2 L852.5 409.5 L853.6 410.9 L854.6 412.3 L855.6 413.7 L856.6 415.2 L857.6 416.8 L858.6 418.4 L859.6 420 L860.6 421.7 L861.6 423.4 L862.7 425.2 L863.7 426.9 L864.7 428.7 L865.7 430.6 L866.7 432.4 L867.7 434.3 L868.7 436.2 L869.7 438.1 L870.7 440 L871.8 441.9 L872.8 443.9 L873.8 445.8 L874.8 447.7 L875.8 449.6 L876.8 451.5 L877.8 453.4 L878.8 455.2 L879.8 457.1 L880.9 458.9 L881.9 460.7 L882.9 462.4 L883.9 464.1 L884.9 465.8 L885.9 467.5 L886.9 469.1 L887.9 470.6 L888.9 472.1 L890 473.6 L891 475 L892 476.3 L893 477.6 L894 478.9 L895 480 L896 481.1 L897 482.1 L898 483.1 L899.1 484 L900.1 484.8 L901.1 485.6 L902.1 486.2 L903.1 486.8 L904.1 487.3 L905.1 487.8 L906.1 488.1 L907.1 488.4 L908.2 488.6 L909.2 488.8 L910.2 488.8 L911.2 488.8 L912.2 488.6 L913.2 488.4 L914.2 488.2 L915.2 487.8 L916.2 487.4 L917.3 486.9 L918.3 486.3 L919.3 485.6 L920.3 484.9 L921.3 484 L922.3 483.2 L923.3 482.2 L924.3 481.2 L925.3 480.1 L926.4 478.9 L927.4 477.7 L928.4 476.4 L929.4 475.1 L930.4 473.7 L931.4 472.2 L932.4 470.7 L933.4 469.2 L934.4 467.6 L935.5 465.9 L936.5 464.2 L937.5 462.5 L938.5 460.8 L939.5 459 L940.5 457.2 L941.5 455.3 L942.5 453.5 L943.5 451.6 L944.6 449.7 L945.6 447.8 L946.6 445.9 L947.6 444 L948.6 442 L949.6 440.1 L950.6 438.2 L951.6 436.3 L952.7 434.4 L953.7 432.5 L954.7 430.7 L955.7 428.8 L956.7 427 L957.7 425.2 L958.7 423.5 L959.7 421.8 L960.7 420.1 L961.8 418.4 L962.8 416.8 L963.8 415.3 L964.8 413.8 L965.8 412.3 L966.8 410.9 L967.8 409.6 L968.8 408.3 L969.8 407.1 L970.9 405.9 L971.9 404.8 L972.9 403.8 L973.9 402.8 L974.9 402 L975.9 401.1 L976.9 400.4 L977.9 399.7 L978.9 399.1 L980 398.6 L981 398.2 L982 397.8 L983 397.6 L984 397.4 L985 397.2 L986 397.2 L987 397.2 L988 397.4 L989.1 397.6 L990.1 397.9 L991.1 398.2 L992.1 398.7 L993.1 399.2 L994.1 399.8 L995.1 400.4 L996.1 401.2 L997.1 402 L998.2 402.9 L999.2 403.9 L1000.2 404.9 L1001.2 406 L1002.2 407.1 L1003.2 408.4 L1004.2 409.7 L1005.2 411 L1006.2 412.4 L1007.3 413.9 L1008.3 415.4 L1009.3 416.9 L1010.3 418.5 L1011.3 420.2 L1012.3 421.9 L1013.3 423.6 L1014.3 425.3 L1015.3 427.1 L1016.4 428.9 L1017.4 430.8 L1018.4 432.6 L1019.4 434.5 L1020.4 436.4 L1021.4 438.3 L1022.4 440.2 L1023.4 442.1 L1024.4 444.1 L1025.5 446 L1026.5 447.9 L1027.5 449.8 L1028.5 451.7 L1029.5 453.6 L1030.5 455.4 L1031.5 457.3 L1032.5 459.1 L1033.5 460.8 L1034.6 462.6 L1035.6 464.3 L1036.6 466 L1037.6 467.6 L1038.6 469.2 L1039.6 470.8 L1040.6 472.3 L1041.6 473.7 L1042.6 475.1 L1043.7 476.5 L1044.7 477.8 L1045.7 479 L1046.7 480.1 L1047.7 481.2 L1048.7 482.2 L1049.7 483.2 L1050.7 484.1 L1051.8 484.9 L1052.8 485.6 L1053.8 486.3 L1054.8 486.9 L1055.8 487.4 L1056.8 487.8 L1057.8 488.2 L1058.8 488.5 L1059.8 488.7 L1060.9 488.8 L1061.9 488.8 L1062.9 488.8 L1063.9 488.6 L1064.9 488.4 L1065.9 488.1 L1066.9 487.8 L1067.9 487.3 L1068.9 486.8 L1070 486.2 L1071 485.5 L1072 484.8 L1073 484 L1074 483.1 L1075 482.1 L1076 481.1 L1077 480 L1078 478.8 L1079.1 477.6 L1080.1 476.3 L1081.1 474.9 L1082.1 473.5 L1083.1 472.1 L1084.1 470.6 L1085.1 469 L1086.1 467.4 L1087.1 465.7 L1088.2 464.1 L1089.2 462.3 L1090.2 460.6 L1091.2 458.8 L1092.2 457 L1093.2 455.1 L1094.2 453.3 L1095.2 451.4 L1096.2 449.5 L1097.3 447.6 L1098.3 445.7 L1099.3 443.8 L1100.3 441.8 L1101.3 439.9 L1102.3 438 L1103.3 436.1 L1104.3 434.2 L1105.3 432.3 L1106.4 430.5 L1107.4 428.7 L1108.4 426.8 L1109.4 425.1 L1110.4 423.3 L1111.4 421.6 L1112.4 419.9 L1113.4 418.3 L1114.4 416.7 L1115.5 415.1 L1116.5 413.6 L1117.5 412.2 L1118.5 410.8 L1119.5 409.5 L1120.5 408.2 L1121.5 407 L1122.5 405.8 L1123.5 404.7 L1124.6 403.7 L1125.6 402.8 L1126.6 401.9 L1127.6 401.1 L1128.6 400.3 L1129.6 399.7 L1130.6 399.1 L1131.6 398.6 L1132.6 398.2 L1133.7 397.8 L1134.7 397.5 L1135.7 397.3 L1136.7 397.2 L1137.7 397.2 L1138.7 397.3 L1139.7 397.4 L1140.7 397.6 L1141.7 397.9 L1142.8 398.3 L1143.8 398.7 L1144.8 399.2 L1145.8 399.8 L1146.8 400.5 L1147.8 401.3 L1148.8 402.1 L1149.8 403 L1150.8 404 L1151.9 405 L1152.9 406.1 L1153.9 407.3 L1154.9 408.5 L1155.9 409.8 L1156.9 411.1 L1157.9 412.6 L1158.9 414 L1160 415.5 L1161 417.1 L1162 418.7 L1163 420.3 L1164 422 L1165 423.7 L1166 425.5 L1167 427.3 L1168 429.1 L1169.1 431 L1170.1 432.8 L1171.1 434.7 L1172.1 436.6 L1173.1 438.5 L1174.1 440.4 L1175.1 442.3 L1176.1 444.2 L1177.1 446.2 L1178.2 448.1 L1179.2 450 L1180.2 451.9 L1181.2 453.7 L1182.2 455.6 L1183.2 457.4 L1184.2 459.2 L1185.2 461 L1186.2 462.8 L1187.3 464.5 L1188.3 466.2 L1189.3 467.8 L1190.3 469.4 L1191.3 470.9 L1192.3 472.4 L1193.3 473.9 L1194.3 475.3 L1195.3 476.6 L1196.4 477.9 L1197.4 479.1 L1198.4 480.2 L1199.4 481.3 L1200.4 482.3 L1201.4 483.3 L1202.4 484.2 L1203.4 485 L1204.4 485.7 L1205.5 486.4 L1206.5 486.9 L1207.5 487.4 L1208.5 487.9 L1209.5 488.2 L1210.5 488.5 L1211.5 488.7 L1212.5 488.8 L1213.5 488.8 L1214.6 488.7 L1215.6 488.6 L1216.6 488.4 L1217.6 488.1 L1218.6 487.7 L1219.6 487.3 L1220.6 486.7 L1221.6 486.1 L1222.6 485.5 L1223.7 484.7 L1224.7 483.9 L1225.7 483 L1226.7 482 L1227.7 481 L1228.7 479.8 L1229.7 478.7 L1230.7 477.4 L1231.7 476.1 L1232.8 474.8 L1233.8 473.4 L1234.8 471.9 L1235.8 470.4 L1236.8 468.8 L1237.8 467.2 L1238.8 465.6 L1239.8 463.9 L1240.8 462.2 L1241.9 460.4 L1242.9 458.6 L1243.9 456.8 L1244.9 455 L1245.9 453.1 L1246.9 451.2 L1247.9 449.3 L1248.9 447.4 L1249.9 445.5 L1251 443.6 L1252 441.7 L1253 439.7 L1254 437.8 L1255 435.9 L1256 434 L1257 432.2 L1258 430.3 L1259.1 428.5 L1260.1 426.7 L1261.1 424.9 L1262.1 423.1 L1263.1 421.4 L1264.1 419.8 L1265.1 418.1 L1266.1 416.5 L1267.1 415 L1268.2 413.5 L1269.2 412.1 L1270.2 410.7 L1271.2 409.3 L1272.2 408.1 L1273.2 406.9 L1274.2 405.7 L1275.2 404.6 L1276.2 403.6 L1277.3 402.7 L1278.3 401.8 L1279.3 401 L1280.3 400.3 L1281.3 399.6 L1282.3 399 L1283.3 398.5 L1284.3 398.1 L1285.3 397.8 L1286.4 397.5 L1287.4 397.3 L1288.4 397.2 L1289.4 397.2 L1290.4 397.3 L1291.4 397.4 L1292.4 397.6 L1293.4 397.9 L1294.4 398.3 L1295.5 398.8 L1296.5 399.3 L1297.5 399.9 L1298.5 400.6 L1299.5 401.3 L1300.5 402.2 L1301.5 403.1 L1302.5 404.1 L1303.5 405.1 L1304.6 406.2 L1305.6 407.4 L1306.6 408.6 L1307.6 409.9 L1308.6 411.3 L1309.6 412.7 L1310.6 414.2 L1311.6 415.7 L1312.6 417.2 L1313.7 418.9 L1314.7 420.5 L1315.7 422.2 L1316.7 423.9 L1317.7 425.7 L1318.7 427.5 L1319.7 429.3 L1320.7 431.1 L1321.7 433 L1322.8 434.9 L1323.8 436.8 L1324.8 438.7 L1325.8 440.6 L1326.8 442.5 L1327.8 444.4 L1328.8 446.4 L1329.8 448.3 L1330.8 450.2 L1331.9 452.1 L1332.9 453.9 L1333.9 455.8 L1334.9 457.6 L1335.9 459.4 L1336.9 461.2 L1337.9 462.9 L1338.9 464.7 L1339.9 466.3 L1341 468 L1342 469.5 L1343 471.1 L1344 472.6 L1345 474 L1346 475.4 L1347 476.7 L1348 478 L1349 479.2 L1350.1 480.3 L1351.1 481.4 L1352.1 482.4 L1353.1 483.4 L1354.1 484.2 L1355.1 485 L1356.1 485.8 L1357.1 486.4 L1358.1 487 L1359.2 487.5 L1360.2 487.9 L1361.2 488.2 L1362.2 488.5 L1363.2 488.7 L1364.2 488.8 L1365.2 488.8 L1366.2 488.7 L1367.3 488.6 L1368.3 488.4 L1369.3 488.1 L1370.3 487.7 L1371.3 487.2 L1372.3 486.7 L1373.3 486.1 L1374.3 485.4 L1375.3 484.6 L1376.4 483.8 L1377.4 482.9 L1378.4 481.9 L1379.4 480.8 L1380.4 479.7 L1381.4 478.5 L1382.4 477.3 L1383.4 476 L1384.4 474.6 L1385.5 473.2 L1386.5 471.8 L1387.5 470.2 L1388.5 468.7 L1389.5 467.1 L1390.5 465.4 L1391.5 463.7 L1392.5 462 L1393.5 460.2 L1394.6 458.4 L1395.6 456.6 L1396.6 454.8 L1397.6 452.9 L1398.6 451 L1399.6 449.1 L1400.6 447.2 L1401.6 445.3 L1402.6 443.4 L1403.7 441.5 L1404.7 439.5 L1405.7 437.6 L1406.7 435.7 L1407.7 433.8 L1408.7 432 L1409.7 430.1 L1410.7 428.3 L1411.7 426.5 L1412.8 424.7 L1413.8 423 L1414.8 421.3 L1415.8 419.6 L1416.8 418 L1417.8 416.4 L1418.8 414.8 L1419.8 413.3 L1420.8 411.9 L1421.9 410.5 L1422.9 409.2 L1423.9 407.9 L1424.9 406.7 L1425.9 405.6 L1426.9 404.5 L1427.9 403.5 L1428.9 402.6 L1429.9 401.7 L1431 400.9 L1432 400.2 L1433 399.5 L1434 399 L1435 398.5 L1436 398.1 L1437 397.7 L1438 397.5 L1439 397.3 L1440.1 397.2 L1441.1 397.2 L1442.1 397.3 L1443.1 397.4 L1444.1 397.6 L1445.1 398 L1446.1 398.3 L1447.1 398.8 L1448.1 399.3 L1449.2 400 L1450.2 400.7 L1451.2 401.4 L1452.2 402.3 L1453.2 403.2 L1454.2 404.2 L1455.2 405.2 L1456.2 406.3 L1457.2 407.5 L1458.3 408.8 L1459.3 410.1 L1460.3 411.4 L1461.3 412.8 L1462.3 414.3 L1463.3 415.8 L1464.3 417.4 L1465.3 419 L1466.4 420.7 L1467.4 422.4 L1468.4 424.1 L1469.4 425.9 L1470.4 427.7 L1471.4 429.5 L1472.4 431.3 L1473.4 433.2 L1474.4 435.1 L1475.5 437 L1476.5 438.9 L1477.5 440.8 L1478.5 442.7 L1479.5 444.6 L1480.5 446.5 L1481.5 448.5 L1482.5 450.4 L1483.5 452.2 L1484.6 454.1 L1485.6 456 L1486.6 457.8 L1487.6 459.6 L1488.6 461.4 L1489.6 463.1 L1490.6 464.8 L1491.6 466.5 L1492.6 468.1 L1493.7 469.7 L1494.7 471.2 L1495.7 472.7 L1496.7 474.2 L1497.7 475.5 L1498.7 476.9 L1499.7 478.1 L1500.7 479.3 L1501.7 480.5 L1502.8 481.5 L1503.8 482.5 L1504.8 483.5 L1505.8 484.3 L1506.8 485.1 L1507.8 485.8 L1508.8 486.5 L1509.8 487 L1510.8 487.5 L1511.9 487.9 L1512.9 488.3 L1513.9 488.5 L1514.9 488.7 L1515.9 488.8 L1516.9 488.8 L1517.9 488.7 L1518.9 488.6 L1519.9 488.3 L1521 488 L1522 487.6 L1523 487.2 L1524 486.6 L1525 486 L1526 485.3 L1527 484.5 L1528 483.7 L1529 482.8 L1530.1 481.8 L1531.1 480.7 L1532.1 479.6 L1533.1 478.4 L1534.1 477.2 L1535.1 475.9 L1536.1 474.5 L1537.1 473.1 L1538.1 471.6 L1539.2 470.1 L1540.2 468.5 L1541.2 466.9 L1542.2 465.2 L1543.2 463.5 L1544.2 461.8 L1545.2 460 L1546.2 458.3 L1547.2 456.4 L1548.3 454.6 L1549.3 452.7 L1550.3 450.8 L1551.3 448.9 L1552.3 447 L1553.3 445.1 L1554.3 443.2 L1555.3 441.3 L1556.3 439.4 L1557.4 437.4 L1558.4 435.5 L1559.4 433.7 L1560.4 431.8 L1561.4 429.9 L1562.4 428.1 L1563.4 426.3 L1564.4 424.5 L1565.4 422.8 L1566.5 421.1 L1567.5 419.4 L1568.5 417.8 L1569.5 416.2 L1570.5 414.7 L1571.5 413.2 L1572.5 411.8 L1573.5 410.4 L1574.6 409.1 L1575.6 407.8 L1576.6 406.6 L1577.6 405.5 L1578.6 404.4 L1579.6 403.4 L1580.6 402.5 L1581.6 401.6 L1582.6 400.8 L1583.7 400.1 L1584.7 399.5 L1585.7 398.9 L1586.7 398.4 L1587.7 398 L1588.7 397.7 L1589.7 397.5 L1590.7 397.3 L1591.7 397.2 L1592.8 397.2 L1593.8 397.3 L1594.8 397.4 L1595.8 397.7 L1596.8 398 L1597.8 398.4 L1598.8 398.9 L1599.8 399.4 L1600.8 400 L1601.9 400.7 L1602.9 401.5 L1603.9 402.4 L1604.9 403.3 L1605.9 404.3 L1606.9 405.3 L1607.9 406.4 L1608.9 407.6 L1609.9 408.9 L1611 410.2 L1612 411.6 L1613 413 L1614 414.5 L1615 416 L1616 417.6 L1617 419.2 L1618 420.8 L1619 422.5 L1620.1 424.3 L1621.1 426 L1622.1 427.8 L1623.1 429.7 L1624.1 431.5 L1625.1 433.4 L1626.1 435.3 L1627.1 437.2 L1628.1 439.1 L1629.2 441 L1630.2 442.9 L1631.2 444.8 L1632.2 446.7 L1633.2 448.6 L1634.2 450.5 L1635.2 452.4 L1636.2 454.3 L1637.2 456.2 L1638.3 458 L1639.3 459.8 L1640.3 461.6 L1641.3 463.3 L1642.3 465 L1643.3 466.7 L1644.3 468.3 L1645.3 469.9 L1646.3 471.4 L1647.4 472.9 L1648.4 474.3 L1649.4 475.7 L1650.4 477 L1651.4 478.2 L1652.4 479.4 L1653.4 480.6 L1654.4 481.6 L1655.4 482.6 L1656.5 483.6 L1657.5 484.4 L1658.5 485.2 L1659.5 485.9 L1660.5 486.5 L1661.5 487.1 L1662.5 487.6 L1663.5 488 L1664.5 488.3 L1665.6 488.5 L1666.6 488.7 L1667.6 488.8 L1668.6 488.8 L1669.6 488.7 L1670.6 488.6 L1671.6 488.3 L1672.6 488 L1673.7 487.6 L1674.7 487.1 L1675.7 486.6 L1676.7 485.9 L1677.7 485.2 L1678.7 484.5 L1679.7 483.6 L1680.7 482.7 L1681.7 481.7 L1682.8 480.6 L1683.8 479.5 L1684.8 478.3 L1685.8 477.1 L1686.8 475.7 L1687.8 474.4 L1688.8 472.9 L1689.8 471.5 L1690.8 469.9 L1691.9 468.4 L1692.9 466.7 L1693.9 465.1 L1694.9 463.4 L1695.9 461.6 L1696.9 459.9 L1697.9 458.1 L1698.9 456.2 L1699.9 454.4 L1701 452.5 L1702 450.6 L1703 448.7 L1704 446.8 L1705 444.9 L1706 443" fill="none" stroke="#008000" stroke-width="2.45" stroke-dasharray="8.9 3.8" stroke-dashoffset="1.1"/>
<path d="M190.3 113.9 L466.8 285.6 L548.4 336.3 L614.4 373 L647.4 388.9 L669.4 402.3 L691.4 417.9 L719.3 440.9 L727.5 455 L735 467 L742 477 L752 486.5 L759 487.2 L765 486.8 L770 484.5 L775 480 L780 473 L790 454 L800.8 433.9 L808.3 420.6 L815 409.9 L821.7 402.8 L827.4 397.9 L830.6 396.3 L833.7 395.9 L836.8 396.5 L841.7 398.8 L846.1 401.4 L850.6 405.9 L857.2 414.8 L863 424.1 L868.3 433.9 L876 450 L883.1 461.6 L890.7 473.6 L895.1 480.2 L898.2 483.8 L911.6 489.8 L918.7 486 L925.3 480.2 L934.2 469.1 L940.9 458.9 L945.3 450 L952.6 433.9 L960.6 419.7 L967.2 409.9 L973.9 402.3 L978.8 398.8 L982.8 397 L985.9 396.5 L989.4 397 L993.9 398.8 L998.3 401.9 L1002.8 406.3 L1009.4 415.2 L1015.2 425 L1020.1 433.9 L1027.8 450 L1034.4 461.6 L1041.1 472.2 L1046 478.4 L1049.6 482 L1062 489.6 L1070 486.9 L1075.3 482 L1082 473.6 L1088.7 463.3 L1096.7 450 L1104.3 433.9 L1110.6 422.8 L1116.3 412.6 L1121.7 404.6 L1125.2 400.6 L1129.7 398.3 L1135 397.4 L1141.7 396.8 L1145.7 396.8 L1150.6 401.9 L1157.2 409.9 L1163.9 420.6 L1171.9 433.9 L1176.6 441.8 L1289.4 559.1 L1431.6 708.7 L1502 776.5 L1706 959.6" fill="none" stroke="#ff0000" stroke-width="3.7" stroke-linejoin="round"/>
<text transform="translate(948 46.1) scale(1.0054 1.03)" text-anchor="middle" font-family="'Liberation Sans',Arial,Helvetica,sans-serif" font-size="36.67" fill="#000" stroke="#000" stroke-width="0.3">Prediction vs Ground Truth (Sine Wave)</text>
<text transform="translate(107.9 106.3) scale(0.974 1)" text-anchor="end" font-family="'Liberation Sans',Arial,Helvetica,sans-serif" font-size="24.44" fill="#4d4d4d" stroke="#4d4d4d" stroke-width="0.3">5.0</text>
<text transform="translate(107.9 279.3) scale(0.974 1)" text-anchor="end" font-family="'Liberation Sans',Arial,Helvetica,sans-serif" font-size="24.44" fill="#4d4d4d" stroke="#4d4d4d" stroke-width="0.3">2.5</text>
<text transform="translate(107.9 452.3) scale(0.974 1)" text-anchor="end" font-family="'Liberation Sans',Arial,Helvetica,sans-serif" font-size="24.44" fill="#4d4d4d" stroke="#4d4d4d" stroke-width="0.3">0.0</text>
<text transform="translate(107.9 624.3) scale(1.004 1)" text-anchor="end" font-family="'Liberation Sans',Arial,Helvetica,sans-serif" font-size="24.44" fill="#4d4d4d" stroke="#4d4d4d" stroke-width="0.3">-2.5</text>
<text transform="translate(107.9 797.3) scale(1.004 1)" text-anchor="end" font-family="'Liberation Sans',Arial,Helvetica,sans-serif" font-size="24.44" fill="#4d4d4d" stroke="#4d4d4d" stroke-width="0.3">-5.0</text>
<text transform="translate(107.9 970.3) scale(1.004 1)" text-anchor="end" font-family="'Liberation Sans',Arial,Helvetica,sans-serif" font-size="24.44" fill="#4d4d4d" stroke="#4d4d4d" stroke-width="0.3">-7.5</text>
<text transform="translate(466.0 1025) scale(1.03 1)" text-anchor="middle" font-family="'Liberation Sans',Arial,Helvetica,sans-serif" font-size="24.44" fill="#4d4d4d" stroke="#4d4d4d" stroke-width="0.3">-2</text>
<text transform="translate(948.6 1025)" text-anchor="middle" font-family="'Liberation Sans',Arial,Helvetica,sans-serif" font-size="24.44" fill="#4d4d4d" stroke="#4d4d4d" stroke-width="0.3">0</text>
<text transform="translate(1431.9 1025) scale(1.05 1)" text-anchor="middle" font-family="'Liberation Sans',Arial,Helvetica,sans-serif" font-size="24.44" fill="#4d4d4d" stroke="#4d4d4d" stroke-width="0.3">2</text>
<text transform="translate(948.5 1071)" text-anchor="middle" font-family="'Liberation Sans',Arial,Helvetica,sans-serif" font-size="30.56" fill="#000" stroke="#000" stroke-width="0.3">x</text>
<text transform="translate(40 538.3) rotate(-90) scale(0.95 1)" text-anchor="middle" font-family="'Liberation Sans',Arial,Helvetica,sans-serif" font-size="30.56" fill="#000" stroke="#000" stroke-width="0.3">y</text>
<path d="M613 1157h44" stroke="#0000ff" stroke-width="4" fill="none"/><circle cx="635.5" cy="1157.4" r="2.9" fill="#0000ff" fill-opacity=".3" stroke="#0000ff" stroke-opacity=".3" stroke-width="1.5"/>
<path d="M833 1157h44" stroke="#008000" stroke-width="4" fill="none"/><circle cx="855.5" cy="1157.4" r="2.9" fill="#008000" fill-opacity=".3" stroke="#008000" stroke-opacity=".3" stroke-width="1.5"/>
<path d="M1081 1157h44" stroke="#ff0000" stroke-width="4" fill="none"/><circle cx="1103.5" cy="1157.4" r="2.9" fill="#ff0000" fill-opacity=".3" stroke="#ff0000" stroke-opacity=".3" stroke-width="1.5"/>
<text transform="translate(669 1162.6) scale(1.01 1)" text-anchor="start" font-family="'Liberation Sans',Arial,Helvetica,sans-serif" font-size="24.44" fill="#000" stroke="#000" stroke-width="0.3">Training Data</text>
<text transform="translate(889 1162.6) scale(1.017 1)" text-anchor="start" font-family="'Liberation Sans',Arial,Helvetica,sans-serif" font-size="24.44" fill="#000" stroke="#000" stroke-width="0.3">True Sine Wave</text>
<text transform="translate(1137 1162.6)" text-anchor="start" font-family="'Liberation Sans',Arial,Helvetica,sans-serif" font-size="24.44" fill="#000" stroke="#000" stroke-width="0.3">Model Prediction</text>
</svg>
</body></html>
